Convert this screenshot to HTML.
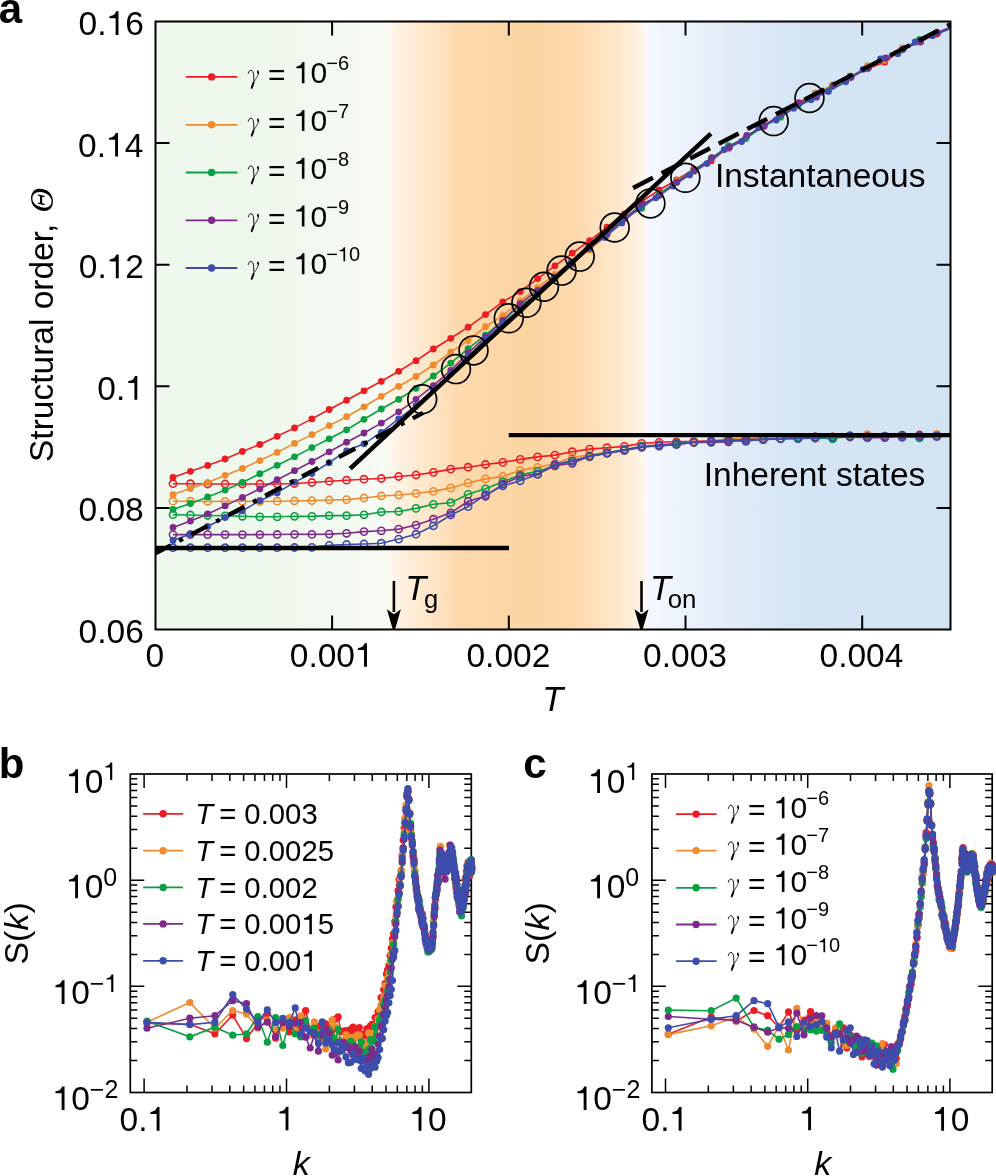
<!DOCTYPE html>
<html><head><meta charset="utf-8"><style>html,body{margin:0;padding:0;background:#fff;width:996px;height:1176px;overflow:hidden}#bg{position:absolute;left:155.5px;top:21.5px;width:795px;height:608px;background:linear-gradient(to right, #EEF8EC 0.00px, #EFF8ED 94.53px, #F2F9F0 174.50px, #F7FBF5 232.38px, #FFF6EC 232.62px, #FEE9CF 264.50px, #FDD9AB 306.47px, #FCD6A6 344.47px, #FCD5A4 384.46px, #FDD9AD 419.52px, #FDE2BE 444.48px, #FEEBD3 469.53px, #FFF8F0 490.44px, #F4F8FF 490.59px, #EDF3FC 524.46px, #E0EBF7 579.48px, #D5E5F4 644.51px, #D2E3F2 795.00px)}svg text{fill:#000}</style></head><body>
<div id="bg"></div>
<svg width="996" height="1176" viewBox="0 0 996 1176" style="position:absolute;left:0;top:0;will-change:transform">
<svg x="155.5" y="21.5" width="795" height="608" viewBox="155.5 21.5 795 608" overflow="hidden">
<polyline points="173.0,483.7 190.4,483.7 207.7,484.0 225.1,484.0 242.4,484.0 259.8,484.0 277.2,484.0 294.5,483.5 311.9,482.5 329.2,481.2 346.6,480.2 364.0,479.2 381.3,478.5 398.7,476.5 416.0,475.0 433.4,472.4 450.8,469.1 468.1,467.2 485.5,464.5 502.8,462.4 520.2,459.4 537.6,456.9 554.9,455.1 572.3,451.7 589.6,449.1 607.0,447.7 624.4,446.4 641.7,443.4 659.1,442.3 676.4,441.8 693.8,441.3 711.2,440.8 728.5,440.2 745.9,439.8 763.2,439.3 780.6,438.7 798.0,437.7 815.3,436.8 832.7,436.8 850.0,435.9 867.4,436.5 884.8,437.4 902.1,435.4 919.5,435.0 936.8,435.8 954.2,435.5" fill="none" stroke="#ED1C24" stroke-width="1.6"/>
<g fill="none" stroke="#ED1C24" stroke-width="1.6">
<circle cx="173.0" cy="483.7" r="3.6"/><circle cx="190.4" cy="483.7" r="3.6"/><circle cx="207.7" cy="484.0" r="3.6"/><circle cx="225.1" cy="484.0" r="3.6"/><circle cx="242.4" cy="484.0" r="3.6"/><circle cx="259.8" cy="484.0" r="3.6"/><circle cx="277.2" cy="484.0" r="3.6"/><circle cx="294.5" cy="483.5" r="3.6"/><circle cx="311.9" cy="482.5" r="3.6"/><circle cx="329.2" cy="481.2" r="3.6"/><circle cx="346.6" cy="480.2" r="3.6"/><circle cx="364.0" cy="479.2" r="3.6"/><circle cx="381.3" cy="478.5" r="3.6"/><circle cx="398.7" cy="476.5" r="3.6"/><circle cx="416.0" cy="475.0" r="3.6"/><circle cx="433.4" cy="472.4" r="3.6"/><circle cx="450.8" cy="469.1" r="3.6"/><circle cx="468.1" cy="467.2" r="3.6"/><circle cx="485.5" cy="464.5" r="3.6"/><circle cx="502.8" cy="462.4" r="3.6"/><circle cx="520.2" cy="459.4" r="3.6"/><circle cx="537.6" cy="456.9" r="3.6"/><circle cx="554.9" cy="455.1" r="3.6"/><circle cx="572.3" cy="451.7" r="3.6"/><circle cx="589.6" cy="449.1" r="3.6"/><circle cx="607.0" cy="447.7" r="3.6"/><circle cx="624.4" cy="446.4" r="3.6"/><circle cx="641.7" cy="443.4" r="3.6"/><circle cx="659.1" cy="442.3" r="3.6"/><circle cx="676.4" cy="441.8" r="3.6"/><circle cx="693.8" cy="441.3" r="3.6"/><circle cx="711.2" cy="440.8" r="3.6"/><circle cx="728.5" cy="440.2" r="3.6"/><circle cx="745.9" cy="439.8" r="3.6"/><circle cx="763.2" cy="439.3" r="3.6"/><circle cx="780.6" cy="438.7" r="3.6"/><circle cx="798.0" cy="437.7" r="3.6"/><circle cx="815.3" cy="436.8" r="3.6"/><circle cx="832.7" cy="436.8" r="3.6"/><circle cx="850.0" cy="435.9" r="3.6"/><circle cx="867.4" cy="436.5" r="3.6"/><circle cx="884.8" cy="437.4" r="3.6"/><circle cx="902.1" cy="435.4" r="3.6"/><circle cx="919.5" cy="435.0" r="3.6"/><circle cx="936.8" cy="435.8" r="3.6"/><circle cx="954.2" cy="435.5" r="3.6"/>
</g>
<polyline points="173.0,501.2 190.4,501.2 207.7,501.5 225.1,501.3 242.4,501.3 259.8,501.5 277.2,501.2 294.5,501.0 311.9,500.6 329.2,500.0 346.6,499.6 364.0,498.0 381.3,496.0 398.7,495.0 416.0,493.5 433.4,491.4 450.8,487.9 468.1,482.9 485.5,478.9 502.8,476.4 520.2,470.4 537.6,467.4 554.9,463.8 572.3,457.4 589.6,454.9 607.0,452.4 624.4,450.5 641.7,446.1 659.1,444.9 676.4,444.4 693.8,441.2 711.2,441.0 728.5,438.9 745.9,438.8 763.2,437.7 780.6,438.7 798.0,437.2 815.3,438.2 832.7,437.7 850.0,437.0 867.4,434.6 884.8,436.1 902.1,436.2 919.5,436.1 936.8,434.4 954.2,435.2" fill="none" stroke="#EF8A2D" stroke-width="1.6"/>
<g fill="none" stroke="#EF8A2D" stroke-width="1.6">
<circle cx="173.0" cy="501.2" r="3.6"/><circle cx="190.4" cy="501.2" r="3.6"/><circle cx="207.7" cy="501.5" r="3.6"/><circle cx="225.1" cy="501.3" r="3.6"/><circle cx="242.4" cy="501.3" r="3.6"/><circle cx="259.8" cy="501.5" r="3.6"/><circle cx="277.2" cy="501.2" r="3.6"/><circle cx="294.5" cy="501.0" r="3.6"/><circle cx="311.9" cy="500.6" r="3.6"/><circle cx="329.2" cy="500.0" r="3.6"/><circle cx="346.6" cy="499.6" r="3.6"/><circle cx="364.0" cy="498.0" r="3.6"/><circle cx="381.3" cy="496.0" r="3.6"/><circle cx="398.7" cy="495.0" r="3.6"/><circle cx="416.0" cy="493.5" r="3.6"/><circle cx="433.4" cy="491.4" r="3.6"/><circle cx="450.8" cy="487.9" r="3.6"/><circle cx="468.1" cy="482.9" r="3.6"/><circle cx="485.5" cy="478.9" r="3.6"/><circle cx="502.8" cy="476.4" r="3.6"/><circle cx="520.2" cy="470.4" r="3.6"/><circle cx="537.6" cy="467.4" r="3.6"/><circle cx="554.9" cy="463.8" r="3.6"/><circle cx="572.3" cy="457.4" r="3.6"/><circle cx="589.6" cy="454.9" r="3.6"/><circle cx="607.0" cy="452.4" r="3.6"/><circle cx="624.4" cy="450.5" r="3.6"/><circle cx="641.7" cy="446.1" r="3.6"/><circle cx="659.1" cy="444.9" r="3.6"/><circle cx="676.4" cy="444.4" r="3.6"/><circle cx="693.8" cy="441.2" r="3.6"/><circle cx="711.2" cy="441.0" r="3.6"/><circle cx="728.5" cy="438.9" r="3.6"/><circle cx="745.9" cy="438.8" r="3.6"/><circle cx="763.2" cy="437.7" r="3.6"/><circle cx="780.6" cy="438.7" r="3.6"/><circle cx="798.0" cy="437.2" r="3.6"/><circle cx="815.3" cy="438.2" r="3.6"/><circle cx="832.7" cy="437.7" r="3.6"/><circle cx="850.0" cy="437.0" r="3.6"/><circle cx="867.4" cy="434.6" r="3.6"/><circle cx="884.8" cy="436.1" r="3.6"/><circle cx="902.1" cy="436.2" r="3.6"/><circle cx="919.5" cy="436.1" r="3.6"/><circle cx="936.8" cy="434.4" r="3.6"/><circle cx="954.2" cy="435.2" r="3.6"/>
</g>
<polyline points="173.0,514.7 190.4,515.0 207.7,515.5 225.1,515.8 242.4,516.3 259.8,516.8 277.2,516.8 294.5,516.3 311.9,516.4 329.2,515.6 346.6,515.6 364.0,514.8 381.3,512.0 398.7,511.5 416.0,508.4 433.4,504.3 450.8,502.7 468.1,494.3 485.5,488.8 502.8,481.8 520.2,474.8 537.6,471.4 554.9,465.8 572.3,461.3 589.6,456.8 607.0,452.9 624.4,449.5 641.7,446.2 659.1,445.9 676.4,443.0 693.8,442.4 711.2,442.3 728.5,440.1 745.9,439.9 763.2,439.5 780.6,438.9 798.0,437.3 815.3,438.0 832.7,438.8 850.0,435.8 867.4,437.7 884.8,436.7 902.1,435.7 919.5,437.8 936.8,436.5 954.2,434.5" fill="none" stroke="#07A043" stroke-width="1.6"/>
<g fill="none" stroke="#07A043" stroke-width="1.6">
<circle cx="173.0" cy="514.7" r="3.6"/><circle cx="190.4" cy="515.0" r="3.6"/><circle cx="207.7" cy="515.5" r="3.6"/><circle cx="225.1" cy="515.8" r="3.6"/><circle cx="242.4" cy="516.3" r="3.6"/><circle cx="259.8" cy="516.8" r="3.6"/><circle cx="277.2" cy="516.8" r="3.6"/><circle cx="294.5" cy="516.3" r="3.6"/><circle cx="311.9" cy="516.4" r="3.6"/><circle cx="329.2" cy="515.6" r="3.6"/><circle cx="346.6" cy="515.6" r="3.6"/><circle cx="364.0" cy="514.8" r="3.6"/><circle cx="381.3" cy="512.0" r="3.6"/><circle cx="398.7" cy="511.5" r="3.6"/><circle cx="416.0" cy="508.4" r="3.6"/><circle cx="433.4" cy="504.3" r="3.6"/><circle cx="450.8" cy="502.7" r="3.6"/><circle cx="468.1" cy="494.3" r="3.6"/><circle cx="485.5" cy="488.8" r="3.6"/><circle cx="502.8" cy="481.8" r="3.6"/><circle cx="520.2" cy="474.8" r="3.6"/><circle cx="537.6" cy="471.4" r="3.6"/><circle cx="554.9" cy="465.8" r="3.6"/><circle cx="572.3" cy="461.3" r="3.6"/><circle cx="589.6" cy="456.8" r="3.6"/><circle cx="607.0" cy="452.9" r="3.6"/><circle cx="624.4" cy="449.5" r="3.6"/><circle cx="641.7" cy="446.2" r="3.6"/><circle cx="659.1" cy="445.9" r="3.6"/><circle cx="676.4" cy="443.0" r="3.6"/><circle cx="693.8" cy="442.4" r="3.6"/><circle cx="711.2" cy="442.3" r="3.6"/><circle cx="728.5" cy="440.1" r="3.6"/><circle cx="745.9" cy="439.9" r="3.6"/><circle cx="763.2" cy="439.5" r="3.6"/><circle cx="780.6" cy="438.9" r="3.6"/><circle cx="798.0" cy="437.3" r="3.6"/><circle cx="815.3" cy="438.0" r="3.6"/><circle cx="832.7" cy="438.8" r="3.6"/><circle cx="850.0" cy="435.8" r="3.6"/><circle cx="867.4" cy="437.7" r="3.6"/><circle cx="884.8" cy="436.7" r="3.6"/><circle cx="902.1" cy="435.7" r="3.6"/><circle cx="919.5" cy="437.8" r="3.6"/><circle cx="936.8" cy="436.5" r="3.6"/><circle cx="954.2" cy="434.5" r="3.6"/>
</g>
<polyline points="173.0,534.6 190.4,534.6 207.7,534.6 225.1,534.6 242.4,534.6 259.8,534.6 277.2,534.5 294.5,534.3 311.9,534.4 329.2,534.1 346.6,533.3 364.0,531.6 381.3,530.8 398.7,529.1 416.0,525.1 433.4,519.2 450.8,512.8 468.1,501.3 485.5,496.3 502.8,484.2 520.2,476.4 537.6,473.9 554.9,465.7 572.3,463.3 589.6,456.3 607.0,453.4 624.4,450.4 641.7,447.4 659.1,444.8 676.4,444.4 693.8,442.4 711.2,442.1 728.5,442.0 745.9,439.4 763.2,439.6 780.6,438.5 798.0,438.5 815.3,436.9 832.7,437.1 850.0,437.0 867.4,437.7 884.8,437.6 902.1,435.1 919.5,435.3 936.8,436.4 954.2,433.8" fill="none" stroke="#7E2A8B" stroke-width="1.6"/>
<g fill="none" stroke="#7E2A8B" stroke-width="1.6">
<circle cx="173.0" cy="534.6" r="3.6"/><circle cx="190.4" cy="534.6" r="3.6"/><circle cx="207.7" cy="534.6" r="3.6"/><circle cx="225.1" cy="534.6" r="3.6"/><circle cx="242.4" cy="534.6" r="3.6"/><circle cx="259.8" cy="534.6" r="3.6"/><circle cx="277.2" cy="534.5" r="3.6"/><circle cx="294.5" cy="534.3" r="3.6"/><circle cx="311.9" cy="534.4" r="3.6"/><circle cx="329.2" cy="534.1" r="3.6"/><circle cx="346.6" cy="533.3" r="3.6"/><circle cx="364.0" cy="531.6" r="3.6"/><circle cx="381.3" cy="530.8" r="3.6"/><circle cx="398.7" cy="529.1" r="3.6"/><circle cx="416.0" cy="525.1" r="3.6"/><circle cx="433.4" cy="519.2" r="3.6"/><circle cx="450.8" cy="512.8" r="3.6"/><circle cx="468.1" cy="501.3" r="3.6"/><circle cx="485.5" cy="496.3" r="3.6"/><circle cx="502.8" cy="484.2" r="3.6"/><circle cx="520.2" cy="476.4" r="3.6"/><circle cx="537.6" cy="473.9" r="3.6"/><circle cx="554.9" cy="465.7" r="3.6"/><circle cx="572.3" cy="463.3" r="3.6"/><circle cx="589.6" cy="456.3" r="3.6"/><circle cx="607.0" cy="453.4" r="3.6"/><circle cx="624.4" cy="450.4" r="3.6"/><circle cx="641.7" cy="447.4" r="3.6"/><circle cx="659.1" cy="444.8" r="3.6"/><circle cx="676.4" cy="444.4" r="3.6"/><circle cx="693.8" cy="442.4" r="3.6"/><circle cx="711.2" cy="442.1" r="3.6"/><circle cx="728.5" cy="442.0" r="3.6"/><circle cx="745.9" cy="439.4" r="3.6"/><circle cx="763.2" cy="439.6" r="3.6"/><circle cx="780.6" cy="438.5" r="3.6"/><circle cx="798.0" cy="438.5" r="3.6"/><circle cx="815.3" cy="436.9" r="3.6"/><circle cx="832.7" cy="437.1" r="3.6"/><circle cx="850.0" cy="437.0" r="3.6"/><circle cx="867.4" cy="437.7" r="3.6"/><circle cx="884.8" cy="437.6" r="3.6"/><circle cx="902.1" cy="435.1" r="3.6"/><circle cx="919.5" cy="435.3" r="3.6"/><circle cx="936.8" cy="436.4" r="3.6"/><circle cx="954.2" cy="433.8" r="3.6"/>
</g>
<polyline points="173.0,547.7 190.4,547.7 207.7,547.7 225.1,547.7 242.4,547.7 259.8,547.7 277.2,547.7 294.5,547.5 311.9,547.3 329.2,545.3 346.6,544.5 364.0,544.0 381.3,543.2 398.7,539.1 416.0,534.2 433.4,525.8 450.8,515.0 468.1,506.7 485.5,494.7 502.8,485.8 520.2,480.8 537.6,474.4 554.9,464.3 572.3,460.8 589.6,456.1 607.0,452.9 624.4,450.0 641.7,446.8 659.1,446.1 676.4,444.4 693.8,442.2 711.2,441.1 728.5,440.4 745.9,441.3 763.2,439.0 780.6,438.6 798.0,438.7 815.3,437.9 832.7,437.4 850.0,436.2 867.4,436.9 884.8,436.2 902.1,437.3 919.5,436.6 936.8,435.8 954.2,436.2" fill="none" stroke="#3C4DAB" stroke-width="1.6"/>
<g fill="none" stroke="#3C4DAB" stroke-width="1.6">
<circle cx="173.0" cy="547.7" r="3.6"/><circle cx="190.4" cy="547.7" r="3.6"/><circle cx="207.7" cy="547.7" r="3.6"/><circle cx="225.1" cy="547.7" r="3.6"/><circle cx="242.4" cy="547.7" r="3.6"/><circle cx="259.8" cy="547.7" r="3.6"/><circle cx="277.2" cy="547.7" r="3.6"/><circle cx="294.5" cy="547.5" r="3.6"/><circle cx="311.9" cy="547.3" r="3.6"/><circle cx="329.2" cy="545.3" r="3.6"/><circle cx="346.6" cy="544.5" r="3.6"/><circle cx="364.0" cy="544.0" r="3.6"/><circle cx="381.3" cy="543.2" r="3.6"/><circle cx="398.7" cy="539.1" r="3.6"/><circle cx="416.0" cy="534.2" r="3.6"/><circle cx="433.4" cy="525.8" r="3.6"/><circle cx="450.8" cy="515.0" r="3.6"/><circle cx="468.1" cy="506.7" r="3.6"/><circle cx="485.5" cy="494.7" r="3.6"/><circle cx="502.8" cy="485.8" r="3.6"/><circle cx="520.2" cy="480.8" r="3.6"/><circle cx="537.6" cy="474.4" r="3.6"/><circle cx="554.9" cy="464.3" r="3.6"/><circle cx="572.3" cy="460.8" r="3.6"/><circle cx="589.6" cy="456.1" r="3.6"/><circle cx="607.0" cy="452.9" r="3.6"/><circle cx="624.4" cy="450.0" r="3.6"/><circle cx="641.7" cy="446.8" r="3.6"/><circle cx="659.1" cy="446.1" r="3.6"/><circle cx="676.4" cy="444.4" r="3.6"/><circle cx="693.8" cy="442.2" r="3.6"/><circle cx="711.2" cy="441.1" r="3.6"/><circle cx="728.5" cy="440.4" r="3.6"/><circle cx="745.9" cy="441.3" r="3.6"/><circle cx="763.2" cy="439.0" r="3.6"/><circle cx="780.6" cy="438.6" r="3.6"/><circle cx="798.0" cy="438.7" r="3.6"/><circle cx="815.3" cy="437.9" r="3.6"/><circle cx="832.7" cy="437.4" r="3.6"/><circle cx="850.0" cy="436.2" r="3.6"/><circle cx="867.4" cy="436.9" r="3.6"/><circle cx="884.8" cy="436.2" r="3.6"/><circle cx="902.1" cy="437.3" r="3.6"/><circle cx="919.5" cy="436.6" r="3.6"/><circle cx="936.8" cy="435.8" r="3.6"/><circle cx="954.2" cy="436.2" r="3.6"/>
</g>
<polyline points="173.0,477.3 190.4,471.3 207.7,465.4 225.1,459.0 242.4,451.4 259.8,444.5 277.2,436.3 294.5,427.9 311.9,418.9 329.2,409.5 346.6,400.2 364.0,390.8 381.3,381.3 398.7,371.3 416.0,360.7 433.4,349.0 450.8,338.3 468.1,327.2 485.5,314.6 502.8,301.9 520.2,291.6 537.6,278.6 554.9,265.8 572.3,253.1 589.6,240.7 607.0,227.1 624.4,213.9 641.7,201.5 659.1,190.0 676.4,180.0 693.8,169.1 711.2,160.9 728.5,147.4 745.9,137.7 763.2,125.0 780.6,116.4 798.0,102.8 815.3,93.2 832.7,86.0 850.0,76.2 867.4,68.8 884.8,62.2 902.1,49.1 919.5,40.6 936.8,34.1 954.2,26.1" fill="none" stroke="#ED1C24" stroke-width="1.6"/>
<g fill="#ED1C24">
<circle cx="173.0" cy="477.3" r="3.4"/><circle cx="190.4" cy="471.3" r="3.4"/><circle cx="207.7" cy="465.4" r="3.4"/><circle cx="225.1" cy="459.0" r="3.4"/><circle cx="242.4" cy="451.4" r="3.4"/><circle cx="259.8" cy="444.5" r="3.4"/><circle cx="277.2" cy="436.3" r="3.4"/><circle cx="294.5" cy="427.9" r="3.4"/><circle cx="311.9" cy="418.9" r="3.4"/><circle cx="329.2" cy="409.5" r="3.4"/><circle cx="346.6" cy="400.2" r="3.4"/><circle cx="364.0" cy="390.8" r="3.4"/><circle cx="381.3" cy="381.3" r="3.4"/><circle cx="398.7" cy="371.3" r="3.4"/><circle cx="416.0" cy="360.7" r="3.4"/><circle cx="433.4" cy="349.0" r="3.4"/><circle cx="450.8" cy="338.3" r="3.4"/><circle cx="468.1" cy="327.2" r="3.4"/><circle cx="485.5" cy="314.6" r="3.4"/><circle cx="502.8" cy="301.9" r="3.4"/><circle cx="520.2" cy="291.6" r="3.4"/><circle cx="537.6" cy="278.6" r="3.4"/><circle cx="554.9" cy="265.8" r="3.4"/><circle cx="572.3" cy="253.1" r="3.4"/><circle cx="589.6" cy="240.7" r="3.4"/><circle cx="607.0" cy="227.1" r="3.4"/><circle cx="624.4" cy="213.9" r="3.4"/><circle cx="641.7" cy="201.5" r="3.4"/><circle cx="659.1" cy="190.0" r="3.4"/><circle cx="676.4" cy="180.0" r="3.4"/><circle cx="693.8" cy="169.1" r="3.4"/><circle cx="711.2" cy="160.9" r="3.4"/><circle cx="728.5" cy="147.4" r="3.4"/><circle cx="745.9" cy="137.7" r="3.4"/><circle cx="763.2" cy="125.0" r="3.4"/><circle cx="780.6" cy="116.4" r="3.4"/><circle cx="798.0" cy="102.8" r="3.4"/><circle cx="815.3" cy="93.2" r="3.4"/><circle cx="832.7" cy="86.0" r="3.4"/><circle cx="850.0" cy="76.2" r="3.4"/><circle cx="867.4" cy="68.8" r="3.4"/><circle cx="884.8" cy="62.2" r="3.4"/><circle cx="902.1" cy="49.1" r="3.4"/><circle cx="919.5" cy="40.6" r="3.4"/><circle cx="936.8" cy="34.1" r="3.4"/>
</g>
<polyline points="173.0,494.6 190.4,488.5 207.7,482.6 225.1,475.3 242.4,468.5 259.8,460.6 277.2,452.4 294.5,443.4 311.9,434.6 329.2,425.6 346.6,416.7 364.0,406.8 381.3,396.3 398.7,386.3 416.0,376.5 433.4,365.0 450.8,352.1 468.1,340.6 485.5,326.7 502.8,315.6 520.2,301.0 537.6,287.6 554.9,274.3 572.3,261.8 589.6,249.9 607.0,235.0 624.4,218.0 641.7,206.6 659.1,194.7 676.4,181.0 693.8,171.4 711.2,158.0 728.5,148.8 745.9,137.1 763.2,126.9 780.6,115.1 798.0,105.0 815.3,93.3 832.7,84.9 850.0,78.0 867.4,65.6 884.8,60.3 902.1,47.8 919.5,42.5 936.8,32.6 954.2,26.5" fill="none" stroke="#EF8A2D" stroke-width="1.6"/>
<g fill="#EF8A2D">
<circle cx="173.0" cy="494.6" r="3.4"/><circle cx="190.4" cy="488.5" r="3.4"/><circle cx="207.7" cy="482.6" r="3.4"/><circle cx="225.1" cy="475.3" r="3.4"/><circle cx="242.4" cy="468.5" r="3.4"/><circle cx="259.8" cy="460.6" r="3.4"/><circle cx="277.2" cy="452.4" r="3.4"/><circle cx="294.5" cy="443.4" r="3.4"/><circle cx="311.9" cy="434.6" r="3.4"/><circle cx="329.2" cy="425.6" r="3.4"/><circle cx="346.6" cy="416.7" r="3.4"/><circle cx="364.0" cy="406.8" r="3.4"/><circle cx="381.3" cy="396.3" r="3.4"/><circle cx="398.7" cy="386.3" r="3.4"/><circle cx="416.0" cy="376.5" r="3.4"/><circle cx="433.4" cy="365.0" r="3.4"/><circle cx="450.8" cy="352.1" r="3.4"/><circle cx="468.1" cy="340.6" r="3.4"/><circle cx="485.5" cy="326.7" r="3.4"/><circle cx="502.8" cy="315.6" r="3.4"/><circle cx="520.2" cy="301.0" r="3.4"/><circle cx="537.6" cy="287.6" r="3.4"/><circle cx="554.9" cy="274.3" r="3.4"/><circle cx="572.3" cy="261.8" r="3.4"/><circle cx="589.6" cy="249.9" r="3.4"/><circle cx="607.0" cy="235.0" r="3.4"/><circle cx="624.4" cy="218.0" r="3.4"/><circle cx="641.7" cy="206.6" r="3.4"/><circle cx="659.1" cy="194.7" r="3.4"/><circle cx="676.4" cy="181.0" r="3.4"/><circle cx="693.8" cy="171.4" r="3.4"/><circle cx="711.2" cy="158.0" r="3.4"/><circle cx="728.5" cy="148.8" r="3.4"/><circle cx="745.9" cy="137.1" r="3.4"/><circle cx="763.2" cy="126.9" r="3.4"/><circle cx="780.6" cy="115.1" r="3.4"/><circle cx="798.0" cy="105.0" r="3.4"/><circle cx="815.3" cy="93.3" r="3.4"/><circle cx="832.7" cy="84.9" r="3.4"/><circle cx="850.0" cy="78.0" r="3.4"/><circle cx="867.4" cy="65.6" r="3.4"/><circle cx="884.8" cy="60.3" r="3.4"/><circle cx="902.1" cy="47.8" r="3.4"/><circle cx="919.5" cy="42.5" r="3.4"/><circle cx="936.8" cy="32.6" r="3.4"/>
</g>
<polyline points="173.0,509.4 190.4,503.5 207.7,497.0 225.1,490.1 242.4,482.5 259.8,473.7 277.2,465.3 294.5,456.8 311.9,447.6 329.2,438.8 346.6,429.8 364.0,419.3 381.3,409.0 398.7,399.3 416.0,388.3 433.4,376.0 450.8,363.1 468.1,348.6 485.5,335.1 502.8,320.8 520.2,305.5 537.6,294.5 554.9,278.6 572.3,262.1 589.6,248.5 607.0,234.0 624.4,218.1 641.7,208.3 659.1,193.9 676.4,182.4 693.8,169.9 711.2,158.4 728.5,145.6 745.9,138.6 763.2,126.6 780.6,117.2 798.0,105.2 815.3,95.1 832.7,86.0 850.0,76.7 867.4,68.6 884.8,58.5 902.1,49.9 919.5,39.5 936.8,32.6 954.2,27.7" fill="none" stroke="#07A043" stroke-width="1.6"/>
<g fill="#07A043">
<circle cx="173.0" cy="509.4" r="3.4"/><circle cx="190.4" cy="503.5" r="3.4"/><circle cx="207.7" cy="497.0" r="3.4"/><circle cx="225.1" cy="490.1" r="3.4"/><circle cx="242.4" cy="482.5" r="3.4"/><circle cx="259.8" cy="473.7" r="3.4"/><circle cx="277.2" cy="465.3" r="3.4"/><circle cx="294.5" cy="456.8" r="3.4"/><circle cx="311.9" cy="447.6" r="3.4"/><circle cx="329.2" cy="438.8" r="3.4"/><circle cx="346.6" cy="429.8" r="3.4"/><circle cx="364.0" cy="419.3" r="3.4"/><circle cx="381.3" cy="409.0" r="3.4"/><circle cx="398.7" cy="399.3" r="3.4"/><circle cx="416.0" cy="388.3" r="3.4"/><circle cx="433.4" cy="376.0" r="3.4"/><circle cx="450.8" cy="363.1" r="3.4"/><circle cx="468.1" cy="348.6" r="3.4"/><circle cx="485.5" cy="335.1" r="3.4"/><circle cx="502.8" cy="320.8" r="3.4"/><circle cx="520.2" cy="305.5" r="3.4"/><circle cx="537.6" cy="294.5" r="3.4"/><circle cx="554.9" cy="278.6" r="3.4"/><circle cx="572.3" cy="262.1" r="3.4"/><circle cx="589.6" cy="248.5" r="3.4"/><circle cx="607.0" cy="234.0" r="3.4"/><circle cx="624.4" cy="218.1" r="3.4"/><circle cx="641.7" cy="208.3" r="3.4"/><circle cx="659.1" cy="193.9" r="3.4"/><circle cx="676.4" cy="182.4" r="3.4"/><circle cx="693.8" cy="169.9" r="3.4"/><circle cx="711.2" cy="158.4" r="3.4"/><circle cx="728.5" cy="145.6" r="3.4"/><circle cx="745.9" cy="138.6" r="3.4"/><circle cx="763.2" cy="126.6" r="3.4"/><circle cx="780.6" cy="117.2" r="3.4"/><circle cx="798.0" cy="105.2" r="3.4"/><circle cx="815.3" cy="95.1" r="3.4"/><circle cx="832.7" cy="86.0" r="3.4"/><circle cx="850.0" cy="76.7" r="3.4"/><circle cx="867.4" cy="68.6" r="3.4"/><circle cx="884.8" cy="58.5" r="3.4"/><circle cx="902.1" cy="49.9" r="3.4"/><circle cx="919.5" cy="39.5" r="3.4"/><circle cx="936.8" cy="32.6" r="3.4"/>
</g>
<polyline points="173.0,527.5 190.4,521.1 207.7,513.9 225.1,505.9 242.4,497.4 259.8,488.9 277.2,479.7 294.5,470.7 311.9,461.5 329.2,451.8 346.6,442.2 364.0,433.0 381.3,423.1 398.7,411.8 416.0,399.3 433.4,385.7 450.8,370.3 468.1,353.0 485.5,337.0 502.8,320.5 520.2,303.6 537.6,290.3 554.9,277.2 572.3,264.2 589.6,246.9 607.0,234.0 624.4,218.6 641.9,204.2 659.4,195.5 676.9,182.2 694.4,170.8 711.9,157.6 729.4,147.5 746.9,135.5 764.4,125.9 781.8,113.5 799.2,102.9 816.5,97.2 833.9,85.1 851.2,77.3 868.6,67.8 886.0,57.9 903.3,48.9 920.7,41.8 938.0,32.8 955.4,24.6" fill="none" stroke="#7E2A8B" stroke-width="1.6"/>
<g fill="#7E2A8B">
<circle cx="173.0" cy="527.5" r="3.4"/><circle cx="190.4" cy="521.1" r="3.4"/><circle cx="207.7" cy="513.9" r="3.4"/><circle cx="225.1" cy="505.9" r="3.4"/><circle cx="242.4" cy="497.4" r="3.4"/><circle cx="259.8" cy="488.9" r="3.4"/><circle cx="277.2" cy="479.7" r="3.4"/><circle cx="294.5" cy="470.7" r="3.4"/><circle cx="311.9" cy="461.5" r="3.4"/><circle cx="329.2" cy="451.8" r="3.4"/><circle cx="346.6" cy="442.2" r="3.4"/><circle cx="364.0" cy="433.0" r="3.4"/><circle cx="381.3" cy="423.1" r="3.4"/><circle cx="398.7" cy="411.8" r="3.4"/><circle cx="416.0" cy="399.3" r="3.4"/><circle cx="433.4" cy="385.7" r="3.4"/><circle cx="450.8" cy="370.3" r="3.4"/><circle cx="468.1" cy="353.0" r="3.4"/><circle cx="485.5" cy="337.0" r="3.4"/><circle cx="502.8" cy="320.5" r="3.4"/><circle cx="520.2" cy="303.6" r="3.4"/><circle cx="537.6" cy="290.3" r="3.4"/><circle cx="554.9" cy="277.2" r="3.4"/><circle cx="572.3" cy="264.2" r="3.4"/><circle cx="589.6" cy="246.9" r="3.4"/><circle cx="607.0" cy="234.0" r="3.4"/><circle cx="624.4" cy="218.6" r="3.4"/><circle cx="641.9" cy="204.2" r="3.4"/><circle cx="659.4" cy="195.5" r="3.4"/><circle cx="676.9" cy="182.2" r="3.4"/><circle cx="694.4" cy="170.8" r="3.4"/><circle cx="711.9" cy="157.6" r="3.4"/><circle cx="729.4" cy="147.5" r="3.4"/><circle cx="746.9" cy="135.5" r="3.4"/><circle cx="764.4" cy="125.9" r="3.4"/><circle cx="781.8" cy="113.5" r="3.4"/><circle cx="799.2" cy="102.9" r="3.4"/><circle cx="816.5" cy="97.2" r="3.4"/><circle cx="833.9" cy="85.1" r="3.4"/><circle cx="851.2" cy="77.3" r="3.4"/><circle cx="868.6" cy="67.8" r="3.4"/><circle cx="886.0" cy="57.9" r="3.4"/><circle cx="903.3" cy="48.9" r="3.4"/><circle cx="920.7" cy="41.8" r="3.4"/><circle cx="938.0" cy="32.8" r="3.4"/>
</g>
<polyline points="173.0,540.4 190.4,534.0 207.7,526.5 225.1,517.5 242.4,510.9 259.8,500.7 277.2,492.9 294.5,482.1 311.9,473.5 329.2,462.7 346.6,450.8 364.0,443.8 381.3,432.3 398.7,418.8 416.0,405.6 433.4,389.6 450.8,373.6 468.1,356.0 485.5,339.0 502.8,323.1 520.2,309.8 537.1,294.0 554.1,277.9 571.0,262.4 588.0,248.3 604.9,237.4 621.9,222.9 638.8,208.5 655.8,197.8 672.7,186.1 689.6,174.9 706.9,163.6 724.2,149.6 741.6,141.5 758.9,127.5 776.3,120.0 793.7,108.2 811.0,99.7 828.4,91.4 845.7,81.7 863.1,69.3 880.5,58.9 897.8,53.7 915.2,42.0 932.5,35.7 949.9,28.7" fill="none" stroke="#3C4DAB" stroke-width="1.6"/>
<g fill="#3C4DAB">
<circle cx="173.0" cy="540.4" r="3.4"/><circle cx="190.4" cy="534.0" r="3.4"/><circle cx="207.7" cy="526.5" r="3.4"/><circle cx="225.1" cy="517.5" r="3.4"/><circle cx="242.4" cy="510.9" r="3.4"/><circle cx="259.8" cy="500.7" r="3.4"/><circle cx="277.2" cy="492.9" r="3.4"/><circle cx="294.5" cy="482.1" r="3.4"/><circle cx="311.9" cy="473.5" r="3.4"/><circle cx="329.2" cy="462.7" r="3.4"/><circle cx="346.6" cy="450.8" r="3.4"/><circle cx="364.0" cy="443.8" r="3.4"/><circle cx="381.3" cy="432.3" r="3.4"/><circle cx="398.7" cy="418.8" r="3.4"/><circle cx="416.0" cy="405.6" r="3.4"/><circle cx="433.4" cy="389.6" r="3.4"/><circle cx="450.8" cy="373.6" r="3.4"/><circle cx="468.1" cy="356.0" r="3.4"/><circle cx="485.5" cy="339.0" r="3.4"/><circle cx="502.8" cy="323.1" r="3.4"/><circle cx="520.2" cy="309.8" r="3.4"/><circle cx="537.1" cy="294.0" r="3.4"/><circle cx="554.1" cy="277.9" r="3.4"/><circle cx="571.0" cy="262.4" r="3.4"/><circle cx="588.0" cy="248.3" r="3.4"/><circle cx="604.9" cy="237.4" r="3.4"/><circle cx="621.9" cy="222.9" r="3.4"/><circle cx="638.8" cy="208.5" r="3.4"/><circle cx="655.8" cy="197.8" r="3.4"/><circle cx="672.7" cy="186.1" r="3.4"/><circle cx="689.6" cy="174.9" r="3.4"/><circle cx="706.9" cy="163.6" r="3.4"/><circle cx="724.2" cy="149.6" r="3.4"/><circle cx="741.6" cy="141.5" r="3.4"/><circle cx="758.9" cy="127.5" r="3.4"/><circle cx="776.3" cy="120.0" r="3.4"/><circle cx="793.7" cy="108.2" r="3.4"/><circle cx="811.0" cy="99.7" r="3.4"/><circle cx="828.4" cy="91.4" r="3.4"/><circle cx="845.7" cy="81.7" r="3.4"/><circle cx="863.1" cy="69.3" r="3.4"/><circle cx="880.5" cy="58.9" r="3.4"/><circle cx="897.8" cy="53.7" r="3.4"/><circle cx="915.2" cy="42.0" r="3.4"/><circle cx="932.5" cy="35.7" r="3.4"/>
</g>
<line x1="155.5" y1="548" x2="509" y2="548" stroke="#000" stroke-width="4.3"/>
<line x1="508.7" y1="435.15" x2="950.5" y2="435.15" stroke="#000" stroke-width="4.3"/>
<line x1="155.5" y1="553.3" x2="423.0" y2="412.9" stroke="#000" stroke-width="4.3" stroke-dasharray="18.4 9.6 4.2 9.48" stroke-dashoffset="1.24"/>
<line x1="350.2" y1="468.6" x2="710.9" y2="133.6" stroke="#000" stroke-width="4.6"/>
<line x1="633.1" y1="188.0" x2="960" y2="19.3" stroke="#000" stroke-width="4.4" stroke-dasharray="22.3 9.83"/>
<circle cx="422.2" cy="399.2" r="14.4" fill="none" stroke="#000" stroke-width="1.7"/>
<circle cx="456.0" cy="369.1" r="14.4" fill="none" stroke="#000" stroke-width="1.7"/>
<circle cx="473.5" cy="350.4" r="14.4" fill="none" stroke="#000" stroke-width="1.7"/>
<circle cx="508.8" cy="318.3" r="14.4" fill="none" stroke="#000" stroke-width="1.7"/>
<circle cx="526.4" cy="302.8" r="14.4" fill="none" stroke="#000" stroke-width="1.7"/>
<circle cx="544.0" cy="286.7" r="14.4" fill="none" stroke="#000" stroke-width="1.7"/>
<circle cx="561.6" cy="270.6" r="14.4" fill="none" stroke="#000" stroke-width="1.7"/>
<circle cx="579.7" cy="256.6" r="14.4" fill="none" stroke="#000" stroke-width="1.7"/>
<circle cx="614.7" cy="227.5" r="14.4" fill="none" stroke="#000" stroke-width="1.7"/>
<circle cx="650.4" cy="203.4" r="14.4" fill="none" stroke="#000" stroke-width="1.7"/>
<circle cx="685.4" cy="177.8" r="14.4" fill="none" stroke="#000" stroke-width="1.7"/>
<circle cx="773.7" cy="121.1" r="14.4" fill="none" stroke="#000" stroke-width="1.7"/>
<circle cx="809.5" cy="98.0" r="14.4" fill="none" stroke="#000" stroke-width="1.7"/>
</svg>
<line x1="393.9" y1="581" x2="393.9" y2="612" stroke="#000" stroke-width="2.6"/>
<path d="M392.8,629.5 L386.9,609.2 L393.9,614.2 L400.9,609.2 L395.0,629.5 Z" fill="#000"/>
<line x1="641.5" y1="581" x2="641.5" y2="612" stroke="#000" stroke-width="2.6"/>
<path d="M640.4,629.5 L634.5,609.2 L641.5,614.2 L648.5,609.2 L642.6,629.5 Z" fill="#000"/>
<rect x="155.5" y="21.5" width="795" height="608" fill="none" stroke="#000" stroke-width="2"/>
<path d="M332.1,629.5v-14M332.1,21.5v14M508.8,629.5v-14M508.8,21.5v14M685.5,629.5v-14M685.5,21.5v14M862.2,629.5v-14M862.2,21.5v14M155.5,507.9h14M950.5,507.9h-14M155.5,386.3h14M950.5,386.3h-14M155.5,264.7h14M950.5,264.7h-14M155.5,143.1h14M950.5,143.1h-14" stroke="#000" stroke-width="2" fill="none"/>
<text x="-1.23" y="22.69" style="font-family:Liberation Sans;font-size:42.00px;font-weight:bold;">a</text>
<text x="-1.37" y="777.99" style="font-family:Liberation Sans;font-size:42.00px;font-weight:bold;">b</text>
<text x="523.26" y="778.29" style="font-family:Liberation Sans;font-size:42.00px;font-weight:bold;">c</text>
<text x="78.57" y="642.93" style="font-family:Liberation Sans;font-size:33.50px;">0.06</text>
<text x="78.56" y="521.33" style="font-family:Liberation Sans;font-size:33.50px;">0.08</text>
<text x="97.37" y="399.73" style="font-family:Liberation Sans;font-size:33.50px;">0.</text>
<path d="M0.272,0 L0.358,0 L0.358,-0.705 L0.29,-0.705 C0.27,-0.665 0.255,-0.635 0.235,-0.615 C0.2,-0.585 0.14,-0.57 0.105,-0.56 C0.09,-0.555 0.083,-0.545 0.083,-0.53 C0.083,-0.51 0.095,-0.5 0.11,-0.5 L0.272,-0.5 Z" fill="#000" transform="translate(125.30,399.73) scale(33.500)"/>
<text x="78.78" y="278.13" style="font-family:Liberation Sans;font-size:33.50px;">0.</text>
<path d="M0.272,0 L0.358,0 L0.358,-0.705 L0.29,-0.705 C0.27,-0.665 0.255,-0.635 0.235,-0.615 C0.2,-0.585 0.14,-0.57 0.105,-0.56 C0.09,-0.555 0.083,-0.545 0.083,-0.53 C0.083,-0.51 0.095,-0.5 0.11,-0.5 L0.272,-0.5 Z" fill="#000" transform="translate(106.72,278.13) scale(33.500)"/>
<text x="125.35" y="278.13" style="font-family:Liberation Sans;font-size:33.50px;">2</text>
<text x="78.08" y="156.53" style="font-family:Liberation Sans;font-size:33.50px;">0.</text>
<path d="M0.272,0 L0.358,0 L0.358,-0.705 L0.29,-0.705 C0.27,-0.665 0.255,-0.635 0.235,-0.615 C0.2,-0.585 0.14,-0.57 0.105,-0.56 C0.09,-0.555 0.083,-0.545 0.083,-0.53 C0.083,-0.51 0.095,-0.5 0.11,-0.5 L0.272,-0.5 Z" fill="#000" transform="translate(106.02,156.53) scale(33.500)"/>
<text x="124.65" y="156.53" style="font-family:Liberation Sans;font-size:33.50px;">4</text>
<text x="78.57" y="34.93" style="font-family:Liberation Sans;font-size:33.50px;">0.</text>
<path d="M0.272,0 L0.358,0 L0.358,-0.705 L0.29,-0.705 C0.27,-0.665 0.255,-0.635 0.235,-0.615 C0.2,-0.585 0.14,-0.57 0.105,-0.56 C0.09,-0.555 0.083,-0.545 0.083,-0.53 C0.083,-0.51 0.095,-0.5 0.11,-0.5 L0.272,-0.5 Z" fill="#000" transform="translate(106.51,34.93) scale(33.500)"/>
<text x="125.14" y="34.93" style="font-family:Liberation Sans;font-size:33.50px;">6</text>
<text x="145.48" y="666.79" style="font-family:Liberation Sans;font-size:33.50px;">0</text>
<text x="289.75" y="666.79" style="font-family:Liberation Sans;font-size:33.50px;">0.00</text>
<path d="M0.272,0 L0.358,0 L0.358,-0.705 L0.29,-0.705 C0.27,-0.665 0.255,-0.635 0.235,-0.615 C0.2,-0.585 0.14,-0.57 0.105,-0.56 C0.09,-0.555 0.083,-0.545 0.083,-0.53 C0.083,-0.51 0.095,-0.5 0.11,-0.5 L0.272,-0.5 Z" fill="#000" transform="translate(354.95,666.79) scale(33.500)"/>
<text x="466.47" y="666.79" style="font-family:Liberation Sans;font-size:33.50px;">0.002</text>
<text x="643.07" y="666.79" style="font-family:Liberation Sans;font-size:33.50px;">0.003</text>
<text x="819.52" y="666.79" style="font-family:Liberation Sans;font-size:33.50px;">0.004</text>
<text x="542.22" y="710.60" style="font-family:Liberation Sans;font-size:34.30px;font-style:italic;">T</text>
<text transform="translate(53.4,462.0) rotate(-90)" style="font-family:Liberation Sans;font-size:33.5px">Structural order, <tspan dx="1.6" style="font-family:Liberation Serif;font-style:italic;font-size:34.5px">&#920;</tspan></text>
<line x1="185.7" y1="76.9" x2="237.3" y2="76.9" stroke="#ED1C24" stroke-width="1.8"/>
<circle cx="211.6" cy="76.9" r="3.7" fill="#ED1C24"/>
<g transform="translate(247.80,70.00)"><path d="M0.4,3.8 C0.9,1.5 1.9,0.3 3,0.3 C4.8,0.3 5.7,2.3 5.9,5.5 L6.1,11.3" fill="none" stroke="#000" stroke-width="0.95"/><path d="M10.5,4 C9.8,6.5 8.4,8.8 6.4,11.4" fill="none" stroke="#000" stroke-width="0.75"/><ellipse cx="10.3" cy="2.3" rx="0.95" ry="2.0" fill="#000" transform="rotate(-10 10.3 2.3)"/><path d="M5.4,11.3 L6.9,11.7 C6.3,14.5 5.4,17.2 4.6,18.4 C4.2,19 3,18.9 3,18.2 C3.2,16.2 4.4,13.5 5.4,11.3 Z" fill="#000"/></g>
<text x="268.04" y="85.20" style="font-family:Liberation Sans;font-size:30.00px;">=</text>
<path d="M0.272,0 L0.358,0 L0.358,-0.705 L0.29,-0.705 C0.27,-0.665 0.255,-0.635 0.235,-0.615 C0.2,-0.585 0.14,-0.57 0.105,-0.56 C0.09,-0.555 0.083,-0.545 0.083,-0.53 C0.083,-0.51 0.095,-0.5 0.11,-0.5 L0.272,-0.5 Z" fill="#000" transform="translate(293.71,83.20) scale(30.000)"/>
<text x="310.40" y="83.20" style="font-family:Liberation Sans;font-size:30.00px;">0</text>
<text x="326.30" y="70.20" style="font-family:Liberation Sans;font-size:20.00px;">−6</text>
<line x1="185.7" y1="124.8" x2="237.3" y2="124.8" stroke="#EF8A2D" stroke-width="1.8"/>
<circle cx="211.6" cy="124.8" r="3.7" fill="#EF8A2D"/>
<g transform="translate(247.80,117.90)"><path d="M0.4,3.8 C0.9,1.5 1.9,0.3 3,0.3 C4.8,0.3 5.7,2.3 5.9,5.5 L6.1,11.3" fill="none" stroke="#000" stroke-width="0.95"/><path d="M10.5,4 C9.8,6.5 8.4,8.8 6.4,11.4" fill="none" stroke="#000" stroke-width="0.75"/><ellipse cx="10.3" cy="2.3" rx="0.95" ry="2.0" fill="#000" transform="rotate(-10 10.3 2.3)"/><path d="M5.4,11.3 L6.9,11.7 C6.3,14.5 5.4,17.2 4.6,18.4 C4.2,19 3,18.9 3,18.2 C3.2,16.2 4.4,13.5 5.4,11.3 Z" fill="#000"/></g>
<text x="268.04" y="133.10" style="font-family:Liberation Sans;font-size:30.00px;">=</text>
<path d="M0.272,0 L0.358,0 L0.358,-0.705 L0.29,-0.705 C0.27,-0.665 0.255,-0.635 0.235,-0.615 C0.2,-0.585 0.14,-0.57 0.105,-0.56 C0.09,-0.555 0.083,-0.545 0.083,-0.53 C0.083,-0.51 0.095,-0.5 0.11,-0.5 L0.272,-0.5 Z" fill="#000" transform="translate(293.71,131.10) scale(30.000)"/>
<text x="310.40" y="131.10" style="font-family:Liberation Sans;font-size:30.00px;">0</text>
<text x="326.30" y="118.10" style="font-family:Liberation Sans;font-size:20.00px;">−7</text>
<line x1="185.7" y1="172.5" x2="237.3" y2="172.5" stroke="#07A043" stroke-width="1.8"/>
<circle cx="211.6" cy="172.5" r="3.7" fill="#07A043"/>
<g transform="translate(247.80,165.60)"><path d="M0.4,3.8 C0.9,1.5 1.9,0.3 3,0.3 C4.8,0.3 5.7,2.3 5.9,5.5 L6.1,11.3" fill="none" stroke="#000" stroke-width="0.95"/><path d="M10.5,4 C9.8,6.5 8.4,8.8 6.4,11.4" fill="none" stroke="#000" stroke-width="0.75"/><ellipse cx="10.3" cy="2.3" rx="0.95" ry="2.0" fill="#000" transform="rotate(-10 10.3 2.3)"/><path d="M5.4,11.3 L6.9,11.7 C6.3,14.5 5.4,17.2 4.6,18.4 C4.2,19 3,18.9 3,18.2 C3.2,16.2 4.4,13.5 5.4,11.3 Z" fill="#000"/></g>
<text x="268.04" y="180.80" style="font-family:Liberation Sans;font-size:30.00px;">=</text>
<path d="M0.272,0 L0.358,0 L0.358,-0.705 L0.29,-0.705 C0.27,-0.665 0.255,-0.635 0.235,-0.615 C0.2,-0.585 0.14,-0.57 0.105,-0.56 C0.09,-0.555 0.083,-0.545 0.083,-0.53 C0.083,-0.51 0.095,-0.5 0.11,-0.5 L0.272,-0.5 Z" fill="#000" transform="translate(293.71,178.80) scale(30.000)"/>
<text x="310.40" y="178.80" style="font-family:Liberation Sans;font-size:30.00px;">0</text>
<text x="326.30" y="165.80" style="font-family:Liberation Sans;font-size:20.00px;">−8</text>
<line x1="185.7" y1="220.3" x2="237.3" y2="220.3" stroke="#7E2A8B" stroke-width="1.8"/>
<circle cx="211.6" cy="220.3" r="3.7" fill="#7E2A8B"/>
<g transform="translate(247.80,213.40)"><path d="M0.4,3.8 C0.9,1.5 1.9,0.3 3,0.3 C4.8,0.3 5.7,2.3 5.9,5.5 L6.1,11.3" fill="none" stroke="#000" stroke-width="0.95"/><path d="M10.5,4 C9.8,6.5 8.4,8.8 6.4,11.4" fill="none" stroke="#000" stroke-width="0.75"/><ellipse cx="10.3" cy="2.3" rx="0.95" ry="2.0" fill="#000" transform="rotate(-10 10.3 2.3)"/><path d="M5.4,11.3 L6.9,11.7 C6.3,14.5 5.4,17.2 4.6,18.4 C4.2,19 3,18.9 3,18.2 C3.2,16.2 4.4,13.5 5.4,11.3 Z" fill="#000"/></g>
<text x="268.04" y="228.60" style="font-family:Liberation Sans;font-size:30.00px;">=</text>
<path d="M0.272,0 L0.358,0 L0.358,-0.705 L0.29,-0.705 C0.27,-0.665 0.255,-0.635 0.235,-0.615 C0.2,-0.585 0.14,-0.57 0.105,-0.56 C0.09,-0.555 0.083,-0.545 0.083,-0.53 C0.083,-0.51 0.095,-0.5 0.11,-0.5 L0.272,-0.5 Z" fill="#000" transform="translate(293.71,226.60) scale(30.000)"/>
<text x="310.40" y="226.60" style="font-family:Liberation Sans;font-size:30.00px;">0</text>
<text x="326.30" y="213.60" style="font-family:Liberation Sans;font-size:20.00px;">−9</text>
<line x1="185.7" y1="268.0" x2="237.3" y2="268.0" stroke="#3C4DAB" stroke-width="1.8"/>
<circle cx="211.6" cy="268.0" r="3.7" fill="#3C4DAB"/>
<g transform="translate(247.80,261.10)"><path d="M0.4,3.8 C0.9,1.5 1.9,0.3 3,0.3 C4.8,0.3 5.7,2.3 5.9,5.5 L6.1,11.3" fill="none" stroke="#000" stroke-width="0.95"/><path d="M10.5,4 C9.8,6.5 8.4,8.8 6.4,11.4" fill="none" stroke="#000" stroke-width="0.75"/><ellipse cx="10.3" cy="2.3" rx="0.95" ry="2.0" fill="#000" transform="rotate(-10 10.3 2.3)"/><path d="M5.4,11.3 L6.9,11.7 C6.3,14.5 5.4,17.2 4.6,18.4 C4.2,19 3,18.9 3,18.2 C3.2,16.2 4.4,13.5 5.4,11.3 Z" fill="#000"/></g>
<text x="268.04" y="276.30" style="font-family:Liberation Sans;font-size:30.00px;">=</text>
<path d="M0.272,0 L0.358,0 L0.358,-0.705 L0.29,-0.705 C0.27,-0.665 0.255,-0.635 0.235,-0.615 C0.2,-0.585 0.14,-0.57 0.105,-0.56 C0.09,-0.555 0.083,-0.545 0.083,-0.53 C0.083,-0.51 0.095,-0.5 0.11,-0.5 L0.272,-0.5 Z" fill="#000" transform="translate(293.71,274.30) scale(30.000)"/>
<text x="310.40" y="274.30" style="font-family:Liberation Sans;font-size:30.00px;">0</text>
<text x="326.30" y="261.30" style="font-family:Liberation Sans;font-size:20.00px;">−</text>
<path d="M0.272,0 L0.358,0 L0.358,-0.705 L0.29,-0.705 C0.27,-0.665 0.255,-0.635 0.235,-0.615 C0.2,-0.585 0.14,-0.57 0.105,-0.56 C0.09,-0.555 0.083,-0.545 0.083,-0.53 C0.083,-0.51 0.095,-0.5 0.11,-0.5 L0.272,-0.5 Z" fill="#000" transform="translate(337.98,261.30) scale(20.000)"/>
<text x="349.10" y="261.30" style="font-family:Liberation Sans;font-size:20.00px;">0</text>
<text x="714.91" y="186.97" style="font-family:Liberation Sans;font-size:33.50px;">Instantaneous</text>
<text x="703.71" y="486.37" style="font-family:Liberation Sans;font-size:33.50px;">Inherent states</text>
<text x="405.32" y="599.70" style="font-family:Liberation Sans;font-size:34.30px;font-style:italic;">T</text>
<text x="424.03" y="608.48" style="font-family:Liberation Sans;font-size:25.50px;">g</text>
<text x="649.92" y="599.70" style="font-family:Liberation Sans;font-size:34.30px;font-style:italic;">T</text>
<text x="667.72" y="607.70" style="font-family:Liberation Sans;font-size:25.80px;">on</text>
<rect x="130.3" y="774.0" width="341.0" height="318.5" fill="none" stroke="#000" stroke-width="1.7"/>
<path d="M130.3,880.17h14M471.3,880.17h-14M130.3,986.34h14M471.3,986.34h-14M130.3,848.21h7M471.3,848.21h-7M130.3,829.51h7M471.3,829.51h-7M130.3,816.25h7M471.3,816.25h-7M130.3,805.96h7M471.3,805.96h-7M130.3,797.55h7M471.3,797.55h-7M130.3,790.45h7M471.3,790.45h-7M130.3,784.29h7M471.3,784.29h-7M130.3,778.86h7M471.3,778.86h-7M130.3,954.38h7M471.3,954.38h-7M130.3,935.68h7M471.3,935.68h-7M130.3,922.42h7M471.3,922.42h-7M130.3,912.13h7M471.3,912.13h-7M130.3,903.72h7M471.3,903.72h-7M130.3,896.62h7M471.3,896.62h-7M130.3,890.46h7M471.3,890.46h-7M130.3,885.03h7M471.3,885.03h-7M130.3,1060.55h7M471.3,1060.55h-7M130.3,1041.85h7M471.3,1041.85h-7M130.3,1028.59h7M471.3,1028.59h-7M130.3,1018.30h7M471.3,1018.30h-7M130.3,1009.89h7M471.3,1009.89h-7M130.3,1002.79h7M471.3,1002.79h-7M130.3,996.63h7M471.3,996.63h-7M130.3,991.20h7M471.3,991.20h-7M144.10,1092.5v-14M144.10,774.0v14M286.50,1092.5v-14M286.50,774.0v14M428.90,1092.5v-14M428.90,774.0v14M186.97,1092.5v-7M186.97,774.0v7M212.04,1092.5v-7M212.04,774.0v7M229.83,1092.5v-7M229.83,774.0v7M243.63,1092.5v-7M243.63,774.0v7M254.91,1092.5v-7M254.91,774.0v7M264.44,1092.5v-7M264.44,774.0v7M272.70,1092.5v-7M272.70,774.0v7M279.98,1092.5v-7M279.98,774.0v7M329.37,1092.5v-7M329.37,774.0v7M354.44,1092.5v-7M354.44,774.0v7M372.23,1092.5v-7M372.23,774.0v7M386.03,1092.5v-7M386.03,774.0v7M397.31,1092.5v-7M397.31,774.0v7M406.84,1092.5v-7M406.84,774.0v7M415.10,1092.5v-7M415.10,774.0v7M422.38,1092.5v-7M422.38,774.0v7" stroke="#000" stroke-width="1.5" fill="none"/>
<polyline points="147.0,1023.2 189.8,1024.2 214.9,1033.8 232.7,1015.1 246.5,1038.6 257.8,1023.2 267.3,1013.5 275.6,1038.2 282.8,1022.2 289.4,1032.0 295.2,1019.9 300.6,1028.0 305.6,1010.7 310.2,1030.0 314.4,1027.0 318.4,1026.3 322.2,1025.0 325.7,1023.9 329.0,1028.0 332.2,1030.0 335.2,1019.1 338.1,1016.9 340.9,1031.4 343.5,1031.2 346.0,1030.7 348.4,1032.7 350.8,1029.4 353.0,1027.1 355.2,1033.9 357.3,1030.6 359.3,1027.6 361.3,1037.0 363.2,1034.1 365.0,1035.8 366.8,1028.8 368.6,1029.2 370.3,1026.2 371.9,1024.3 373.5,1026.0 375.1,1017.5 376.6,1017.5 378.1,1011.5 379.6,1010.6 381.0,997.5 382.4,997.7 383.7,989.6 385.1,983.7 386.4,974.1 387.6,969.9 388.9,965.6 390.1,955.8 391.3,948.1 392.5,938.8 393.6,933.5 394.8,921.6 395.9,906.9 397.0,901.4 398.1,890.4 399.1,879.6 400.2,877.2 401.2,870.5 402.2,855.1 403.2,840.0 404.2,828.1 405.1,819.0 406.1,807.6 407.0,796.8 407.9,792.1 408.8,800.1 409.7,814.1 410.6,828.7 411.4,836.8 412.3,841.4 413.1,854.7 414.0,863.0 414.8,876.5 415.6,878.6 416.4,888.2 417.2,894.4 418.0,896.4 418.7,908.1 419.5,911.5 420.2,910.5 421.0,916.8 421.7,918.7 422.4,914.2 423.1,924.0 423.8,926.5 424.5,931.3 425.2,934.5 425.9,941.1 426.6,943.5 427.3,948.6 427.9,948.0 428.6,947.9 429.2,951.6 429.9,946.3 430.5,946.1 431.1,941.8 431.8,948.9 432.4,943.9 433.0,936.2 433.6,926.1 434.2,915.2 434.8,907.7 435.4,900.3 435.9,894.6 436.5,890.0 437.1,890.5 437.6,882.9 438.2,876.3 438.8,869.0 439.3,861.1 439.9,861.9 440.4,854.8 440.9,854.0 441.5,854.4 442.0,853.9 442.5,859.8 443.0,865.3 443.5,863.3 444.0,866.3 444.6,868.2 445.1,870.3 445.6,863.9 446.0,867.5 446.5,863.3 447.0,867.3 447.5,859.1 448.0,862.1 448.5,864.0 448.9,855.7 449.4,853.1 449.9,854.5 450.3,852.7 450.8,848.5 451.2,853.9 451.7,861.3 452.1,855.9 452.6,859.3 453.0,859.2 453.4,866.8 453.9,863.9 454.3,867.3 454.7,878.7 455.2,873.7 455.6,883.7 456.0,888.0 456.4,886.0 456.8,889.7 457.2,897.3 457.6,892.1 458.1,893.1 458.5,892.6 458.9,899.5 459.3,906.4 459.6,906.2 460.0,901.0 460.4,902.7 460.8,904.8 461.2,908.1 461.6,905.9 462.0,906.6 462.3,905.6 462.7,901.7 463.1,900.7 463.5,899.5 463.8,896.3 464.2,896.2 464.6,899.0 464.9,892.4 465.3,888.0 465.6,878.9 466.0,883.3 466.4,871.8 466.7,870.7 467.1,876.2 467.4,873.3 467.8,868.6 468.1,862.0 468.4,866.7 468.8,865.6 469.1,870.3 469.5,876.1 469.8,868.8 470.1,865.2 470.5,863.8 470.8,867.8 471.1,867.4 471.4,863.9 471.8,868.4" fill="none" stroke="#ED1C24" stroke-width="1.6"/>
<g fill="#ED1C24">
<circle cx="147.0" cy="1023.2" r="3.6"/><circle cx="189.8" cy="1024.2" r="3.6"/><circle cx="214.9" cy="1033.8" r="3.6"/><circle cx="232.7" cy="1015.1" r="3.6"/><circle cx="246.5" cy="1038.6" r="3.6"/><circle cx="257.8" cy="1023.2" r="3.6"/><circle cx="267.3" cy="1013.5" r="3.6"/><circle cx="275.6" cy="1038.2" r="3.6"/><circle cx="282.8" cy="1022.2" r="3.6"/><circle cx="289.4" cy="1032.0" r="3.6"/><circle cx="295.2" cy="1019.9" r="3.6"/><circle cx="300.6" cy="1028.0" r="3.6"/><circle cx="305.6" cy="1010.7" r="3.6"/><circle cx="310.2" cy="1030.0" r="3.6"/><circle cx="314.4" cy="1027.0" r="3.6"/><circle cx="318.4" cy="1026.3" r="3.6"/><circle cx="322.2" cy="1025.0" r="3.6"/><circle cx="325.7" cy="1023.9" r="3.6"/><circle cx="329.0" cy="1028.0" r="3.6"/><circle cx="332.2" cy="1030.0" r="3.6"/><circle cx="335.2" cy="1019.1" r="3.6"/><circle cx="338.1" cy="1016.9" r="3.6"/><circle cx="340.9" cy="1031.4" r="3.6"/><circle cx="343.5" cy="1031.2" r="3.6"/><circle cx="346.0" cy="1030.7" r="3.6"/><circle cx="348.4" cy="1032.7" r="3.6"/><circle cx="350.8" cy="1029.4" r="3.6"/><circle cx="353.0" cy="1027.1" r="3.6"/><circle cx="355.2" cy="1033.9" r="3.6"/><circle cx="357.3" cy="1030.6" r="3.6"/><circle cx="359.3" cy="1027.6" r="3.6"/><circle cx="361.3" cy="1037.0" r="3.6"/><circle cx="363.2" cy="1034.1" r="3.6"/><circle cx="365.0" cy="1035.8" r="3.6"/><circle cx="366.8" cy="1028.8" r="3.6"/><circle cx="368.6" cy="1029.2" r="3.6"/><circle cx="370.3" cy="1026.2" r="3.6"/><circle cx="371.9" cy="1024.3" r="3.6"/><circle cx="373.5" cy="1026.0" r="3.6"/><circle cx="375.1" cy="1017.5" r="3.6"/><circle cx="376.6" cy="1017.5" r="3.6"/><circle cx="378.1" cy="1011.5" r="3.6"/><circle cx="379.6" cy="1010.6" r="3.6"/><circle cx="381.0" cy="997.5" r="3.6"/><circle cx="382.4" cy="997.7" r="3.6"/><circle cx="383.7" cy="989.6" r="3.6"/><circle cx="385.1" cy="983.7" r="3.6"/><circle cx="386.4" cy="974.1" r="3.6"/><circle cx="387.6" cy="969.9" r="3.6"/><circle cx="388.9" cy="965.6" r="3.6"/><circle cx="390.1" cy="955.8" r="3.6"/><circle cx="391.3" cy="948.1" r="3.6"/><circle cx="392.5" cy="938.8" r="3.6"/><circle cx="393.6" cy="933.5" r="3.6"/><circle cx="394.8" cy="921.6" r="3.6"/><circle cx="395.9" cy="906.9" r="3.6"/><circle cx="397.0" cy="901.4" r="3.6"/><circle cx="398.1" cy="890.4" r="3.6"/><circle cx="399.1" cy="879.6" r="3.6"/><circle cx="400.2" cy="877.2" r="3.6"/><circle cx="401.2" cy="870.5" r="3.6"/><circle cx="402.2" cy="855.1" r="3.6"/><circle cx="403.2" cy="840.0" r="3.6"/><circle cx="404.2" cy="828.1" r="3.6"/><circle cx="405.1" cy="819.0" r="3.6"/><circle cx="406.1" cy="807.6" r="3.6"/><circle cx="407.0" cy="796.8" r="3.6"/><circle cx="407.9" cy="792.1" r="3.6"/><circle cx="408.8" cy="800.1" r="3.6"/><circle cx="409.7" cy="814.1" r="3.6"/><circle cx="410.6" cy="828.7" r="3.6"/><circle cx="411.4" cy="836.8" r="3.6"/><circle cx="412.3" cy="841.4" r="3.6"/><circle cx="413.1" cy="854.7" r="3.6"/><circle cx="414.0" cy="863.0" r="3.6"/><circle cx="414.8" cy="876.5" r="3.6"/><circle cx="415.6" cy="878.6" r="3.6"/><circle cx="416.4" cy="888.2" r="3.6"/><circle cx="417.2" cy="894.4" r="3.6"/><circle cx="418.0" cy="896.4" r="3.6"/><circle cx="418.7" cy="908.1" r="3.6"/><circle cx="419.5" cy="911.5" r="3.6"/><circle cx="420.2" cy="910.5" r="3.6"/><circle cx="421.0" cy="916.8" r="3.6"/><circle cx="421.7" cy="918.7" r="3.6"/><circle cx="422.4" cy="914.2" r="3.6"/><circle cx="423.1" cy="924.0" r="3.6"/><circle cx="423.8" cy="926.5" r="3.6"/><circle cx="424.5" cy="931.3" r="3.6"/><circle cx="425.2" cy="934.5" r="3.6"/><circle cx="425.9" cy="941.1" r="3.6"/><circle cx="426.6" cy="943.5" r="3.6"/><circle cx="427.3" cy="948.6" r="3.6"/><circle cx="427.9" cy="948.0" r="3.6"/><circle cx="428.6" cy="947.9" r="3.6"/><circle cx="429.2" cy="951.6" r="3.6"/><circle cx="429.9" cy="946.3" r="3.6"/><circle cx="430.5" cy="946.1" r="3.6"/><circle cx="431.1" cy="941.8" r="3.6"/><circle cx="431.8" cy="948.9" r="3.6"/><circle cx="432.4" cy="943.9" r="3.6"/><circle cx="433.0" cy="936.2" r="3.6"/><circle cx="433.6" cy="926.1" r="3.6"/><circle cx="434.2" cy="915.2" r="3.6"/><circle cx="434.8" cy="907.7" r="3.6"/><circle cx="435.4" cy="900.3" r="3.6"/><circle cx="435.9" cy="894.6" r="3.6"/><circle cx="436.5" cy="890.0" r="3.6"/><circle cx="437.1" cy="890.5" r="3.6"/><circle cx="437.6" cy="882.9" r="3.6"/><circle cx="438.2" cy="876.3" r="3.6"/><circle cx="438.8" cy="869.0" r="3.6"/><circle cx="439.3" cy="861.1" r="3.6"/><circle cx="439.9" cy="861.9" r="3.6"/><circle cx="440.4" cy="854.8" r="3.6"/><circle cx="440.9" cy="854.0" r="3.6"/><circle cx="441.5" cy="854.4" r="3.6"/><circle cx="442.0" cy="853.9" r="3.6"/><circle cx="442.5" cy="859.8" r="3.6"/><circle cx="443.0" cy="865.3" r="3.6"/><circle cx="443.5" cy="863.3" r="3.6"/><circle cx="444.0" cy="866.3" r="3.6"/><circle cx="444.6" cy="868.2" r="3.6"/><circle cx="445.1" cy="870.3" r="3.6"/><circle cx="445.6" cy="863.9" r="3.6"/><circle cx="446.0" cy="867.5" r="3.6"/><circle cx="446.5" cy="863.3" r="3.6"/><circle cx="447.0" cy="867.3" r="3.6"/><circle cx="447.5" cy="859.1" r="3.6"/><circle cx="448.0" cy="862.1" r="3.6"/><circle cx="448.5" cy="864.0" r="3.6"/><circle cx="448.9" cy="855.7" r="3.6"/><circle cx="449.4" cy="853.1" r="3.6"/><circle cx="449.9" cy="854.5" r="3.6"/><circle cx="450.3" cy="852.7" r="3.6"/><circle cx="450.8" cy="848.5" r="3.6"/><circle cx="451.2" cy="853.9" r="3.6"/><circle cx="451.7" cy="861.3" r="3.6"/><circle cx="452.1" cy="855.9" r="3.6"/><circle cx="452.6" cy="859.3" r="3.6"/><circle cx="453.0" cy="859.2" r="3.6"/><circle cx="453.4" cy="866.8" r="3.6"/><circle cx="453.9" cy="863.9" r="3.6"/><circle cx="454.3" cy="867.3" r="3.6"/><circle cx="454.7" cy="878.7" r="3.6"/><circle cx="455.2" cy="873.7" r="3.6"/><circle cx="455.6" cy="883.7" r="3.6"/><circle cx="456.0" cy="888.0" r="3.6"/><circle cx="456.4" cy="886.0" r="3.6"/><circle cx="456.8" cy="889.7" r="3.6"/><circle cx="457.2" cy="897.3" r="3.6"/><circle cx="457.6" cy="892.1" r="3.6"/><circle cx="458.1" cy="893.1" r="3.6"/><circle cx="458.5" cy="892.6" r="3.6"/><circle cx="458.9" cy="899.5" r="3.6"/><circle cx="459.3" cy="906.4" r="3.6"/><circle cx="459.6" cy="906.2" r="3.6"/><circle cx="460.0" cy="901.0" r="3.6"/><circle cx="460.4" cy="902.7" r="3.6"/><circle cx="460.8" cy="904.8" r="3.6"/><circle cx="461.2" cy="908.1" r="3.6"/><circle cx="461.6" cy="905.9" r="3.6"/><circle cx="462.0" cy="906.6" r="3.6"/><circle cx="462.3" cy="905.6" r="3.6"/><circle cx="462.7" cy="901.7" r="3.6"/><circle cx="463.1" cy="900.7" r="3.6"/><circle cx="463.5" cy="899.5" r="3.6"/><circle cx="463.8" cy="896.3" r="3.6"/><circle cx="464.2" cy="896.2" r="3.6"/><circle cx="464.6" cy="899.0" r="3.6"/><circle cx="464.9" cy="892.4" r="3.6"/><circle cx="465.3" cy="888.0" r="3.6"/><circle cx="465.6" cy="878.9" r="3.6"/><circle cx="466.0" cy="883.3" r="3.6"/><circle cx="466.4" cy="871.8" r="3.6"/><circle cx="466.7" cy="870.7" r="3.6"/><circle cx="467.1" cy="876.2" r="3.6"/><circle cx="467.4" cy="873.3" r="3.6"/><circle cx="467.8" cy="868.6" r="3.6"/><circle cx="468.1" cy="862.0" r="3.6"/><circle cx="468.4" cy="866.7" r="3.6"/><circle cx="468.8" cy="865.6" r="3.6"/><circle cx="469.1" cy="870.3" r="3.6"/><circle cx="469.5" cy="876.1" r="3.6"/><circle cx="469.8" cy="868.8" r="3.6"/><circle cx="470.1" cy="865.2" r="3.6"/><circle cx="470.5" cy="863.8" r="3.6"/><circle cx="470.8" cy="867.8" r="3.6"/><circle cx="471.1" cy="867.4" r="3.6"/><circle cx="471.4" cy="863.9" r="3.6"/><circle cx="471.8" cy="868.4" r="3.6"/>
</g>
<polyline points="147.0,1022.2 189.8,1002.5 214.9,1028.2 232.7,1010.5 246.5,1014.1 257.8,1028.2 267.3,1020.0 275.6,1030.0 282.8,1028.2 289.4,1017.5 295.2,1030.0 300.6,1015.9 305.6,1028.0 310.2,1035.0 314.4,1021.9 318.4,1033.0 322.2,1038.0 325.7,1048.8 329.0,1035.0 332.2,1019.9 335.2,1026.6 338.1,1041.1 340.9,1040.0 343.5,1040.9 346.0,1034.6 348.4,1039.8 350.8,1037.7 353.0,1037.4 355.2,1038.5 357.3,1034.9 359.3,1035.0 361.3,1045.8 363.2,1041.9 365.0,1044.0 366.8,1046.8 368.6,1032.9 370.3,1035.1 371.9,1036.5 373.5,1033.7 375.1,1026.1 376.6,1027.8 378.1,1018.5 379.6,1009.7 381.0,1005.1 382.4,1003.8 383.7,997.3 385.1,985.5 386.4,986.6 387.6,978.0 388.9,972.9 390.1,961.4 391.3,953.8 392.5,943.4 393.6,942.2 394.8,923.6 395.9,916.7 397.0,902.9 398.1,897.5 399.1,885.0 400.2,878.5 401.2,871.4 402.2,854.8 403.2,847.3 404.2,831.8 405.1,817.8 406.1,805.2 407.0,793.8 407.9,790.2 408.8,799.8 409.7,813.3 410.6,826.7 411.4,833.9 412.3,840.8 413.1,853.3 414.0,866.7 414.8,870.2 415.6,881.6 416.4,886.9 417.2,892.1 418.0,901.6 418.7,902.7 419.5,911.6 420.2,909.8 421.0,915.9 421.7,917.3 422.4,918.7 423.1,924.8 423.8,926.3 424.5,932.6 425.2,937.0 425.9,939.1 426.6,943.7 427.3,945.9 427.9,949.5 428.6,945.7 429.2,947.9 429.9,943.5 430.5,948.6 431.1,943.6 431.8,940.8 432.4,941.5 433.0,936.7 433.6,920.8 434.2,912.3 434.8,905.4 435.4,898.2 435.9,896.0 436.5,886.9 437.1,882.5 437.6,883.0 438.2,873.8 438.8,872.7 439.3,859.8 439.9,851.8 440.4,846.4 440.9,860.5 441.5,854.5 442.0,858.8 442.5,859.9 443.0,862.8 443.5,864.9 444.0,874.0 444.6,865.2 445.1,864.3 445.6,866.0 446.0,863.6 446.5,869.1 447.0,867.0 447.5,858.4 448.0,855.1 448.5,857.2 448.9,861.9 449.4,845.1 449.9,855.7 450.3,848.8 450.8,855.8 451.2,848.4 451.7,853.0 452.1,851.4 452.6,856.5 453.0,868.0 453.4,868.6 453.9,867.0 454.3,868.1 454.7,867.3 455.2,875.6 455.6,879.7 456.0,882.2 456.4,884.7 456.8,883.6 457.2,890.0 457.6,892.7 458.1,899.9 458.5,904.2 458.9,898.9 459.3,898.3 459.6,902.5 460.0,902.2 460.4,903.1 460.8,906.5 461.2,903.2 461.6,908.9 462.0,905.4 462.3,905.4 462.7,902.2 463.1,898.3 463.5,895.3 463.8,895.7 464.2,892.4 464.6,893.1 464.9,890.2 465.3,882.9 465.6,885.2 466.0,877.1 466.4,876.6 466.7,874.7 467.1,865.6 467.4,871.1 467.8,869.6 468.1,867.6 468.4,866.5 468.8,866.7 469.1,864.5 469.5,867.0 469.8,866.0 470.1,868.3 470.5,863.7 470.8,868.8 471.1,868.5 471.4,867.5 471.8,866.4" fill="none" stroke="#EF8A2D" stroke-width="1.6"/>
<g fill="#EF8A2D">
<circle cx="147.0" cy="1022.2" r="3.6"/><circle cx="189.8" cy="1002.5" r="3.6"/><circle cx="214.9" cy="1028.2" r="3.6"/><circle cx="232.7" cy="1010.5" r="3.6"/><circle cx="246.5" cy="1014.1" r="3.6"/><circle cx="257.8" cy="1028.2" r="3.6"/><circle cx="267.3" cy="1020.0" r="3.6"/><circle cx="275.6" cy="1030.0" r="3.6"/><circle cx="282.8" cy="1028.2" r="3.6"/><circle cx="289.4" cy="1017.5" r="3.6"/><circle cx="295.2" cy="1030.0" r="3.6"/><circle cx="300.6" cy="1015.9" r="3.6"/><circle cx="305.6" cy="1028.0" r="3.6"/><circle cx="310.2" cy="1035.0" r="3.6"/><circle cx="314.4" cy="1021.9" r="3.6"/><circle cx="318.4" cy="1033.0" r="3.6"/><circle cx="322.2" cy="1038.0" r="3.6"/><circle cx="325.7" cy="1048.8" r="3.6"/><circle cx="329.0" cy="1035.0" r="3.6"/><circle cx="332.2" cy="1019.9" r="3.6"/><circle cx="335.2" cy="1026.6" r="3.6"/><circle cx="338.1" cy="1041.1" r="3.6"/><circle cx="340.9" cy="1040.0" r="3.6"/><circle cx="343.5" cy="1040.9" r="3.6"/><circle cx="346.0" cy="1034.6" r="3.6"/><circle cx="348.4" cy="1039.8" r="3.6"/><circle cx="350.8" cy="1037.7" r="3.6"/><circle cx="353.0" cy="1037.4" r="3.6"/><circle cx="355.2" cy="1038.5" r="3.6"/><circle cx="357.3" cy="1034.9" r="3.6"/><circle cx="359.3" cy="1035.0" r="3.6"/><circle cx="361.3" cy="1045.8" r="3.6"/><circle cx="363.2" cy="1041.9" r="3.6"/><circle cx="365.0" cy="1044.0" r="3.6"/><circle cx="366.8" cy="1046.8" r="3.6"/><circle cx="368.6" cy="1032.9" r="3.6"/><circle cx="370.3" cy="1035.1" r="3.6"/><circle cx="371.9" cy="1036.5" r="3.6"/><circle cx="373.5" cy="1033.7" r="3.6"/><circle cx="375.1" cy="1026.1" r="3.6"/><circle cx="376.6" cy="1027.8" r="3.6"/><circle cx="378.1" cy="1018.5" r="3.6"/><circle cx="379.6" cy="1009.7" r="3.6"/><circle cx="381.0" cy="1005.1" r="3.6"/><circle cx="382.4" cy="1003.8" r="3.6"/><circle cx="383.7" cy="997.3" r="3.6"/><circle cx="385.1" cy="985.5" r="3.6"/><circle cx="386.4" cy="986.6" r="3.6"/><circle cx="387.6" cy="978.0" r="3.6"/><circle cx="388.9" cy="972.9" r="3.6"/><circle cx="390.1" cy="961.4" r="3.6"/><circle cx="391.3" cy="953.8" r="3.6"/><circle cx="392.5" cy="943.4" r="3.6"/><circle cx="393.6" cy="942.2" r="3.6"/><circle cx="394.8" cy="923.6" r="3.6"/><circle cx="395.9" cy="916.7" r="3.6"/><circle cx="397.0" cy="902.9" r="3.6"/><circle cx="398.1" cy="897.5" r="3.6"/><circle cx="399.1" cy="885.0" r="3.6"/><circle cx="400.2" cy="878.5" r="3.6"/><circle cx="401.2" cy="871.4" r="3.6"/><circle cx="402.2" cy="854.8" r="3.6"/><circle cx="403.2" cy="847.3" r="3.6"/><circle cx="404.2" cy="831.8" r="3.6"/><circle cx="405.1" cy="817.8" r="3.6"/><circle cx="406.1" cy="805.2" r="3.6"/><circle cx="407.0" cy="793.8" r="3.6"/><circle cx="407.9" cy="790.2" r="3.6"/><circle cx="408.8" cy="799.8" r="3.6"/><circle cx="409.7" cy="813.3" r="3.6"/><circle cx="410.6" cy="826.7" r="3.6"/><circle cx="411.4" cy="833.9" r="3.6"/><circle cx="412.3" cy="840.8" r="3.6"/><circle cx="413.1" cy="853.3" r="3.6"/><circle cx="414.0" cy="866.7" r="3.6"/><circle cx="414.8" cy="870.2" r="3.6"/><circle cx="415.6" cy="881.6" r="3.6"/><circle cx="416.4" cy="886.9" r="3.6"/><circle cx="417.2" cy="892.1" r="3.6"/><circle cx="418.0" cy="901.6" r="3.6"/><circle cx="418.7" cy="902.7" r="3.6"/><circle cx="419.5" cy="911.6" r="3.6"/><circle cx="420.2" cy="909.8" r="3.6"/><circle cx="421.0" cy="915.9" r="3.6"/><circle cx="421.7" cy="917.3" r="3.6"/><circle cx="422.4" cy="918.7" r="3.6"/><circle cx="423.1" cy="924.8" r="3.6"/><circle cx="423.8" cy="926.3" r="3.6"/><circle cx="424.5" cy="932.6" r="3.6"/><circle cx="425.2" cy="937.0" r="3.6"/><circle cx="425.9" cy="939.1" r="3.6"/><circle cx="426.6" cy="943.7" r="3.6"/><circle cx="427.3" cy="945.9" r="3.6"/><circle cx="427.9" cy="949.5" r="3.6"/><circle cx="428.6" cy="945.7" r="3.6"/><circle cx="429.2" cy="947.9" r="3.6"/><circle cx="429.9" cy="943.5" r="3.6"/><circle cx="430.5" cy="948.6" r="3.6"/><circle cx="431.1" cy="943.6" r="3.6"/><circle cx="431.8" cy="940.8" r="3.6"/><circle cx="432.4" cy="941.5" r="3.6"/><circle cx="433.0" cy="936.7" r="3.6"/><circle cx="433.6" cy="920.8" r="3.6"/><circle cx="434.2" cy="912.3" r="3.6"/><circle cx="434.8" cy="905.4" r="3.6"/><circle cx="435.4" cy="898.2" r="3.6"/><circle cx="435.9" cy="896.0" r="3.6"/><circle cx="436.5" cy="886.9" r="3.6"/><circle cx="437.1" cy="882.5" r="3.6"/><circle cx="437.6" cy="883.0" r="3.6"/><circle cx="438.2" cy="873.8" r="3.6"/><circle cx="438.8" cy="872.7" r="3.6"/><circle cx="439.3" cy="859.8" r="3.6"/><circle cx="439.9" cy="851.8" r="3.6"/><circle cx="440.4" cy="846.4" r="3.6"/><circle cx="440.9" cy="860.5" r="3.6"/><circle cx="441.5" cy="854.5" r="3.6"/><circle cx="442.0" cy="858.8" r="3.6"/><circle cx="442.5" cy="859.9" r="3.6"/><circle cx="443.0" cy="862.8" r="3.6"/><circle cx="443.5" cy="864.9" r="3.6"/><circle cx="444.0" cy="874.0" r="3.6"/><circle cx="444.6" cy="865.2" r="3.6"/><circle cx="445.1" cy="864.3" r="3.6"/><circle cx="445.6" cy="866.0" r="3.6"/><circle cx="446.0" cy="863.6" r="3.6"/><circle cx="446.5" cy="869.1" r="3.6"/><circle cx="447.0" cy="867.0" r="3.6"/><circle cx="447.5" cy="858.4" r="3.6"/><circle cx="448.0" cy="855.1" r="3.6"/><circle cx="448.5" cy="857.2" r="3.6"/><circle cx="448.9" cy="861.9" r="3.6"/><circle cx="449.4" cy="845.1" r="3.6"/><circle cx="449.9" cy="855.7" r="3.6"/><circle cx="450.3" cy="848.8" r="3.6"/><circle cx="450.8" cy="855.8" r="3.6"/><circle cx="451.2" cy="848.4" r="3.6"/><circle cx="451.7" cy="853.0" r="3.6"/><circle cx="452.1" cy="851.4" r="3.6"/><circle cx="452.6" cy="856.5" r="3.6"/><circle cx="453.0" cy="868.0" r="3.6"/><circle cx="453.4" cy="868.6" r="3.6"/><circle cx="453.9" cy="867.0" r="3.6"/><circle cx="454.3" cy="868.1" r="3.6"/><circle cx="454.7" cy="867.3" r="3.6"/><circle cx="455.2" cy="875.6" r="3.6"/><circle cx="455.6" cy="879.7" r="3.6"/><circle cx="456.0" cy="882.2" r="3.6"/><circle cx="456.4" cy="884.7" r="3.6"/><circle cx="456.8" cy="883.6" r="3.6"/><circle cx="457.2" cy="890.0" r="3.6"/><circle cx="457.6" cy="892.7" r="3.6"/><circle cx="458.1" cy="899.9" r="3.6"/><circle cx="458.5" cy="904.2" r="3.6"/><circle cx="458.9" cy="898.9" r="3.6"/><circle cx="459.3" cy="898.3" r="3.6"/><circle cx="459.6" cy="902.5" r="3.6"/><circle cx="460.0" cy="902.2" r="3.6"/><circle cx="460.4" cy="903.1" r="3.6"/><circle cx="460.8" cy="906.5" r="3.6"/><circle cx="461.2" cy="903.2" r="3.6"/><circle cx="461.6" cy="908.9" r="3.6"/><circle cx="462.0" cy="905.4" r="3.6"/><circle cx="462.3" cy="905.4" r="3.6"/><circle cx="462.7" cy="902.2" r="3.6"/><circle cx="463.1" cy="898.3" r="3.6"/><circle cx="463.5" cy="895.3" r="3.6"/><circle cx="463.8" cy="895.7" r="3.6"/><circle cx="464.2" cy="892.4" r="3.6"/><circle cx="464.6" cy="893.1" r="3.6"/><circle cx="464.9" cy="890.2" r="3.6"/><circle cx="465.3" cy="882.9" r="3.6"/><circle cx="465.6" cy="885.2" r="3.6"/><circle cx="466.0" cy="877.1" r="3.6"/><circle cx="466.4" cy="876.6" r="3.6"/><circle cx="466.7" cy="874.7" r="3.6"/><circle cx="467.1" cy="865.6" r="3.6"/><circle cx="467.4" cy="871.1" r="3.6"/><circle cx="467.8" cy="869.6" r="3.6"/><circle cx="468.1" cy="867.6" r="3.6"/><circle cx="468.4" cy="866.5" r="3.6"/><circle cx="468.8" cy="866.7" r="3.6"/><circle cx="469.1" cy="864.5" r="3.6"/><circle cx="469.5" cy="867.0" r="3.6"/><circle cx="469.8" cy="866.0" r="3.6"/><circle cx="470.1" cy="868.3" r="3.6"/><circle cx="470.5" cy="863.7" r="3.6"/><circle cx="470.8" cy="868.8" r="3.6"/><circle cx="471.1" cy="868.5" r="3.6"/><circle cx="471.4" cy="867.5" r="3.6"/><circle cx="471.8" cy="866.4" r="3.6"/>
</g>
<polyline points="147.0,1021.2 189.8,1036.8 214.9,1027.2 232.7,1035.2 246.5,1033.8 257.8,1016.5 267.3,1042.2 275.6,1017.5 282.8,1045.5 289.4,1022.0 295.2,1034.0 300.6,1036.8 305.6,1020.7 310.2,1030.0 314.4,1028.0 318.4,1035.0 322.2,1032.0 325.7,1038.0 329.0,1030.0 332.2,1036.0 335.2,1041.8 338.1,1029.4 340.9,1042.4 343.5,1042.4 346.0,1043.6 348.4,1045.1 350.8,1041.4 353.0,1044.0 355.2,1048.8 357.3,1048.7 359.3,1048.6 361.3,1041.9 363.2,1052.1 365.0,1055.3 366.8,1054.0 368.6,1049.3 370.3,1039.7 371.9,1048.8 373.5,1041.0 375.1,1026.8 376.6,1036.0 378.1,1025.5 379.6,1019.9 381.0,1015.6 382.4,1014.5 383.7,1004.8 385.1,1000.4 386.4,997.7 387.6,990.8 388.9,979.7 390.1,971.6 391.3,960.6 392.5,952.2 393.6,944.3 394.8,933.3 395.9,921.0 397.0,912.5 398.1,899.6 399.1,893.4 400.2,886.2 401.2,874.3 402.2,862.8 403.2,848.7 404.2,834.7 405.1,823.5 406.1,810.5 407.0,795.6 407.9,790.7 408.8,800.2 409.7,814.2 410.6,823.4 411.4,835.4 412.3,842.4 413.1,851.4 414.0,859.2 414.8,873.1 415.6,883.8 416.4,889.4 417.2,893.0 418.0,899.5 418.7,905.8 419.5,901.3 420.2,911.4 421.0,916.3 421.7,919.4 422.4,924.6 423.1,926.1 423.8,927.4 424.5,931.8 425.2,939.0 425.9,940.4 426.6,943.8 427.3,948.0 427.9,951.9 428.6,947.5 429.2,947.8 429.9,948.1 430.5,950.2 431.1,946.1 431.8,948.6 432.4,939.3 433.0,933.6 433.6,924.0 434.2,916.8 434.8,909.7 435.4,897.3 435.9,892.9 436.5,891.0 437.1,882.7 437.6,875.4 438.2,880.3 438.8,872.9 439.3,865.1 439.9,854.4 440.4,856.7 440.9,852.9 441.5,859.6 442.0,854.6 442.5,857.0 443.0,862.9 443.5,862.2 444.0,869.5 444.6,869.9 445.1,866.6 445.6,869.9 446.0,867.1 446.5,869.7 447.0,861.8 447.5,860.3 448.0,864.4 448.5,866.6 448.9,864.0 449.4,855.4 449.9,854.6 450.3,858.2 450.8,851.6 451.2,848.7 451.7,854.4 452.1,858.5 452.6,857.1 453.0,857.1 453.4,860.5 453.9,870.8 454.3,868.5 454.7,873.6 455.2,877.7 455.6,882.0 456.0,881.3 456.4,886.9 456.8,884.5 457.2,889.0 457.6,889.1 458.1,899.3 458.5,897.4 458.9,896.7 459.3,899.8 459.6,902.0 460.0,906.9 460.4,900.0 460.8,902.9 461.2,905.6 461.6,915.8 462.0,909.3 462.3,904.1 462.7,905.4 463.1,908.3 463.5,897.9 463.8,895.2 464.2,898.7 464.6,894.0 464.9,892.7 465.3,886.0 465.6,891.9 466.0,888.1 466.4,880.9 466.7,878.3 467.1,865.8 467.4,873.1 467.8,868.4 468.1,869.7 468.4,870.5 468.8,866.8 469.1,861.9 469.5,869.3 469.8,865.3 470.1,866.8 470.5,865.8 470.8,866.8 471.1,859.7 471.4,872.4 471.8,868.9" fill="none" stroke="#07A043" stroke-width="1.6"/>
<g fill="#07A043">
<circle cx="147.0" cy="1021.2" r="3.6"/><circle cx="189.8" cy="1036.8" r="3.6"/><circle cx="214.9" cy="1027.2" r="3.6"/><circle cx="232.7" cy="1035.2" r="3.6"/><circle cx="246.5" cy="1033.8" r="3.6"/><circle cx="257.8" cy="1016.5" r="3.6"/><circle cx="267.3" cy="1042.2" r="3.6"/><circle cx="275.6" cy="1017.5" r="3.6"/><circle cx="282.8" cy="1045.5" r="3.6"/><circle cx="289.4" cy="1022.0" r="3.6"/><circle cx="295.2" cy="1034.0" r="3.6"/><circle cx="300.6" cy="1036.8" r="3.6"/><circle cx="305.6" cy="1020.7" r="3.6"/><circle cx="310.2" cy="1030.0" r="3.6"/><circle cx="314.4" cy="1028.0" r="3.6"/><circle cx="318.4" cy="1035.0" r="3.6"/><circle cx="322.2" cy="1032.0" r="3.6"/><circle cx="325.7" cy="1038.0" r="3.6"/><circle cx="329.0" cy="1030.0" r="3.6"/><circle cx="332.2" cy="1036.0" r="3.6"/><circle cx="335.2" cy="1041.8" r="3.6"/><circle cx="338.1" cy="1029.4" r="3.6"/><circle cx="340.9" cy="1042.4" r="3.6"/><circle cx="343.5" cy="1042.4" r="3.6"/><circle cx="346.0" cy="1043.6" r="3.6"/><circle cx="348.4" cy="1045.1" r="3.6"/><circle cx="350.8" cy="1041.4" r="3.6"/><circle cx="353.0" cy="1044.0" r="3.6"/><circle cx="355.2" cy="1048.8" r="3.6"/><circle cx="357.3" cy="1048.7" r="3.6"/><circle cx="359.3" cy="1048.6" r="3.6"/><circle cx="361.3" cy="1041.9" r="3.6"/><circle cx="363.2" cy="1052.1" r="3.6"/><circle cx="365.0" cy="1055.3" r="3.6"/><circle cx="366.8" cy="1054.0" r="3.6"/><circle cx="368.6" cy="1049.3" r="3.6"/><circle cx="370.3" cy="1039.7" r="3.6"/><circle cx="371.9" cy="1048.8" r="3.6"/><circle cx="373.5" cy="1041.0" r="3.6"/><circle cx="375.1" cy="1026.8" r="3.6"/><circle cx="376.6" cy="1036.0" r="3.6"/><circle cx="378.1" cy="1025.5" r="3.6"/><circle cx="379.6" cy="1019.9" r="3.6"/><circle cx="381.0" cy="1015.6" r="3.6"/><circle cx="382.4" cy="1014.5" r="3.6"/><circle cx="383.7" cy="1004.8" r="3.6"/><circle cx="385.1" cy="1000.4" r="3.6"/><circle cx="386.4" cy="997.7" r="3.6"/><circle cx="387.6" cy="990.8" r="3.6"/><circle cx="388.9" cy="979.7" r="3.6"/><circle cx="390.1" cy="971.6" r="3.6"/><circle cx="391.3" cy="960.6" r="3.6"/><circle cx="392.5" cy="952.2" r="3.6"/><circle cx="393.6" cy="944.3" r="3.6"/><circle cx="394.8" cy="933.3" r="3.6"/><circle cx="395.9" cy="921.0" r="3.6"/><circle cx="397.0" cy="912.5" r="3.6"/><circle cx="398.1" cy="899.6" r="3.6"/><circle cx="399.1" cy="893.4" r="3.6"/><circle cx="400.2" cy="886.2" r="3.6"/><circle cx="401.2" cy="874.3" r="3.6"/><circle cx="402.2" cy="862.8" r="3.6"/><circle cx="403.2" cy="848.7" r="3.6"/><circle cx="404.2" cy="834.7" r="3.6"/><circle cx="405.1" cy="823.5" r="3.6"/><circle cx="406.1" cy="810.5" r="3.6"/><circle cx="407.0" cy="795.6" r="3.6"/><circle cx="407.9" cy="790.7" r="3.6"/><circle cx="408.8" cy="800.2" r="3.6"/><circle cx="409.7" cy="814.2" r="3.6"/><circle cx="410.6" cy="823.4" r="3.6"/><circle cx="411.4" cy="835.4" r="3.6"/><circle cx="412.3" cy="842.4" r="3.6"/><circle cx="413.1" cy="851.4" r="3.6"/><circle cx="414.0" cy="859.2" r="3.6"/><circle cx="414.8" cy="873.1" r="3.6"/><circle cx="415.6" cy="883.8" r="3.6"/><circle cx="416.4" cy="889.4" r="3.6"/><circle cx="417.2" cy="893.0" r="3.6"/><circle cx="418.0" cy="899.5" r="3.6"/><circle cx="418.7" cy="905.8" r="3.6"/><circle cx="419.5" cy="901.3" r="3.6"/><circle cx="420.2" cy="911.4" r="3.6"/><circle cx="421.0" cy="916.3" r="3.6"/><circle cx="421.7" cy="919.4" r="3.6"/><circle cx="422.4" cy="924.6" r="3.6"/><circle cx="423.1" cy="926.1" r="3.6"/><circle cx="423.8" cy="927.4" r="3.6"/><circle cx="424.5" cy="931.8" r="3.6"/><circle cx="425.2" cy="939.0" r="3.6"/><circle cx="425.9" cy="940.4" r="3.6"/><circle cx="426.6" cy="943.8" r="3.6"/><circle cx="427.3" cy="948.0" r="3.6"/><circle cx="427.9" cy="951.9" r="3.6"/><circle cx="428.6" cy="947.5" r="3.6"/><circle cx="429.2" cy="947.8" r="3.6"/><circle cx="429.9" cy="948.1" r="3.6"/><circle cx="430.5" cy="950.2" r="3.6"/><circle cx="431.1" cy="946.1" r="3.6"/><circle cx="431.8" cy="948.6" r="3.6"/><circle cx="432.4" cy="939.3" r="3.6"/><circle cx="433.0" cy="933.6" r="3.6"/><circle cx="433.6" cy="924.0" r="3.6"/><circle cx="434.2" cy="916.8" r="3.6"/><circle cx="434.8" cy="909.7" r="3.6"/><circle cx="435.4" cy="897.3" r="3.6"/><circle cx="435.9" cy="892.9" r="3.6"/><circle cx="436.5" cy="891.0" r="3.6"/><circle cx="437.1" cy="882.7" r="3.6"/><circle cx="437.6" cy="875.4" r="3.6"/><circle cx="438.2" cy="880.3" r="3.6"/><circle cx="438.8" cy="872.9" r="3.6"/><circle cx="439.3" cy="865.1" r="3.6"/><circle cx="439.9" cy="854.4" r="3.6"/><circle cx="440.4" cy="856.7" r="3.6"/><circle cx="440.9" cy="852.9" r="3.6"/><circle cx="441.5" cy="859.6" r="3.6"/><circle cx="442.0" cy="854.6" r="3.6"/><circle cx="442.5" cy="857.0" r="3.6"/><circle cx="443.0" cy="862.9" r="3.6"/><circle cx="443.5" cy="862.2" r="3.6"/><circle cx="444.0" cy="869.5" r="3.6"/><circle cx="444.6" cy="869.9" r="3.6"/><circle cx="445.1" cy="866.6" r="3.6"/><circle cx="445.6" cy="869.9" r="3.6"/><circle cx="446.0" cy="867.1" r="3.6"/><circle cx="446.5" cy="869.7" r="3.6"/><circle cx="447.0" cy="861.8" r="3.6"/><circle cx="447.5" cy="860.3" r="3.6"/><circle cx="448.0" cy="864.4" r="3.6"/><circle cx="448.5" cy="866.6" r="3.6"/><circle cx="448.9" cy="864.0" r="3.6"/><circle cx="449.4" cy="855.4" r="3.6"/><circle cx="449.9" cy="854.6" r="3.6"/><circle cx="450.3" cy="858.2" r="3.6"/><circle cx="450.8" cy="851.6" r="3.6"/><circle cx="451.2" cy="848.7" r="3.6"/><circle cx="451.7" cy="854.4" r="3.6"/><circle cx="452.1" cy="858.5" r="3.6"/><circle cx="452.6" cy="857.1" r="3.6"/><circle cx="453.0" cy="857.1" r="3.6"/><circle cx="453.4" cy="860.5" r="3.6"/><circle cx="453.9" cy="870.8" r="3.6"/><circle cx="454.3" cy="868.5" r="3.6"/><circle cx="454.7" cy="873.6" r="3.6"/><circle cx="455.2" cy="877.7" r="3.6"/><circle cx="455.6" cy="882.0" r="3.6"/><circle cx="456.0" cy="881.3" r="3.6"/><circle cx="456.4" cy="886.9" r="3.6"/><circle cx="456.8" cy="884.5" r="3.6"/><circle cx="457.2" cy="889.0" r="3.6"/><circle cx="457.6" cy="889.1" r="3.6"/><circle cx="458.1" cy="899.3" r="3.6"/><circle cx="458.5" cy="897.4" r="3.6"/><circle cx="458.9" cy="896.7" r="3.6"/><circle cx="459.3" cy="899.8" r="3.6"/><circle cx="459.6" cy="902.0" r="3.6"/><circle cx="460.0" cy="906.9" r="3.6"/><circle cx="460.4" cy="900.0" r="3.6"/><circle cx="460.8" cy="902.9" r="3.6"/><circle cx="461.2" cy="905.6" r="3.6"/><circle cx="461.6" cy="915.8" r="3.6"/><circle cx="462.0" cy="909.3" r="3.6"/><circle cx="462.3" cy="904.1" r="3.6"/><circle cx="462.7" cy="905.4" r="3.6"/><circle cx="463.1" cy="908.3" r="3.6"/><circle cx="463.5" cy="897.9" r="3.6"/><circle cx="463.8" cy="895.2" r="3.6"/><circle cx="464.2" cy="898.7" r="3.6"/><circle cx="464.6" cy="894.0" r="3.6"/><circle cx="464.9" cy="892.7" r="3.6"/><circle cx="465.3" cy="886.0" r="3.6"/><circle cx="465.6" cy="891.9" r="3.6"/><circle cx="466.0" cy="888.1" r="3.6"/><circle cx="466.4" cy="880.9" r="3.6"/><circle cx="466.7" cy="878.3" r="3.6"/><circle cx="467.1" cy="865.8" r="3.6"/><circle cx="467.4" cy="873.1" r="3.6"/><circle cx="467.8" cy="868.4" r="3.6"/><circle cx="468.1" cy="869.7" r="3.6"/><circle cx="468.4" cy="870.5" r="3.6"/><circle cx="468.8" cy="866.8" r="3.6"/><circle cx="469.1" cy="861.9" r="3.6"/><circle cx="469.5" cy="869.3" r="3.6"/><circle cx="469.8" cy="865.3" r="3.6"/><circle cx="470.1" cy="866.8" r="3.6"/><circle cx="470.5" cy="865.8" r="3.6"/><circle cx="470.8" cy="866.8" r="3.6"/><circle cx="471.1" cy="859.7" r="3.6"/><circle cx="471.4" cy="872.4" r="3.6"/><circle cx="471.8" cy="868.9" r="3.6"/>
</g>
<polyline points="147.0,1028.2 189.8,1018.2 214.9,1015.7 232.7,1000.7 246.5,1003.7 257.8,1027.2 267.3,1022.2 275.6,1036.4 282.8,1022.5 289.4,1026.7 295.2,1023.1 300.6,1022.3 305.6,1037.2 310.2,1048.0 314.4,1035.0 318.4,1051.2 322.2,1035.0 325.7,1029.5 329.0,1033.6 332.2,1055.2 335.2,1053.3 338.1,1060.0 340.9,1049.5 343.5,1042.3 346.0,1047.4 348.4,1046.9 350.8,1051.1 353.0,1054.8 355.2,1046.5 357.3,1058.2 359.3,1051.0 361.3,1060.6 363.2,1060.0 365.0,1059.6 366.8,1060.3 368.6,1057.4 370.3,1056.1 371.9,1049.3 373.5,1053.7 375.1,1058.6 376.6,1055.2 378.1,1044.0 379.6,1036.2 381.0,1026.5 382.4,1024.9 383.7,1014.4 385.1,1007.5 386.4,1000.7 387.6,995.2 388.9,986.7 390.1,979.4 391.3,967.9 392.5,959.0 393.6,954.0 394.8,936.6 395.9,923.8 397.0,914.4 398.1,905.8 399.1,893.2 400.2,885.8 401.2,876.4 402.2,861.3 403.2,848.0 404.2,839.1 405.1,822.6 406.1,811.4 407.0,796.5 407.9,791.4 408.8,798.7 409.7,813.4 410.6,826.2 411.4,837.9 412.3,845.3 413.1,856.8 414.0,860.8 414.8,875.7 415.6,880.9 416.4,886.9 417.2,895.7 418.0,897.3 418.7,899.0 419.5,907.1 420.2,908.1 421.0,913.4 421.7,918.7 422.4,921.3 423.1,927.2 423.8,926.2 424.5,927.4 425.2,935.3 425.9,939.5 426.6,941.0 427.3,946.8 427.9,945.6 428.6,943.2 429.2,949.6 429.9,947.4 430.5,947.9 431.1,946.4 431.8,946.6 432.4,941.7 433.0,937.0 433.6,925.5 434.2,915.9 434.8,908.2 435.4,897.5 435.9,894.7 436.5,888.9 437.1,885.8 437.6,876.0 438.2,882.4 438.8,871.5 439.3,859.0 439.9,850.0 440.4,852.0 440.9,853.4 441.5,853.0 442.0,858.3 442.5,857.7 443.0,864.2 443.5,862.1 444.0,866.9 444.6,872.5 445.1,879.2 445.6,866.1 446.0,866.7 446.5,863.3 447.0,866.9 447.5,857.7 448.0,858.3 448.5,858.4 448.9,853.3 449.4,851.8 449.9,852.1 450.3,845.1 450.8,846.9 451.2,850.8 451.7,854.5 452.1,856.2 452.6,853.7 453.0,861.3 453.4,868.5 453.9,870.4 454.3,871.0 454.7,870.9 455.2,879.3 455.6,877.7 456.0,878.3 456.4,882.2 456.8,892.9 457.2,891.1 457.6,897.0 458.1,893.5 458.5,900.8 458.9,897.2 459.3,900.5 459.6,911.7 460.0,907.2 460.4,903.9 460.8,906.4 461.2,908.2 461.6,911.0 462.0,904.1 462.3,898.2 462.7,901.8 463.1,900.9 463.5,899.2 463.8,901.3 464.2,895.5 464.6,895.2 464.9,886.3 465.3,891.0 465.6,892.5 466.0,884.7 466.4,879.7 466.7,876.4 467.1,879.5 467.4,867.5 467.8,868.7 468.1,869.8 468.4,870.7 468.8,866.4 469.1,869.1 469.5,867.0 469.8,868.4 470.1,867.5 470.5,863.9 470.8,867.9 471.1,871.2 471.4,864.5 471.8,867.1" fill="none" stroke="#7E2A8B" stroke-width="1.6"/>
<g fill="#7E2A8B">
<circle cx="147.0" cy="1028.2" r="3.6"/><circle cx="189.8" cy="1018.2" r="3.6"/><circle cx="214.9" cy="1015.7" r="3.6"/><circle cx="232.7" cy="1000.7" r="3.6"/><circle cx="246.5" cy="1003.7" r="3.6"/><circle cx="257.8" cy="1027.2" r="3.6"/><circle cx="267.3" cy="1022.2" r="3.6"/><circle cx="275.6" cy="1036.4" r="3.6"/><circle cx="282.8" cy="1022.5" r="3.6"/><circle cx="289.4" cy="1026.7" r="3.6"/><circle cx="295.2" cy="1023.1" r="3.6"/><circle cx="300.6" cy="1022.3" r="3.6"/><circle cx="305.6" cy="1037.2" r="3.6"/><circle cx="310.2" cy="1048.0" r="3.6"/><circle cx="314.4" cy="1035.0" r="3.6"/><circle cx="318.4" cy="1051.2" r="3.6"/><circle cx="322.2" cy="1035.0" r="3.6"/><circle cx="325.7" cy="1029.5" r="3.6"/><circle cx="329.0" cy="1033.6" r="3.6"/><circle cx="332.2" cy="1055.2" r="3.6"/><circle cx="335.2" cy="1053.3" r="3.6"/><circle cx="338.1" cy="1060.0" r="3.6"/><circle cx="340.9" cy="1049.5" r="3.6"/><circle cx="343.5" cy="1042.3" r="3.6"/><circle cx="346.0" cy="1047.4" r="3.6"/><circle cx="348.4" cy="1046.9" r="3.6"/><circle cx="350.8" cy="1051.1" r="3.6"/><circle cx="353.0" cy="1054.8" r="3.6"/><circle cx="355.2" cy="1046.5" r="3.6"/><circle cx="357.3" cy="1058.2" r="3.6"/><circle cx="359.3" cy="1051.0" r="3.6"/><circle cx="361.3" cy="1060.6" r="3.6"/><circle cx="363.2" cy="1060.0" r="3.6"/><circle cx="365.0" cy="1059.6" r="3.6"/><circle cx="366.8" cy="1060.3" r="3.6"/><circle cx="368.6" cy="1057.4" r="3.6"/><circle cx="370.3" cy="1056.1" r="3.6"/><circle cx="371.9" cy="1049.3" r="3.6"/><circle cx="373.5" cy="1053.7" r="3.6"/><circle cx="375.1" cy="1058.6" r="3.6"/><circle cx="376.6" cy="1055.2" r="3.6"/><circle cx="378.1" cy="1044.0" r="3.6"/><circle cx="379.6" cy="1036.2" r="3.6"/><circle cx="381.0" cy="1026.5" r="3.6"/><circle cx="382.4" cy="1024.9" r="3.6"/><circle cx="383.7" cy="1014.4" r="3.6"/><circle cx="385.1" cy="1007.5" r="3.6"/><circle cx="386.4" cy="1000.7" r="3.6"/><circle cx="387.6" cy="995.2" r="3.6"/><circle cx="388.9" cy="986.7" r="3.6"/><circle cx="390.1" cy="979.4" r="3.6"/><circle cx="391.3" cy="967.9" r="3.6"/><circle cx="392.5" cy="959.0" r="3.6"/><circle cx="393.6" cy="954.0" r="3.6"/><circle cx="394.8" cy="936.6" r="3.6"/><circle cx="395.9" cy="923.8" r="3.6"/><circle cx="397.0" cy="914.4" r="3.6"/><circle cx="398.1" cy="905.8" r="3.6"/><circle cx="399.1" cy="893.2" r="3.6"/><circle cx="400.2" cy="885.8" r="3.6"/><circle cx="401.2" cy="876.4" r="3.6"/><circle cx="402.2" cy="861.3" r="3.6"/><circle cx="403.2" cy="848.0" r="3.6"/><circle cx="404.2" cy="839.1" r="3.6"/><circle cx="405.1" cy="822.6" r="3.6"/><circle cx="406.1" cy="811.4" r="3.6"/><circle cx="407.0" cy="796.5" r="3.6"/><circle cx="407.9" cy="791.4" r="3.6"/><circle cx="408.8" cy="798.7" r="3.6"/><circle cx="409.7" cy="813.4" r="3.6"/><circle cx="410.6" cy="826.2" r="3.6"/><circle cx="411.4" cy="837.9" r="3.6"/><circle cx="412.3" cy="845.3" r="3.6"/><circle cx="413.1" cy="856.8" r="3.6"/><circle cx="414.0" cy="860.8" r="3.6"/><circle cx="414.8" cy="875.7" r="3.6"/><circle cx="415.6" cy="880.9" r="3.6"/><circle cx="416.4" cy="886.9" r="3.6"/><circle cx="417.2" cy="895.7" r="3.6"/><circle cx="418.0" cy="897.3" r="3.6"/><circle cx="418.7" cy="899.0" r="3.6"/><circle cx="419.5" cy="907.1" r="3.6"/><circle cx="420.2" cy="908.1" r="3.6"/><circle cx="421.0" cy="913.4" r="3.6"/><circle cx="421.7" cy="918.7" r="3.6"/><circle cx="422.4" cy="921.3" r="3.6"/><circle cx="423.1" cy="927.2" r="3.6"/><circle cx="423.8" cy="926.2" r="3.6"/><circle cx="424.5" cy="927.4" r="3.6"/><circle cx="425.2" cy="935.3" r="3.6"/><circle cx="425.9" cy="939.5" r="3.6"/><circle cx="426.6" cy="941.0" r="3.6"/><circle cx="427.3" cy="946.8" r="3.6"/><circle cx="427.9" cy="945.6" r="3.6"/><circle cx="428.6" cy="943.2" r="3.6"/><circle cx="429.2" cy="949.6" r="3.6"/><circle cx="429.9" cy="947.4" r="3.6"/><circle cx="430.5" cy="947.9" r="3.6"/><circle cx="431.1" cy="946.4" r="3.6"/><circle cx="431.8" cy="946.6" r="3.6"/><circle cx="432.4" cy="941.7" r="3.6"/><circle cx="433.0" cy="937.0" r="3.6"/><circle cx="433.6" cy="925.5" r="3.6"/><circle cx="434.2" cy="915.9" r="3.6"/><circle cx="434.8" cy="908.2" r="3.6"/><circle cx="435.4" cy="897.5" r="3.6"/><circle cx="435.9" cy="894.7" r="3.6"/><circle cx="436.5" cy="888.9" r="3.6"/><circle cx="437.1" cy="885.8" r="3.6"/><circle cx="437.6" cy="876.0" r="3.6"/><circle cx="438.2" cy="882.4" r="3.6"/><circle cx="438.8" cy="871.5" r="3.6"/><circle cx="439.3" cy="859.0" r="3.6"/><circle cx="439.9" cy="850.0" r="3.6"/><circle cx="440.4" cy="852.0" r="3.6"/><circle cx="440.9" cy="853.4" r="3.6"/><circle cx="441.5" cy="853.0" r="3.6"/><circle cx="442.0" cy="858.3" r="3.6"/><circle cx="442.5" cy="857.7" r="3.6"/><circle cx="443.0" cy="864.2" r="3.6"/><circle cx="443.5" cy="862.1" r="3.6"/><circle cx="444.0" cy="866.9" r="3.6"/><circle cx="444.6" cy="872.5" r="3.6"/><circle cx="445.1" cy="879.2" r="3.6"/><circle cx="445.6" cy="866.1" r="3.6"/><circle cx="446.0" cy="866.7" r="3.6"/><circle cx="446.5" cy="863.3" r="3.6"/><circle cx="447.0" cy="866.9" r="3.6"/><circle cx="447.5" cy="857.7" r="3.6"/><circle cx="448.0" cy="858.3" r="3.6"/><circle cx="448.5" cy="858.4" r="3.6"/><circle cx="448.9" cy="853.3" r="3.6"/><circle cx="449.4" cy="851.8" r="3.6"/><circle cx="449.9" cy="852.1" r="3.6"/><circle cx="450.3" cy="845.1" r="3.6"/><circle cx="450.8" cy="846.9" r="3.6"/><circle cx="451.2" cy="850.8" r="3.6"/><circle cx="451.7" cy="854.5" r="3.6"/><circle cx="452.1" cy="856.2" r="3.6"/><circle cx="452.6" cy="853.7" r="3.6"/><circle cx="453.0" cy="861.3" r="3.6"/><circle cx="453.4" cy="868.5" r="3.6"/><circle cx="453.9" cy="870.4" r="3.6"/><circle cx="454.3" cy="871.0" r="3.6"/><circle cx="454.7" cy="870.9" r="3.6"/><circle cx="455.2" cy="879.3" r="3.6"/><circle cx="455.6" cy="877.7" r="3.6"/><circle cx="456.0" cy="878.3" r="3.6"/><circle cx="456.4" cy="882.2" r="3.6"/><circle cx="456.8" cy="892.9" r="3.6"/><circle cx="457.2" cy="891.1" r="3.6"/><circle cx="457.6" cy="897.0" r="3.6"/><circle cx="458.1" cy="893.5" r="3.6"/><circle cx="458.5" cy="900.8" r="3.6"/><circle cx="458.9" cy="897.2" r="3.6"/><circle cx="459.3" cy="900.5" r="3.6"/><circle cx="459.6" cy="911.7" r="3.6"/><circle cx="460.0" cy="907.2" r="3.6"/><circle cx="460.4" cy="903.9" r="3.6"/><circle cx="460.8" cy="906.4" r="3.6"/><circle cx="461.2" cy="908.2" r="3.6"/><circle cx="461.6" cy="911.0" r="3.6"/><circle cx="462.0" cy="904.1" r="3.6"/><circle cx="462.3" cy="898.2" r="3.6"/><circle cx="462.7" cy="901.8" r="3.6"/><circle cx="463.1" cy="900.9" r="3.6"/><circle cx="463.5" cy="899.2" r="3.6"/><circle cx="463.8" cy="901.3" r="3.6"/><circle cx="464.2" cy="895.5" r="3.6"/><circle cx="464.6" cy="895.2" r="3.6"/><circle cx="464.9" cy="886.3" r="3.6"/><circle cx="465.3" cy="891.0" r="3.6"/><circle cx="465.6" cy="892.5" r="3.6"/><circle cx="466.0" cy="884.7" r="3.6"/><circle cx="466.4" cy="879.7" r="3.6"/><circle cx="466.7" cy="876.4" r="3.6"/><circle cx="467.1" cy="879.5" r="3.6"/><circle cx="467.4" cy="867.5" r="3.6"/><circle cx="467.8" cy="868.7" r="3.6"/><circle cx="468.1" cy="869.8" r="3.6"/><circle cx="468.4" cy="870.7" r="3.6"/><circle cx="468.8" cy="866.4" r="3.6"/><circle cx="469.1" cy="869.1" r="3.6"/><circle cx="469.5" cy="867.0" r="3.6"/><circle cx="469.8" cy="868.4" r="3.6"/><circle cx="470.1" cy="867.5" r="3.6"/><circle cx="470.5" cy="863.9" r="3.6"/><circle cx="470.8" cy="867.9" r="3.6"/><circle cx="471.1" cy="871.2" r="3.6"/><circle cx="471.4" cy="864.5" r="3.6"/><circle cx="471.8" cy="867.1" r="3.6"/>
</g>
<polyline points="147.0,1022.2 189.8,1024.6 214.9,1022.2 232.7,994.5 246.5,1009.1 257.8,1022.2 267.3,1009.9 275.6,1022.7 282.8,1018.3 289.4,1023.1 295.2,1007.9 300.6,1034.0 305.6,1027.9 310.2,1032.0 314.4,1032.8 318.4,1043.6 322.2,1021.9 325.7,1043.2 329.0,1040.0 332.2,1044.8 335.2,1050.0 338.1,1042.4 340.9,1051.2 343.5,1046.4 346.0,1056.9 348.4,1062.8 350.8,1062.5 353.0,1053.6 355.2,1059.5 357.3,1058.3 359.3,1059.9 361.3,1068.3 363.2,1057.8 365.0,1070.8 366.8,1067.4 368.6,1074.3 370.3,1068.4 371.9,1063.6 373.5,1066.6 375.1,1067.2 376.6,1061.2 378.1,1057.5 379.6,1049.5 381.0,1039.1 382.4,1038.3 383.7,1029.7 385.1,1021.1 386.4,1015.7 387.6,1012.5 388.9,1002.8 390.1,995.4 391.3,989.3 392.5,980.5 393.6,957.3 394.8,950.4 395.9,930.4 397.0,912.0 398.1,906.6 399.1,894.6 400.2,884.5 401.2,876.1 402.2,857.9 403.2,850.2 404.2,836.8 405.1,823.0 406.1,808.9 407.0,793.5 407.9,788.5 408.8,800.4 409.7,813.9 410.6,826.3 411.4,836.5 412.3,843.9 413.1,852.1 414.0,863.6 414.8,876.5 415.6,882.1 416.4,890.6 417.2,897.3 418.0,901.0 418.7,909.4 419.5,906.0 420.2,913.6 421.0,914.2 421.7,922.3 422.4,924.6 423.1,918.7 423.8,924.3 424.5,932.7 425.2,939.0 425.9,943.5 426.6,943.7 427.3,946.9 427.9,948.7 428.6,947.7 429.2,950.4 429.9,942.2 430.5,948.5 431.1,943.7 431.8,947.4 432.4,941.0 433.0,931.9 433.6,925.4 434.2,912.7 434.8,905.0 435.4,897.2 435.9,895.1 436.5,891.6 437.1,888.8 437.6,880.4 438.2,880.3 438.8,871.2 439.3,863.0 439.9,858.2 440.4,856.8 440.9,852.5 441.5,854.8 442.0,857.4 442.5,860.3 443.0,859.0 443.5,868.4 444.0,865.6 444.6,870.6 445.1,867.0 445.6,871.0 446.0,869.8 446.5,864.9 447.0,871.4 447.5,863.2 448.0,866.5 448.5,862.0 448.9,854.5 449.4,853.8 449.9,855.4 450.3,852.9 450.8,852.3 451.2,851.2 451.7,847.5 452.1,856.0 452.6,852.1 453.0,864.3 453.4,863.1 453.9,865.9 454.3,870.5 454.7,875.1 455.2,871.8 455.6,873.5 456.0,878.7 456.4,877.7 456.8,884.2 457.2,896.0 457.6,889.0 458.1,897.6 458.5,892.5 458.9,900.5 459.3,899.9 459.6,902.6 460.0,906.4 460.4,912.1 460.8,907.4 461.2,907.4 461.6,903.2 462.0,907.9 462.3,903.6 462.7,905.8 463.1,900.7 463.5,905.0 463.8,889.4 464.2,893.3 464.6,895.4 464.9,889.0 465.3,885.0 465.6,884.0 466.0,877.0 466.4,879.2 466.7,884.6 467.1,877.2 467.4,866.8 467.8,866.0 468.1,866.7 468.4,871.6 468.8,865.0 469.1,865.5 469.5,871.2 469.8,871.1 470.1,866.7 470.5,864.0 470.8,862.4 471.1,865.5 471.4,860.0 471.8,870.7" fill="none" stroke="#3C4DAB" stroke-width="1.6"/>
<g fill="#3C4DAB">
<circle cx="147.0" cy="1022.2" r="3.6"/><circle cx="189.8" cy="1024.6" r="3.6"/><circle cx="214.9" cy="1022.2" r="3.6"/><circle cx="232.7" cy="994.5" r="3.6"/><circle cx="246.5" cy="1009.1" r="3.6"/><circle cx="257.8" cy="1022.2" r="3.6"/><circle cx="267.3" cy="1009.9" r="3.6"/><circle cx="275.6" cy="1022.7" r="3.6"/><circle cx="282.8" cy="1018.3" r="3.6"/><circle cx="289.4" cy="1023.1" r="3.6"/><circle cx="295.2" cy="1007.9" r="3.6"/><circle cx="300.6" cy="1034.0" r="3.6"/><circle cx="305.6" cy="1027.9" r="3.6"/><circle cx="310.2" cy="1032.0" r="3.6"/><circle cx="314.4" cy="1032.8" r="3.6"/><circle cx="318.4" cy="1043.6" r="3.6"/><circle cx="322.2" cy="1021.9" r="3.6"/><circle cx="325.7" cy="1043.2" r="3.6"/><circle cx="329.0" cy="1040.0" r="3.6"/><circle cx="332.2" cy="1044.8" r="3.6"/><circle cx="335.2" cy="1050.0" r="3.6"/><circle cx="338.1" cy="1042.4" r="3.6"/><circle cx="340.9" cy="1051.2" r="3.6"/><circle cx="343.5" cy="1046.4" r="3.6"/><circle cx="346.0" cy="1056.9" r="3.6"/><circle cx="348.4" cy="1062.8" r="3.6"/><circle cx="350.8" cy="1062.5" r="3.6"/><circle cx="353.0" cy="1053.6" r="3.6"/><circle cx="355.2" cy="1059.5" r="3.6"/><circle cx="357.3" cy="1058.3" r="3.6"/><circle cx="359.3" cy="1059.9" r="3.6"/><circle cx="361.3" cy="1068.3" r="3.6"/><circle cx="363.2" cy="1057.8" r="3.6"/><circle cx="365.0" cy="1070.8" r="3.6"/><circle cx="366.8" cy="1067.4" r="3.6"/><circle cx="368.6" cy="1074.3" r="3.6"/><circle cx="370.3" cy="1068.4" r="3.6"/><circle cx="371.9" cy="1063.6" r="3.6"/><circle cx="373.5" cy="1066.6" r="3.6"/><circle cx="375.1" cy="1067.2" r="3.6"/><circle cx="376.6" cy="1061.2" r="3.6"/><circle cx="378.1" cy="1057.5" r="3.6"/><circle cx="379.6" cy="1049.5" r="3.6"/><circle cx="381.0" cy="1039.1" r="3.6"/><circle cx="382.4" cy="1038.3" r="3.6"/><circle cx="383.7" cy="1029.7" r="3.6"/><circle cx="385.1" cy="1021.1" r="3.6"/><circle cx="386.4" cy="1015.7" r="3.6"/><circle cx="387.6" cy="1012.5" r="3.6"/><circle cx="388.9" cy="1002.8" r="3.6"/><circle cx="390.1" cy="995.4" r="3.6"/><circle cx="391.3" cy="989.3" r="3.6"/><circle cx="392.5" cy="980.5" r="3.6"/><circle cx="393.6" cy="957.3" r="3.6"/><circle cx="394.8" cy="950.4" r="3.6"/><circle cx="395.9" cy="930.4" r="3.6"/><circle cx="397.0" cy="912.0" r="3.6"/><circle cx="398.1" cy="906.6" r="3.6"/><circle cx="399.1" cy="894.6" r="3.6"/><circle cx="400.2" cy="884.5" r="3.6"/><circle cx="401.2" cy="876.1" r="3.6"/><circle cx="402.2" cy="857.9" r="3.6"/><circle cx="403.2" cy="850.2" r="3.6"/><circle cx="404.2" cy="836.8" r="3.6"/><circle cx="405.1" cy="823.0" r="3.6"/><circle cx="406.1" cy="808.9" r="3.6"/><circle cx="407.0" cy="793.5" r="3.6"/><circle cx="407.9" cy="788.5" r="3.6"/><circle cx="408.8" cy="800.4" r="3.6"/><circle cx="409.7" cy="813.9" r="3.6"/><circle cx="410.6" cy="826.3" r="3.6"/><circle cx="411.4" cy="836.5" r="3.6"/><circle cx="412.3" cy="843.9" r="3.6"/><circle cx="413.1" cy="852.1" r="3.6"/><circle cx="414.0" cy="863.6" r="3.6"/><circle cx="414.8" cy="876.5" r="3.6"/><circle cx="415.6" cy="882.1" r="3.6"/><circle cx="416.4" cy="890.6" r="3.6"/><circle cx="417.2" cy="897.3" r="3.6"/><circle cx="418.0" cy="901.0" r="3.6"/><circle cx="418.7" cy="909.4" r="3.6"/><circle cx="419.5" cy="906.0" r="3.6"/><circle cx="420.2" cy="913.6" r="3.6"/><circle cx="421.0" cy="914.2" r="3.6"/><circle cx="421.7" cy="922.3" r="3.6"/><circle cx="422.4" cy="924.6" r="3.6"/><circle cx="423.1" cy="918.7" r="3.6"/><circle cx="423.8" cy="924.3" r="3.6"/><circle cx="424.5" cy="932.7" r="3.6"/><circle cx="425.2" cy="939.0" r="3.6"/><circle cx="425.9" cy="943.5" r="3.6"/><circle cx="426.6" cy="943.7" r="3.6"/><circle cx="427.3" cy="946.9" r="3.6"/><circle cx="427.9" cy="948.7" r="3.6"/><circle cx="428.6" cy="947.7" r="3.6"/><circle cx="429.2" cy="950.4" r="3.6"/><circle cx="429.9" cy="942.2" r="3.6"/><circle cx="430.5" cy="948.5" r="3.6"/><circle cx="431.1" cy="943.7" r="3.6"/><circle cx="431.8" cy="947.4" r="3.6"/><circle cx="432.4" cy="941.0" r="3.6"/><circle cx="433.0" cy="931.9" r="3.6"/><circle cx="433.6" cy="925.4" r="3.6"/><circle cx="434.2" cy="912.7" r="3.6"/><circle cx="434.8" cy="905.0" r="3.6"/><circle cx="435.4" cy="897.2" r="3.6"/><circle cx="435.9" cy="895.1" r="3.6"/><circle cx="436.5" cy="891.6" r="3.6"/><circle cx="437.1" cy="888.8" r="3.6"/><circle cx="437.6" cy="880.4" r="3.6"/><circle cx="438.2" cy="880.3" r="3.6"/><circle cx="438.8" cy="871.2" r="3.6"/><circle cx="439.3" cy="863.0" r="3.6"/><circle cx="439.9" cy="858.2" r="3.6"/><circle cx="440.4" cy="856.8" r="3.6"/><circle cx="440.9" cy="852.5" r="3.6"/><circle cx="441.5" cy="854.8" r="3.6"/><circle cx="442.0" cy="857.4" r="3.6"/><circle cx="442.5" cy="860.3" r="3.6"/><circle cx="443.0" cy="859.0" r="3.6"/><circle cx="443.5" cy="868.4" r="3.6"/><circle cx="444.0" cy="865.6" r="3.6"/><circle cx="444.6" cy="870.6" r="3.6"/><circle cx="445.1" cy="867.0" r="3.6"/><circle cx="445.6" cy="871.0" r="3.6"/><circle cx="446.0" cy="869.8" r="3.6"/><circle cx="446.5" cy="864.9" r="3.6"/><circle cx="447.0" cy="871.4" r="3.6"/><circle cx="447.5" cy="863.2" r="3.6"/><circle cx="448.0" cy="866.5" r="3.6"/><circle cx="448.5" cy="862.0" r="3.6"/><circle cx="448.9" cy="854.5" r="3.6"/><circle cx="449.4" cy="853.8" r="3.6"/><circle cx="449.9" cy="855.4" r="3.6"/><circle cx="450.3" cy="852.9" r="3.6"/><circle cx="450.8" cy="852.3" r="3.6"/><circle cx="451.2" cy="851.2" r="3.6"/><circle cx="451.7" cy="847.5" r="3.6"/><circle cx="452.1" cy="856.0" r="3.6"/><circle cx="452.6" cy="852.1" r="3.6"/><circle cx="453.0" cy="864.3" r="3.6"/><circle cx="453.4" cy="863.1" r="3.6"/><circle cx="453.9" cy="865.9" r="3.6"/><circle cx="454.3" cy="870.5" r="3.6"/><circle cx="454.7" cy="875.1" r="3.6"/><circle cx="455.2" cy="871.8" r="3.6"/><circle cx="455.6" cy="873.5" r="3.6"/><circle cx="456.0" cy="878.7" r="3.6"/><circle cx="456.4" cy="877.7" r="3.6"/><circle cx="456.8" cy="884.2" r="3.6"/><circle cx="457.2" cy="896.0" r="3.6"/><circle cx="457.6" cy="889.0" r="3.6"/><circle cx="458.1" cy="897.6" r="3.6"/><circle cx="458.5" cy="892.5" r="3.6"/><circle cx="458.9" cy="900.5" r="3.6"/><circle cx="459.3" cy="899.9" r="3.6"/><circle cx="459.6" cy="902.6" r="3.6"/><circle cx="460.0" cy="906.4" r="3.6"/><circle cx="460.4" cy="912.1" r="3.6"/><circle cx="460.8" cy="907.4" r="3.6"/><circle cx="461.2" cy="907.4" r="3.6"/><circle cx="461.6" cy="903.2" r="3.6"/><circle cx="462.0" cy="907.9" r="3.6"/><circle cx="462.3" cy="903.6" r="3.6"/><circle cx="462.7" cy="905.8" r="3.6"/><circle cx="463.1" cy="900.7" r="3.6"/><circle cx="463.5" cy="905.0" r="3.6"/><circle cx="463.8" cy="889.4" r="3.6"/><circle cx="464.2" cy="893.3" r="3.6"/><circle cx="464.6" cy="895.4" r="3.6"/><circle cx="464.9" cy="889.0" r="3.6"/><circle cx="465.3" cy="885.0" r="3.6"/><circle cx="465.6" cy="884.0" r="3.6"/><circle cx="466.0" cy="877.0" r="3.6"/><circle cx="466.4" cy="879.2" r="3.6"/><circle cx="466.7" cy="884.6" r="3.6"/><circle cx="467.1" cy="877.2" r="3.6"/><circle cx="467.4" cy="866.8" r="3.6"/><circle cx="467.8" cy="866.0" r="3.6"/><circle cx="468.1" cy="866.7" r="3.6"/><circle cx="468.4" cy="871.6" r="3.6"/><circle cx="468.8" cy="865.0" r="3.6"/><circle cx="469.1" cy="865.5" r="3.6"/><circle cx="469.5" cy="871.2" r="3.6"/><circle cx="469.8" cy="871.1" r="3.6"/><circle cx="470.1" cy="866.7" r="3.6"/><circle cx="470.5" cy="864.0" r="3.6"/><circle cx="470.8" cy="862.4" r="3.6"/><circle cx="471.1" cy="865.5" r="3.6"/><circle cx="471.4" cy="860.0" r="3.6"/><circle cx="471.8" cy="870.7" r="3.6"/>
</g>
<rect x="651.9" y="774.0" width="340.3" height="318.5" fill="none" stroke="#000" stroke-width="1.7"/>
<path d="M651.9,880.17h14M992.2,880.17h-14M651.9,986.34h14M992.2,986.34h-14M651.9,848.21h7M992.2,848.21h-7M651.9,829.51h7M992.2,829.51h-7M651.9,816.25h7M992.2,816.25h-7M651.9,805.96h7M992.2,805.96h-7M651.9,797.55h7M992.2,797.55h-7M651.9,790.45h7M992.2,790.45h-7M651.9,784.29h7M992.2,784.29h-7M651.9,778.86h7M992.2,778.86h-7M651.9,954.38h7M992.2,954.38h-7M651.9,935.68h7M992.2,935.68h-7M651.9,922.42h7M992.2,922.42h-7M651.9,912.13h7M992.2,912.13h-7M651.9,903.72h7M992.2,903.72h-7M651.9,896.62h7M992.2,896.62h-7M651.9,890.46h7M992.2,890.46h-7M651.9,885.03h7M992.2,885.03h-7M651.9,1060.55h7M992.2,1060.55h-7M651.9,1041.85h7M992.2,1041.85h-7M651.9,1028.59h7M992.2,1028.59h-7M651.9,1018.30h7M992.2,1018.30h-7M651.9,1009.89h7M992.2,1009.89h-7M651.9,1002.79h7M992.2,1002.79h-7M651.9,996.63h7M992.2,996.63h-7M651.9,991.20h7M992.2,991.20h-7M665.50,1092.5v-14M665.50,774.0v14M807.70,1092.5v-14M807.70,774.0v14M949.90,1092.5v-14M949.90,774.0v14M708.31,1092.5v-7M708.31,774.0v7M733.35,1092.5v-7M733.35,774.0v7M751.11,1092.5v-7M751.11,774.0v7M764.89,1092.5v-7M764.89,774.0v7M776.15,1092.5v-7M776.15,774.0v7M785.67,1092.5v-7M785.67,774.0v7M793.92,1092.5v-7M793.92,774.0v7M801.19,1092.5v-7M801.19,774.0v7M850.51,1092.5v-7M850.51,774.0v7M875.55,1092.5v-7M875.55,774.0v7M893.31,1092.5v-7M893.31,774.0v7M907.09,1092.5v-7M907.09,774.0v7M918.35,1092.5v-7M918.35,774.0v7M927.87,1092.5v-7M927.87,774.0v7M936.12,1092.5v-7M936.12,774.0v7M943.39,1092.5v-7M943.39,774.0v7" stroke="#000" stroke-width="1.5" fill="none"/>
<polyline points="668.3,1034.2 711.2,1017.1 736.2,1021.2 754.0,1010.5 767.7,1015.7 779.0,1027.2 788.5,1011.9 796.8,1030.3 804.0,1020.0 810.5,1011.5 816.4,1022.0 821.8,1026.0 826.8,1030.0 831.3,1035.0 835.6,1030.0 839.6,1033.0 843.3,1027.9 846.8,1048.0 850.2,1035.0 853.4,1040.0 856.4,1042.0 859.2,1048.5 862.0,1056.8 864.6,1054.0 867.1,1042.0 869.6,1053.9 871.9,1056.3 874.1,1047.2 876.3,1047.8 878.4,1054.0 880.4,1047.1 882.4,1065.3 884.3,1044.7 886.1,1051.9 887.9,1056.5 889.7,1056.8 891.3,1058.5 893.0,1057.8 894.6,1053.3 896.2,1058.5 897.7,1044.1 899.2,1044.4 900.6,1036.2 902.0,1031.5 903.4,1025.2 904.8,1016.1 906.1,1009.9 907.4,1005.7 908.7,996.9 909.9,986.3 911.2,984.1 912.4,977.3 913.5,961.4 914.7,956.3 915.8,951.1 916.9,936.9 918.0,925.8 919.1,915.2 920.2,904.2 921.2,892.8 922.2,879.6 923.2,872.9 924.2,861.3 925.2,849.3 926.1,832.6 927.1,820.7 928.0,803.5 928.9,791.3 929.8,793.4 930.7,803.9 931.6,825.8 932.5,838.3 933.3,845.1 934.2,851.0 935.0,858.1 935.8,869.1 936.6,873.6 937.4,886.4 938.2,889.3 939.0,892.5 939.7,897.5 940.5,901.2 941.2,907.0 942.0,909.0 942.7,917.0 943.4,916.4 944.1,916.7 944.9,923.4 945.6,923.7 946.2,931.0 946.9,936.3 947.6,938.1 948.3,936.3 948.9,939.8 949.6,947.6 950.2,946.3 950.9,945.9 951.5,947.1 952.1,948.2 952.7,943.1 953.4,937.8 954.0,935.5 954.6,932.9 955.2,926.5 955.8,921.5 956.3,919.6 956.9,912.9 957.5,910.2 958.1,905.4 958.6,905.0 959.2,892.4 959.7,888.2 960.3,882.0 960.8,876.8 961.4,871.3 961.9,859.4 962.4,849.9 963.0,847.7 963.5,850.4 964.0,855.3 964.5,856.2 965.0,855.9 965.5,859.9 966.0,864.1 966.5,868.3 967.0,868.1 967.5,869.4 968.0,864.9 968.5,864.4 969.0,868.0 969.4,857.3 969.9,859.5 970.4,859.6 970.8,857.1 971.3,855.2 971.7,856.1 972.2,856.0 972.6,856.5 973.1,854.5 973.5,861.0 974.0,862.6 974.4,866.6 974.8,871.4 975.3,875.2 975.7,878.8 976.1,878.9 976.5,885.3 977.0,889.0 977.4,891.8 977.8,894.9 978.2,893.7 978.6,895.8 979.0,900.2 979.4,897.3 979.8,902.5 980.2,902.1 980.6,903.1 981.0,900.1 981.4,901.5 981.8,902.5 982.2,903.2 982.5,901.9 982.9,897.9 983.3,895.8 983.7,892.5 984.0,893.3 984.4,890.1 984.8,890.2 985.2,891.2 985.5,885.5 985.9,880.4 986.2,879.7 986.6,876.3 987.0,874.8 987.3,878.2 987.7,874.0 988.0,868.4 988.4,871.8 988.7,872.0 989.0,867.6 989.4,866.5 989.7,867.3 990.1,868.6 990.4,869.4 990.7,870.6 991.1,870.7 991.4,870.7 991.7,871.1 992.1,869.7 992.4,864.9 992.7,868.1" fill="none" stroke="#ED1C24" stroke-width="1.6"/>
<g fill="#ED1C24">
<circle cx="668.3" cy="1034.2" r="3.6"/><circle cx="711.2" cy="1017.1" r="3.6"/><circle cx="736.2" cy="1021.2" r="3.6"/><circle cx="754.0" cy="1010.5" r="3.6"/><circle cx="767.7" cy="1015.7" r="3.6"/><circle cx="779.0" cy="1027.2" r="3.6"/><circle cx="788.5" cy="1011.9" r="3.6"/><circle cx="796.8" cy="1030.3" r="3.6"/><circle cx="804.0" cy="1020.0" r="3.6"/><circle cx="810.5" cy="1011.5" r="3.6"/><circle cx="816.4" cy="1022.0" r="3.6"/><circle cx="821.8" cy="1026.0" r="3.6"/><circle cx="826.8" cy="1030.0" r="3.6"/><circle cx="831.3" cy="1035.0" r="3.6"/><circle cx="835.6" cy="1030.0" r="3.6"/><circle cx="839.6" cy="1033.0" r="3.6"/><circle cx="843.3" cy="1027.9" r="3.6"/><circle cx="846.8" cy="1048.0" r="3.6"/><circle cx="850.2" cy="1035.0" r="3.6"/><circle cx="853.4" cy="1040.0" r="3.6"/><circle cx="856.4" cy="1042.0" r="3.6"/><circle cx="859.2" cy="1048.5" r="3.6"/><circle cx="862.0" cy="1056.8" r="3.6"/><circle cx="864.6" cy="1054.0" r="3.6"/><circle cx="867.1" cy="1042.0" r="3.6"/><circle cx="869.6" cy="1053.9" r="3.6"/><circle cx="871.9" cy="1056.3" r="3.6"/><circle cx="874.1" cy="1047.2" r="3.6"/><circle cx="876.3" cy="1047.8" r="3.6"/><circle cx="878.4" cy="1054.0" r="3.6"/><circle cx="880.4" cy="1047.1" r="3.6"/><circle cx="882.4" cy="1065.3" r="3.6"/><circle cx="884.3" cy="1044.7" r="3.6"/><circle cx="886.1" cy="1051.9" r="3.6"/><circle cx="887.9" cy="1056.5" r="3.6"/><circle cx="889.7" cy="1056.8" r="3.6"/><circle cx="891.3" cy="1058.5" r="3.6"/><circle cx="893.0" cy="1057.8" r="3.6"/><circle cx="894.6" cy="1053.3" r="3.6"/><circle cx="896.2" cy="1058.5" r="3.6"/><circle cx="897.7" cy="1044.1" r="3.6"/><circle cx="899.2" cy="1044.4" r="3.6"/><circle cx="900.6" cy="1036.2" r="3.6"/><circle cx="902.0" cy="1031.5" r="3.6"/><circle cx="903.4" cy="1025.2" r="3.6"/><circle cx="904.8" cy="1016.1" r="3.6"/><circle cx="906.1" cy="1009.9" r="3.6"/><circle cx="907.4" cy="1005.7" r="3.6"/><circle cx="908.7" cy="996.9" r="3.6"/><circle cx="909.9" cy="986.3" r="3.6"/><circle cx="911.2" cy="984.1" r="3.6"/><circle cx="912.4" cy="977.3" r="3.6"/><circle cx="913.5" cy="961.4" r="3.6"/><circle cx="914.7" cy="956.3" r="3.6"/><circle cx="915.8" cy="951.1" r="3.6"/><circle cx="916.9" cy="936.9" r="3.6"/><circle cx="918.0" cy="925.8" r="3.6"/><circle cx="919.1" cy="915.2" r="3.6"/><circle cx="920.2" cy="904.2" r="3.6"/><circle cx="921.2" cy="892.8" r="3.6"/><circle cx="922.2" cy="879.6" r="3.6"/><circle cx="923.2" cy="872.9" r="3.6"/><circle cx="924.2" cy="861.3" r="3.6"/><circle cx="925.2" cy="849.3" r="3.6"/><circle cx="926.1" cy="832.6" r="3.6"/><circle cx="927.1" cy="820.7" r="3.6"/><circle cx="928.0" cy="803.5" r="3.6"/><circle cx="928.9" cy="791.3" r="3.6"/><circle cx="929.8" cy="793.4" r="3.6"/><circle cx="930.7" cy="803.9" r="3.6"/><circle cx="931.6" cy="825.8" r="3.6"/><circle cx="932.5" cy="838.3" r="3.6"/><circle cx="933.3" cy="845.1" r="3.6"/><circle cx="934.2" cy="851.0" r="3.6"/><circle cx="935.0" cy="858.1" r="3.6"/><circle cx="935.8" cy="869.1" r="3.6"/><circle cx="936.6" cy="873.6" r="3.6"/><circle cx="937.4" cy="886.4" r="3.6"/><circle cx="938.2" cy="889.3" r="3.6"/><circle cx="939.0" cy="892.5" r="3.6"/><circle cx="939.7" cy="897.5" r="3.6"/><circle cx="940.5" cy="901.2" r="3.6"/><circle cx="941.2" cy="907.0" r="3.6"/><circle cx="942.0" cy="909.0" r="3.6"/><circle cx="942.7" cy="917.0" r="3.6"/><circle cx="943.4" cy="916.4" r="3.6"/><circle cx="944.1" cy="916.7" r="3.6"/><circle cx="944.9" cy="923.4" r="3.6"/><circle cx="945.6" cy="923.7" r="3.6"/><circle cx="946.2" cy="931.0" r="3.6"/><circle cx="946.9" cy="936.3" r="3.6"/><circle cx="947.6" cy="938.1" r="3.6"/><circle cx="948.3" cy="936.3" r="3.6"/><circle cx="948.9" cy="939.8" r="3.6"/><circle cx="949.6" cy="947.6" r="3.6"/><circle cx="950.2" cy="946.3" r="3.6"/><circle cx="950.9" cy="945.9" r="3.6"/><circle cx="951.5" cy="947.1" r="3.6"/><circle cx="952.1" cy="948.2" r="3.6"/><circle cx="952.7" cy="943.1" r="3.6"/><circle cx="953.4" cy="937.8" r="3.6"/><circle cx="954.0" cy="935.5" r="3.6"/><circle cx="954.6" cy="932.9" r="3.6"/><circle cx="955.2" cy="926.5" r="3.6"/><circle cx="955.8" cy="921.5" r="3.6"/><circle cx="956.3" cy="919.6" r="3.6"/><circle cx="956.9" cy="912.9" r="3.6"/><circle cx="957.5" cy="910.2" r="3.6"/><circle cx="958.1" cy="905.4" r="3.6"/><circle cx="958.6" cy="905.0" r="3.6"/><circle cx="959.2" cy="892.4" r="3.6"/><circle cx="959.7" cy="888.2" r="3.6"/><circle cx="960.3" cy="882.0" r="3.6"/><circle cx="960.8" cy="876.8" r="3.6"/><circle cx="961.4" cy="871.3" r="3.6"/><circle cx="961.9" cy="859.4" r="3.6"/><circle cx="962.4" cy="849.9" r="3.6"/><circle cx="963.0" cy="847.7" r="3.6"/><circle cx="963.5" cy="850.4" r="3.6"/><circle cx="964.0" cy="855.3" r="3.6"/><circle cx="964.5" cy="856.2" r="3.6"/><circle cx="965.0" cy="855.9" r="3.6"/><circle cx="965.5" cy="859.9" r="3.6"/><circle cx="966.0" cy="864.1" r="3.6"/><circle cx="966.5" cy="868.3" r="3.6"/><circle cx="967.0" cy="868.1" r="3.6"/><circle cx="967.5" cy="869.4" r="3.6"/><circle cx="968.0" cy="864.9" r="3.6"/><circle cx="968.5" cy="864.4" r="3.6"/><circle cx="969.0" cy="868.0" r="3.6"/><circle cx="969.4" cy="857.3" r="3.6"/><circle cx="969.9" cy="859.5" r="3.6"/><circle cx="970.4" cy="859.6" r="3.6"/><circle cx="970.8" cy="857.1" r="3.6"/><circle cx="971.3" cy="855.2" r="3.6"/><circle cx="971.7" cy="856.1" r="3.6"/><circle cx="972.2" cy="856.0" r="3.6"/><circle cx="972.6" cy="856.5" r="3.6"/><circle cx="973.1" cy="854.5" r="3.6"/><circle cx="973.5" cy="861.0" r="3.6"/><circle cx="974.0" cy="862.6" r="3.6"/><circle cx="974.4" cy="866.6" r="3.6"/><circle cx="974.8" cy="871.4" r="3.6"/><circle cx="975.3" cy="875.2" r="3.6"/><circle cx="975.7" cy="878.8" r="3.6"/><circle cx="976.1" cy="878.9" r="3.6"/><circle cx="976.5" cy="885.3" r="3.6"/><circle cx="977.0" cy="889.0" r="3.6"/><circle cx="977.4" cy="891.8" r="3.6"/><circle cx="977.8" cy="894.9" r="3.6"/><circle cx="978.2" cy="893.7" r="3.6"/><circle cx="978.6" cy="895.8" r="3.6"/><circle cx="979.0" cy="900.2" r="3.6"/><circle cx="979.4" cy="897.3" r="3.6"/><circle cx="979.8" cy="902.5" r="3.6"/><circle cx="980.2" cy="902.1" r="3.6"/><circle cx="980.6" cy="903.1" r="3.6"/><circle cx="981.0" cy="900.1" r="3.6"/><circle cx="981.4" cy="901.5" r="3.6"/><circle cx="981.8" cy="902.5" r="3.6"/><circle cx="982.2" cy="903.2" r="3.6"/><circle cx="982.5" cy="901.9" r="3.6"/><circle cx="982.9" cy="897.9" r="3.6"/><circle cx="983.3" cy="895.8" r="3.6"/><circle cx="983.7" cy="892.5" r="3.6"/><circle cx="984.0" cy="893.3" r="3.6"/><circle cx="984.4" cy="890.1" r="3.6"/><circle cx="984.8" cy="890.2" r="3.6"/><circle cx="985.2" cy="891.2" r="3.6"/><circle cx="985.5" cy="885.5" r="3.6"/><circle cx="985.9" cy="880.4" r="3.6"/><circle cx="986.2" cy="879.7" r="3.6"/><circle cx="986.6" cy="876.3" r="3.6"/><circle cx="987.0" cy="874.8" r="3.6"/><circle cx="987.3" cy="878.2" r="3.6"/><circle cx="987.7" cy="874.0" r="3.6"/><circle cx="988.0" cy="868.4" r="3.6"/><circle cx="988.4" cy="871.8" r="3.6"/><circle cx="988.7" cy="872.0" r="3.6"/><circle cx="989.0" cy="867.6" r="3.6"/><circle cx="989.4" cy="866.5" r="3.6"/><circle cx="989.7" cy="867.3" r="3.6"/><circle cx="990.1" cy="868.6" r="3.6"/><circle cx="990.4" cy="869.4" r="3.6"/><circle cx="990.7" cy="870.6" r="3.6"/><circle cx="991.1" cy="870.7" r="3.6"/><circle cx="991.4" cy="870.7" r="3.6"/><circle cx="991.7" cy="871.1" r="3.6"/><circle cx="992.1" cy="869.7" r="3.6"/><circle cx="992.4" cy="864.9" r="3.6"/><circle cx="992.7" cy="868.1" r="3.6"/>
</g>
<polyline points="668.3,1034.6 711.2,1025.8 736.2,1017.1 754.0,1029.2 767.7,1046.3 779.0,1026.2 788.5,1050.0 796.8,1008.3 804.0,1025.0 810.5,1020.0 816.4,1020.5 821.8,1025.0 826.8,1023.1 831.3,1038.0 835.6,1027.9 839.6,1035.0 843.3,1045.0 846.8,1045.6 850.2,1038.0 853.4,1042.0 856.4,1047.2 859.2,1043.8 862.0,1051.6 864.6,1045.5 867.1,1043.3 869.6,1057.0 871.9,1053.6 874.1,1052.5 876.3,1058.1 878.4,1060.5 880.4,1057.8 882.4,1043.6 884.3,1054.2 886.1,1055.5 887.9,1052.6 889.7,1059.1 891.3,1064.2 893.0,1053.6 894.6,1048.2 896.2,1063.4 897.7,1047.8 899.2,1041.7 900.6,1038.3 902.0,1032.1 903.4,1023.2 904.8,1019.9 906.1,1010.3 907.4,1001.9 908.7,996.5 909.9,989.5 911.2,978.3 912.4,973.0 913.5,964.4 914.7,961.9 915.8,944.0 916.9,938.3 918.0,925.2 919.1,915.4 920.2,907.0 921.2,895.2 922.2,883.6 923.2,872.0 924.2,860.9 925.2,849.1 926.1,836.4 927.1,821.2 928.0,805.3 928.9,785.5 929.8,793.4 930.7,804.8 931.6,825.5 932.5,834.3 933.3,842.4 934.2,848.2 935.0,862.3 935.8,865.5 936.6,878.7 937.4,884.7 938.2,893.0 939.0,896.4 939.7,898.3 940.5,902.2 941.2,906.8 942.0,911.0 942.7,913.3 943.4,918.1 944.1,925.2 944.9,921.2 945.6,928.7 946.2,929.1 946.9,934.4 947.6,938.6 948.3,939.1 948.9,943.2 949.6,940.2 950.2,948.0 950.9,944.6 951.5,946.2 952.1,943.2 952.7,934.6 953.4,935.8 954.0,935.2 954.6,935.0 955.2,928.5 955.8,924.4 956.3,916.4 956.9,918.2 957.5,914.3 958.1,905.3 958.6,899.4 959.2,890.7 959.7,890.4 960.3,888.3 960.8,877.4 961.4,871.7 961.9,861.7 962.4,849.5 963.0,854.2 963.5,849.7 964.0,853.7 964.5,856.8 965.0,860.1 965.5,861.6 966.0,864.8 966.5,865.5 967.0,866.5 967.5,870.1 968.0,867.4 968.5,864.0 969.0,861.7 969.4,861.0 969.9,856.2 970.4,856.1 970.8,854.4 971.3,857.4 971.7,857.2 972.2,860.4 972.6,853.4 973.1,857.1 973.5,863.3 974.0,864.0 974.4,867.1 974.8,874.7 975.3,873.0 975.7,874.3 976.1,877.1 976.5,884.0 977.0,887.1 977.4,886.3 977.8,889.7 978.2,895.2 978.6,897.5 979.0,896.9 979.4,901.7 979.8,903.3 980.2,899.3 980.6,903.2 981.0,904.8 981.4,902.2 981.8,897.8 982.2,900.7 982.5,901.4 982.9,901.5 983.3,891.4 983.7,900.1 984.0,889.9 984.4,892.7 984.8,891.6 985.2,889.5 985.5,885.9 985.9,881.1 986.2,883.0 986.6,877.9 987.0,871.8 987.3,881.6 987.7,875.0 988.0,875.8 988.4,868.3 988.7,872.4 989.0,871.9 989.4,871.4 989.7,868.0 990.1,865.4 990.4,867.6 990.7,863.2 991.1,864.3 991.4,868.3 991.7,866.0 992.1,867.8 992.4,868.0 992.7,872.6" fill="none" stroke="#EF8A2D" stroke-width="1.6"/>
<g fill="#EF8A2D">
<circle cx="668.3" cy="1034.6" r="3.6"/><circle cx="711.2" cy="1025.8" r="3.6"/><circle cx="736.2" cy="1017.1" r="3.6"/><circle cx="754.0" cy="1029.2" r="3.6"/><circle cx="767.7" cy="1046.3" r="3.6"/><circle cx="779.0" cy="1026.2" r="3.6"/><circle cx="788.5" cy="1050.0" r="3.6"/><circle cx="796.8" cy="1008.3" r="3.6"/><circle cx="804.0" cy="1025.0" r="3.6"/><circle cx="810.5" cy="1020.0" r="3.6"/><circle cx="816.4" cy="1020.5" r="3.6"/><circle cx="821.8" cy="1025.0" r="3.6"/><circle cx="826.8" cy="1023.1" r="3.6"/><circle cx="831.3" cy="1038.0" r="3.6"/><circle cx="835.6" cy="1027.9" r="3.6"/><circle cx="839.6" cy="1035.0" r="3.6"/><circle cx="843.3" cy="1045.0" r="3.6"/><circle cx="846.8" cy="1045.6" r="3.6"/><circle cx="850.2" cy="1038.0" r="3.6"/><circle cx="853.4" cy="1042.0" r="3.6"/><circle cx="856.4" cy="1047.2" r="3.6"/><circle cx="859.2" cy="1043.8" r="3.6"/><circle cx="862.0" cy="1051.6" r="3.6"/><circle cx="864.6" cy="1045.5" r="3.6"/><circle cx="867.1" cy="1043.3" r="3.6"/><circle cx="869.6" cy="1057.0" r="3.6"/><circle cx="871.9" cy="1053.6" r="3.6"/><circle cx="874.1" cy="1052.5" r="3.6"/><circle cx="876.3" cy="1058.1" r="3.6"/><circle cx="878.4" cy="1060.5" r="3.6"/><circle cx="880.4" cy="1057.8" r="3.6"/><circle cx="882.4" cy="1043.6" r="3.6"/><circle cx="884.3" cy="1054.2" r="3.6"/><circle cx="886.1" cy="1055.5" r="3.6"/><circle cx="887.9" cy="1052.6" r="3.6"/><circle cx="889.7" cy="1059.1" r="3.6"/><circle cx="891.3" cy="1064.2" r="3.6"/><circle cx="893.0" cy="1053.6" r="3.6"/><circle cx="894.6" cy="1048.2" r="3.6"/><circle cx="896.2" cy="1063.4" r="3.6"/><circle cx="897.7" cy="1047.8" r="3.6"/><circle cx="899.2" cy="1041.7" r="3.6"/><circle cx="900.6" cy="1038.3" r="3.6"/><circle cx="902.0" cy="1032.1" r="3.6"/><circle cx="903.4" cy="1023.2" r="3.6"/><circle cx="904.8" cy="1019.9" r="3.6"/><circle cx="906.1" cy="1010.3" r="3.6"/><circle cx="907.4" cy="1001.9" r="3.6"/><circle cx="908.7" cy="996.5" r="3.6"/><circle cx="909.9" cy="989.5" r="3.6"/><circle cx="911.2" cy="978.3" r="3.6"/><circle cx="912.4" cy="973.0" r="3.6"/><circle cx="913.5" cy="964.4" r="3.6"/><circle cx="914.7" cy="961.9" r="3.6"/><circle cx="915.8" cy="944.0" r="3.6"/><circle cx="916.9" cy="938.3" r="3.6"/><circle cx="918.0" cy="925.2" r="3.6"/><circle cx="919.1" cy="915.4" r="3.6"/><circle cx="920.2" cy="907.0" r="3.6"/><circle cx="921.2" cy="895.2" r="3.6"/><circle cx="922.2" cy="883.6" r="3.6"/><circle cx="923.2" cy="872.0" r="3.6"/><circle cx="924.2" cy="860.9" r="3.6"/><circle cx="925.2" cy="849.1" r="3.6"/><circle cx="926.1" cy="836.4" r="3.6"/><circle cx="927.1" cy="821.2" r="3.6"/><circle cx="928.0" cy="805.3" r="3.6"/><circle cx="928.9" cy="785.5" r="3.6"/><circle cx="929.8" cy="793.4" r="3.6"/><circle cx="930.7" cy="804.8" r="3.6"/><circle cx="931.6" cy="825.5" r="3.6"/><circle cx="932.5" cy="834.3" r="3.6"/><circle cx="933.3" cy="842.4" r="3.6"/><circle cx="934.2" cy="848.2" r="3.6"/><circle cx="935.0" cy="862.3" r="3.6"/><circle cx="935.8" cy="865.5" r="3.6"/><circle cx="936.6" cy="878.7" r="3.6"/><circle cx="937.4" cy="884.7" r="3.6"/><circle cx="938.2" cy="893.0" r="3.6"/><circle cx="939.0" cy="896.4" r="3.6"/><circle cx="939.7" cy="898.3" r="3.6"/><circle cx="940.5" cy="902.2" r="3.6"/><circle cx="941.2" cy="906.8" r="3.6"/><circle cx="942.0" cy="911.0" r="3.6"/><circle cx="942.7" cy="913.3" r="3.6"/><circle cx="943.4" cy="918.1" r="3.6"/><circle cx="944.1" cy="925.2" r="3.6"/><circle cx="944.9" cy="921.2" r="3.6"/><circle cx="945.6" cy="928.7" r="3.6"/><circle cx="946.2" cy="929.1" r="3.6"/><circle cx="946.9" cy="934.4" r="3.6"/><circle cx="947.6" cy="938.6" r="3.6"/><circle cx="948.3" cy="939.1" r="3.6"/><circle cx="948.9" cy="943.2" r="3.6"/><circle cx="949.6" cy="940.2" r="3.6"/><circle cx="950.2" cy="948.0" r="3.6"/><circle cx="950.9" cy="944.6" r="3.6"/><circle cx="951.5" cy="946.2" r="3.6"/><circle cx="952.1" cy="943.2" r="3.6"/><circle cx="952.7" cy="934.6" r="3.6"/><circle cx="953.4" cy="935.8" r="3.6"/><circle cx="954.0" cy="935.2" r="3.6"/><circle cx="954.6" cy="935.0" r="3.6"/><circle cx="955.2" cy="928.5" r="3.6"/><circle cx="955.8" cy="924.4" r="3.6"/><circle cx="956.3" cy="916.4" r="3.6"/><circle cx="956.9" cy="918.2" r="3.6"/><circle cx="957.5" cy="914.3" r="3.6"/><circle cx="958.1" cy="905.3" r="3.6"/><circle cx="958.6" cy="899.4" r="3.6"/><circle cx="959.2" cy="890.7" r="3.6"/><circle cx="959.7" cy="890.4" r="3.6"/><circle cx="960.3" cy="888.3" r="3.6"/><circle cx="960.8" cy="877.4" r="3.6"/><circle cx="961.4" cy="871.7" r="3.6"/><circle cx="961.9" cy="861.7" r="3.6"/><circle cx="962.4" cy="849.5" r="3.6"/><circle cx="963.0" cy="854.2" r="3.6"/><circle cx="963.5" cy="849.7" r="3.6"/><circle cx="964.0" cy="853.7" r="3.6"/><circle cx="964.5" cy="856.8" r="3.6"/><circle cx="965.0" cy="860.1" r="3.6"/><circle cx="965.5" cy="861.6" r="3.6"/><circle cx="966.0" cy="864.8" r="3.6"/><circle cx="966.5" cy="865.5" r="3.6"/><circle cx="967.0" cy="866.5" r="3.6"/><circle cx="967.5" cy="870.1" r="3.6"/><circle cx="968.0" cy="867.4" r="3.6"/><circle cx="968.5" cy="864.0" r="3.6"/><circle cx="969.0" cy="861.7" r="3.6"/><circle cx="969.4" cy="861.0" r="3.6"/><circle cx="969.9" cy="856.2" r="3.6"/><circle cx="970.4" cy="856.1" r="3.6"/><circle cx="970.8" cy="854.4" r="3.6"/><circle cx="971.3" cy="857.4" r="3.6"/><circle cx="971.7" cy="857.2" r="3.6"/><circle cx="972.2" cy="860.4" r="3.6"/><circle cx="972.6" cy="853.4" r="3.6"/><circle cx="973.1" cy="857.1" r="3.6"/><circle cx="973.5" cy="863.3" r="3.6"/><circle cx="974.0" cy="864.0" r="3.6"/><circle cx="974.4" cy="867.1" r="3.6"/><circle cx="974.8" cy="874.7" r="3.6"/><circle cx="975.3" cy="873.0" r="3.6"/><circle cx="975.7" cy="874.3" r="3.6"/><circle cx="976.1" cy="877.1" r="3.6"/><circle cx="976.5" cy="884.0" r="3.6"/><circle cx="977.0" cy="887.1" r="3.6"/><circle cx="977.4" cy="886.3" r="3.6"/><circle cx="977.8" cy="889.7" r="3.6"/><circle cx="978.2" cy="895.2" r="3.6"/><circle cx="978.6" cy="897.5" r="3.6"/><circle cx="979.0" cy="896.9" r="3.6"/><circle cx="979.4" cy="901.7" r="3.6"/><circle cx="979.8" cy="903.3" r="3.6"/><circle cx="980.2" cy="899.3" r="3.6"/><circle cx="980.6" cy="903.2" r="3.6"/><circle cx="981.0" cy="904.8" r="3.6"/><circle cx="981.4" cy="902.2" r="3.6"/><circle cx="981.8" cy="897.8" r="3.6"/><circle cx="982.2" cy="900.7" r="3.6"/><circle cx="982.5" cy="901.4" r="3.6"/><circle cx="982.9" cy="901.5" r="3.6"/><circle cx="983.3" cy="891.4" r="3.6"/><circle cx="983.7" cy="900.1" r="3.6"/><circle cx="984.0" cy="889.9" r="3.6"/><circle cx="984.4" cy="892.7" r="3.6"/><circle cx="984.8" cy="891.6" r="3.6"/><circle cx="985.2" cy="889.5" r="3.6"/><circle cx="985.5" cy="885.9" r="3.6"/><circle cx="985.9" cy="881.1" r="3.6"/><circle cx="986.2" cy="883.0" r="3.6"/><circle cx="986.6" cy="877.9" r="3.6"/><circle cx="987.0" cy="871.8" r="3.6"/><circle cx="987.3" cy="881.6" r="3.6"/><circle cx="987.7" cy="875.0" r="3.6"/><circle cx="988.0" cy="875.8" r="3.6"/><circle cx="988.4" cy="868.3" r="3.6"/><circle cx="988.7" cy="872.4" r="3.6"/><circle cx="989.0" cy="871.9" r="3.6"/><circle cx="989.4" cy="871.4" r="3.6"/><circle cx="989.7" cy="868.0" r="3.6"/><circle cx="990.1" cy="865.4" r="3.6"/><circle cx="990.4" cy="867.6" r="3.6"/><circle cx="990.7" cy="863.2" r="3.6"/><circle cx="991.1" cy="864.3" r="3.6"/><circle cx="991.4" cy="868.3" r="3.6"/><circle cx="991.7" cy="866.0" r="3.6"/><circle cx="992.1" cy="867.8" r="3.6"/><circle cx="992.4" cy="868.0" r="3.6"/><circle cx="992.7" cy="872.6" r="3.6"/>
</g>
<polyline points="668.3,1010.1 711.2,1010.7 736.2,998.1 754.0,1027.2 767.7,1030.2 779.0,1039.2 788.5,1034.4 796.8,1026.7 804.0,1030.0 810.5,1030.0 816.4,1031.1 821.8,1030.3 826.8,1035.0 831.3,1043.0 835.6,1035.0 839.6,1023.9 843.3,1038.0 846.8,1040.0 850.2,1036.0 853.4,1045.0 856.4,1052.6 859.2,1045.6 862.0,1053.2 864.6,1043.2 867.1,1046.5 869.6,1054.1 871.9,1043.1 874.1,1049.8 876.3,1045.8 878.4,1055.3 880.4,1064.9 882.4,1053.0 884.3,1059.2 886.1,1053.1 887.9,1051.7 889.7,1051.2 891.3,1065.6 893.0,1069.3 894.6,1057.1 896.2,1048.3 897.7,1050.3 899.2,1043.7 900.6,1039.5 902.0,1031.8 903.4,1025.3 904.8,1019.5 906.1,1010.1 907.4,1003.1 908.7,992.3 909.9,986.8 911.2,976.5 912.4,971.9 913.5,962.5 914.7,955.9 915.8,946.6 916.9,932.1 918.0,923.5 919.1,913.6 920.2,907.1 921.2,897.0 922.2,882.7 923.2,870.5 924.2,865.4 925.2,846.9 926.1,838.6 927.1,820.2 928.0,802.0 928.9,793.6 929.8,793.8 930.7,802.7 931.6,825.5 932.5,837.1 933.3,845.2 934.2,848.1 935.0,857.3 935.8,868.4 936.6,876.5 937.4,886.1 938.2,889.4 939.0,899.3 939.7,897.0 940.5,903.2 941.2,902.4 942.0,907.8 942.7,917.4 943.4,916.1 944.1,922.8 944.9,924.9 945.6,925.8 946.2,930.3 946.9,932.9 947.6,935.6 948.3,940.9 948.9,942.9 949.6,942.4 950.2,943.6 950.9,946.5 951.5,944.6 952.1,945.1 952.7,946.1 953.4,939.3 954.0,934.6 954.6,931.2 955.2,926.0 955.8,921.8 956.3,917.3 956.9,914.1 957.5,909.4 958.1,906.9 958.6,899.0 959.2,893.9 959.7,885.8 960.3,886.0 960.8,877.0 961.4,872.9 961.9,862.2 962.4,855.0 963.0,850.7 963.5,854.0 964.0,860.1 964.5,853.4 965.0,860.7 965.5,864.4 966.0,864.9 966.5,868.8 967.0,872.2 967.5,868.5 968.0,869.8 968.5,865.0 969.0,863.0 969.4,860.7 969.9,860.0 970.4,859.4 970.8,859.0 971.3,853.8 971.7,860.7 972.2,858.6 972.6,858.3 973.1,857.8 973.5,861.1 974.0,865.7 974.4,868.7 974.8,867.1 975.3,875.4 975.7,883.4 976.1,875.9 976.5,885.5 977.0,887.3 977.4,889.1 977.8,895.0 978.2,891.3 978.6,896.6 979.0,901.6 979.4,899.9 979.8,901.1 980.2,903.5 980.6,902.9 981.0,907.4 981.4,901.4 981.8,904.5 982.2,898.4 982.5,901.3 982.9,897.8 983.3,890.4 983.7,894.3 984.0,890.0 984.4,889.6 984.8,892.4 985.2,884.8 985.5,883.2 985.9,886.9 986.2,881.9 986.6,883.0 987.0,878.1 987.3,873.4 987.7,873.3 988.0,874.6 988.4,872.5 988.7,869.2 989.0,868.5 989.4,867.8 989.7,866.7 990.1,872.4 990.4,868.0 990.7,865.5 991.1,867.0 991.4,869.7 991.7,869.6 992.1,867.9 992.4,866.8 992.7,868.5" fill="none" stroke="#07A043" stroke-width="1.6"/>
<g fill="#07A043">
<circle cx="668.3" cy="1010.1" r="3.6"/><circle cx="711.2" cy="1010.7" r="3.6"/><circle cx="736.2" cy="998.1" r="3.6"/><circle cx="754.0" cy="1027.2" r="3.6"/><circle cx="767.7" cy="1030.2" r="3.6"/><circle cx="779.0" cy="1039.2" r="3.6"/><circle cx="788.5" cy="1034.4" r="3.6"/><circle cx="796.8" cy="1026.7" r="3.6"/><circle cx="804.0" cy="1030.0" r="3.6"/><circle cx="810.5" cy="1030.0" r="3.6"/><circle cx="816.4" cy="1031.1" r="3.6"/><circle cx="821.8" cy="1030.3" r="3.6"/><circle cx="826.8" cy="1035.0" r="3.6"/><circle cx="831.3" cy="1043.0" r="3.6"/><circle cx="835.6" cy="1035.0" r="3.6"/><circle cx="839.6" cy="1023.9" r="3.6"/><circle cx="843.3" cy="1038.0" r="3.6"/><circle cx="846.8" cy="1040.0" r="3.6"/><circle cx="850.2" cy="1036.0" r="3.6"/><circle cx="853.4" cy="1045.0" r="3.6"/><circle cx="856.4" cy="1052.6" r="3.6"/><circle cx="859.2" cy="1045.6" r="3.6"/><circle cx="862.0" cy="1053.2" r="3.6"/><circle cx="864.6" cy="1043.2" r="3.6"/><circle cx="867.1" cy="1046.5" r="3.6"/><circle cx="869.6" cy="1054.1" r="3.6"/><circle cx="871.9" cy="1043.1" r="3.6"/><circle cx="874.1" cy="1049.8" r="3.6"/><circle cx="876.3" cy="1045.8" r="3.6"/><circle cx="878.4" cy="1055.3" r="3.6"/><circle cx="880.4" cy="1064.9" r="3.6"/><circle cx="882.4" cy="1053.0" r="3.6"/><circle cx="884.3" cy="1059.2" r="3.6"/><circle cx="886.1" cy="1053.1" r="3.6"/><circle cx="887.9" cy="1051.7" r="3.6"/><circle cx="889.7" cy="1051.2" r="3.6"/><circle cx="891.3" cy="1065.6" r="3.6"/><circle cx="893.0" cy="1069.3" r="3.6"/><circle cx="894.6" cy="1057.1" r="3.6"/><circle cx="896.2" cy="1048.3" r="3.6"/><circle cx="897.7" cy="1050.3" r="3.6"/><circle cx="899.2" cy="1043.7" r="3.6"/><circle cx="900.6" cy="1039.5" r="3.6"/><circle cx="902.0" cy="1031.8" r="3.6"/><circle cx="903.4" cy="1025.3" r="3.6"/><circle cx="904.8" cy="1019.5" r="3.6"/><circle cx="906.1" cy="1010.1" r="3.6"/><circle cx="907.4" cy="1003.1" r="3.6"/><circle cx="908.7" cy="992.3" r="3.6"/><circle cx="909.9" cy="986.8" r="3.6"/><circle cx="911.2" cy="976.5" r="3.6"/><circle cx="912.4" cy="971.9" r="3.6"/><circle cx="913.5" cy="962.5" r="3.6"/><circle cx="914.7" cy="955.9" r="3.6"/><circle cx="915.8" cy="946.6" r="3.6"/><circle cx="916.9" cy="932.1" r="3.6"/><circle cx="918.0" cy="923.5" r="3.6"/><circle cx="919.1" cy="913.6" r="3.6"/><circle cx="920.2" cy="907.1" r="3.6"/><circle cx="921.2" cy="897.0" r="3.6"/><circle cx="922.2" cy="882.7" r="3.6"/><circle cx="923.2" cy="870.5" r="3.6"/><circle cx="924.2" cy="865.4" r="3.6"/><circle cx="925.2" cy="846.9" r="3.6"/><circle cx="926.1" cy="838.6" r="3.6"/><circle cx="927.1" cy="820.2" r="3.6"/><circle cx="928.0" cy="802.0" r="3.6"/><circle cx="928.9" cy="793.6" r="3.6"/><circle cx="929.8" cy="793.8" r="3.6"/><circle cx="930.7" cy="802.7" r="3.6"/><circle cx="931.6" cy="825.5" r="3.6"/><circle cx="932.5" cy="837.1" r="3.6"/><circle cx="933.3" cy="845.2" r="3.6"/><circle cx="934.2" cy="848.1" r="3.6"/><circle cx="935.0" cy="857.3" r="3.6"/><circle cx="935.8" cy="868.4" r="3.6"/><circle cx="936.6" cy="876.5" r="3.6"/><circle cx="937.4" cy="886.1" r="3.6"/><circle cx="938.2" cy="889.4" r="3.6"/><circle cx="939.0" cy="899.3" r="3.6"/><circle cx="939.7" cy="897.0" r="3.6"/><circle cx="940.5" cy="903.2" r="3.6"/><circle cx="941.2" cy="902.4" r="3.6"/><circle cx="942.0" cy="907.8" r="3.6"/><circle cx="942.7" cy="917.4" r="3.6"/><circle cx="943.4" cy="916.1" r="3.6"/><circle cx="944.1" cy="922.8" r="3.6"/><circle cx="944.9" cy="924.9" r="3.6"/><circle cx="945.6" cy="925.8" r="3.6"/><circle cx="946.2" cy="930.3" r="3.6"/><circle cx="946.9" cy="932.9" r="3.6"/><circle cx="947.6" cy="935.6" r="3.6"/><circle cx="948.3" cy="940.9" r="3.6"/><circle cx="948.9" cy="942.9" r="3.6"/><circle cx="949.6" cy="942.4" r="3.6"/><circle cx="950.2" cy="943.6" r="3.6"/><circle cx="950.9" cy="946.5" r="3.6"/><circle cx="951.5" cy="944.6" r="3.6"/><circle cx="952.1" cy="945.1" r="3.6"/><circle cx="952.7" cy="946.1" r="3.6"/><circle cx="953.4" cy="939.3" r="3.6"/><circle cx="954.0" cy="934.6" r="3.6"/><circle cx="954.6" cy="931.2" r="3.6"/><circle cx="955.2" cy="926.0" r="3.6"/><circle cx="955.8" cy="921.8" r="3.6"/><circle cx="956.3" cy="917.3" r="3.6"/><circle cx="956.9" cy="914.1" r="3.6"/><circle cx="957.5" cy="909.4" r="3.6"/><circle cx="958.1" cy="906.9" r="3.6"/><circle cx="958.6" cy="899.0" r="3.6"/><circle cx="959.2" cy="893.9" r="3.6"/><circle cx="959.7" cy="885.8" r="3.6"/><circle cx="960.3" cy="886.0" r="3.6"/><circle cx="960.8" cy="877.0" r="3.6"/><circle cx="961.4" cy="872.9" r="3.6"/><circle cx="961.9" cy="862.2" r="3.6"/><circle cx="962.4" cy="855.0" r="3.6"/><circle cx="963.0" cy="850.7" r="3.6"/><circle cx="963.5" cy="854.0" r="3.6"/><circle cx="964.0" cy="860.1" r="3.6"/><circle cx="964.5" cy="853.4" r="3.6"/><circle cx="965.0" cy="860.7" r="3.6"/><circle cx="965.5" cy="864.4" r="3.6"/><circle cx="966.0" cy="864.9" r="3.6"/><circle cx="966.5" cy="868.8" r="3.6"/><circle cx="967.0" cy="872.2" r="3.6"/><circle cx="967.5" cy="868.5" r="3.6"/><circle cx="968.0" cy="869.8" r="3.6"/><circle cx="968.5" cy="865.0" r="3.6"/><circle cx="969.0" cy="863.0" r="3.6"/><circle cx="969.4" cy="860.7" r="3.6"/><circle cx="969.9" cy="860.0" r="3.6"/><circle cx="970.4" cy="859.4" r="3.6"/><circle cx="970.8" cy="859.0" r="3.6"/><circle cx="971.3" cy="853.8" r="3.6"/><circle cx="971.7" cy="860.7" r="3.6"/><circle cx="972.2" cy="858.6" r="3.6"/><circle cx="972.6" cy="858.3" r="3.6"/><circle cx="973.1" cy="857.8" r="3.6"/><circle cx="973.5" cy="861.1" r="3.6"/><circle cx="974.0" cy="865.7" r="3.6"/><circle cx="974.4" cy="868.7" r="3.6"/><circle cx="974.8" cy="867.1" r="3.6"/><circle cx="975.3" cy="875.4" r="3.6"/><circle cx="975.7" cy="883.4" r="3.6"/><circle cx="976.1" cy="875.9" r="3.6"/><circle cx="976.5" cy="885.5" r="3.6"/><circle cx="977.0" cy="887.3" r="3.6"/><circle cx="977.4" cy="889.1" r="3.6"/><circle cx="977.8" cy="895.0" r="3.6"/><circle cx="978.2" cy="891.3" r="3.6"/><circle cx="978.6" cy="896.6" r="3.6"/><circle cx="979.0" cy="901.6" r="3.6"/><circle cx="979.4" cy="899.9" r="3.6"/><circle cx="979.8" cy="901.1" r="3.6"/><circle cx="980.2" cy="903.5" r="3.6"/><circle cx="980.6" cy="902.9" r="3.6"/><circle cx="981.0" cy="907.4" r="3.6"/><circle cx="981.4" cy="901.4" r="3.6"/><circle cx="981.8" cy="904.5" r="3.6"/><circle cx="982.2" cy="898.4" r="3.6"/><circle cx="982.5" cy="901.3" r="3.6"/><circle cx="982.9" cy="897.8" r="3.6"/><circle cx="983.3" cy="890.4" r="3.6"/><circle cx="983.7" cy="894.3" r="3.6"/><circle cx="984.0" cy="890.0" r="3.6"/><circle cx="984.4" cy="889.6" r="3.6"/><circle cx="984.8" cy="892.4" r="3.6"/><circle cx="985.2" cy="884.8" r="3.6"/><circle cx="985.5" cy="883.2" r="3.6"/><circle cx="985.9" cy="886.9" r="3.6"/><circle cx="986.2" cy="881.9" r="3.6"/><circle cx="986.6" cy="883.0" r="3.6"/><circle cx="987.0" cy="878.1" r="3.6"/><circle cx="987.3" cy="873.4" r="3.6"/><circle cx="987.7" cy="873.3" r="3.6"/><circle cx="988.0" cy="874.6" r="3.6"/><circle cx="988.4" cy="872.5" r="3.6"/><circle cx="988.7" cy="869.2" r="3.6"/><circle cx="989.0" cy="868.5" r="3.6"/><circle cx="989.4" cy="867.8" r="3.6"/><circle cx="989.7" cy="866.7" r="3.6"/><circle cx="990.1" cy="872.4" r="3.6"/><circle cx="990.4" cy="868.0" r="3.6"/><circle cx="990.7" cy="865.5" r="3.6"/><circle cx="991.1" cy="867.0" r="3.6"/><circle cx="991.4" cy="869.7" r="3.6"/><circle cx="991.7" cy="869.6" r="3.6"/><circle cx="992.1" cy="867.9" r="3.6"/><circle cx="992.4" cy="866.8" r="3.6"/><circle cx="992.7" cy="868.5" r="3.6"/>
</g>
<polyline points="668.3,1016.5 711.2,1019.2 736.2,1020.2 754.0,1027.2 767.7,1032.2 779.0,1027.8 788.5,1028.3 796.8,1013.1 804.0,1034.8 810.5,1018.3 816.4,1015.5 821.8,1015.9 826.8,1027.9 831.3,1037.0 835.6,1033.0 839.6,1034.0 843.3,1040.0 846.8,1038.0 850.2,1043.0 853.4,1040.0 856.4,1036.0 859.2,1038.5 862.0,1051.1 864.6,1044.8 867.1,1050.5 869.6,1056.0 871.9,1053.6 874.1,1051.4 876.3,1065.1 878.4,1058.4 880.4,1053.9 882.4,1061.3 884.3,1060.2 886.1,1053.2 887.9,1058.4 889.7,1057.1 891.3,1046.5 893.0,1055.3 894.6,1052.9 896.2,1049.7 897.7,1045.1 899.2,1043.6 900.6,1037.7 902.0,1031.4 903.4,1022.1 904.8,1019.6 906.1,1008.6 907.4,1003.4 908.7,999.1 909.9,986.2 911.2,978.5 912.4,974.7 913.5,963.7 914.7,955.0 915.8,946.1 916.9,937.6 918.0,920.3 919.1,913.8 920.2,903.2 921.2,890.8 922.2,878.9 923.2,869.3 924.2,862.9 925.2,848.2 926.1,835.6 927.1,821.0 928.0,803.6 928.9,791.6 929.8,793.9 930.7,803.8 931.6,824.9 932.5,837.4 933.3,842.9 934.2,851.9 935.0,860.7 935.8,865.6 936.6,875.5 937.4,886.0 938.2,888.1 939.0,894.6 939.7,896.3 940.5,900.8 941.2,905.5 942.0,915.4 942.7,913.5 943.4,917.0 944.1,920.4 944.9,924.6 945.6,929.6 946.2,931.5 946.9,938.5 947.6,937.2 948.3,942.4 948.9,942.1 949.6,945.0 950.2,942.4 950.9,945.6 951.5,944.6 952.1,942.3 952.7,935.5 953.4,939.4 954.0,933.8 954.6,930.6 955.2,927.3 955.8,923.3 956.3,920.4 956.9,912.2 957.5,908.2 958.1,905.9 958.6,900.2 959.2,893.5 959.7,887.2 960.3,880.6 960.8,875.7 961.4,871.5 961.9,858.2 962.4,855.1 963.0,853.1 963.5,851.4 964.0,855.9 964.5,852.9 965.0,854.3 965.5,857.9 966.0,863.1 966.5,866.4 967.0,868.2 967.5,870.2 968.0,864.2 968.5,868.0 969.0,861.4 969.4,860.7 969.9,859.4 970.4,856.6 970.8,854.9 971.3,854.7 971.7,856.2 972.2,857.3 972.6,857.9 973.1,856.4 973.5,859.6 974.0,862.5 974.4,868.8 974.8,866.5 975.3,876.5 975.7,875.7 976.1,878.3 976.5,884.0 977.0,888.7 977.4,890.1 977.8,894.2 978.2,894.3 978.6,898.9 979.0,901.1 979.4,900.1 979.8,905.2 980.2,903.6 980.6,904.1 981.0,901.9 981.4,902.8 981.8,904.2 982.2,898.4 982.5,901.2 982.9,898.8 983.3,896.8 983.7,889.5 984.0,892.2 984.4,892.0 984.8,887.2 985.2,887.5 985.5,880.4 985.9,885.1 986.2,880.2 986.6,881.4 987.0,873.3 987.3,876.9 987.7,873.0 988.0,873.6 988.4,868.3 988.7,867.8 989.0,873.3 989.4,866.2 989.7,866.4 990.1,867.4 990.4,865.8 990.7,870.6 991.1,871.8 991.4,866.5 991.7,864.3 992.1,870.8 992.4,870.7 992.7,870.2" fill="none" stroke="#7E2A8B" stroke-width="1.6"/>
<g fill="#7E2A8B">
<circle cx="668.3" cy="1016.5" r="3.6"/><circle cx="711.2" cy="1019.2" r="3.6"/><circle cx="736.2" cy="1020.2" r="3.6"/><circle cx="754.0" cy="1027.2" r="3.6"/><circle cx="767.7" cy="1032.2" r="3.6"/><circle cx="779.0" cy="1027.8" r="3.6"/><circle cx="788.5" cy="1028.3" r="3.6"/><circle cx="796.8" cy="1013.1" r="3.6"/><circle cx="804.0" cy="1034.8" r="3.6"/><circle cx="810.5" cy="1018.3" r="3.6"/><circle cx="816.4" cy="1015.5" r="3.6"/><circle cx="821.8" cy="1015.9" r="3.6"/><circle cx="826.8" cy="1027.9" r="3.6"/><circle cx="831.3" cy="1037.0" r="3.6"/><circle cx="835.6" cy="1033.0" r="3.6"/><circle cx="839.6" cy="1034.0" r="3.6"/><circle cx="843.3" cy="1040.0" r="3.6"/><circle cx="846.8" cy="1038.0" r="3.6"/><circle cx="850.2" cy="1043.0" r="3.6"/><circle cx="853.4" cy="1040.0" r="3.6"/><circle cx="856.4" cy="1036.0" r="3.6"/><circle cx="859.2" cy="1038.5" r="3.6"/><circle cx="862.0" cy="1051.1" r="3.6"/><circle cx="864.6" cy="1044.8" r="3.6"/><circle cx="867.1" cy="1050.5" r="3.6"/><circle cx="869.6" cy="1056.0" r="3.6"/><circle cx="871.9" cy="1053.6" r="3.6"/><circle cx="874.1" cy="1051.4" r="3.6"/><circle cx="876.3" cy="1065.1" r="3.6"/><circle cx="878.4" cy="1058.4" r="3.6"/><circle cx="880.4" cy="1053.9" r="3.6"/><circle cx="882.4" cy="1061.3" r="3.6"/><circle cx="884.3" cy="1060.2" r="3.6"/><circle cx="886.1" cy="1053.2" r="3.6"/><circle cx="887.9" cy="1058.4" r="3.6"/><circle cx="889.7" cy="1057.1" r="3.6"/><circle cx="891.3" cy="1046.5" r="3.6"/><circle cx="893.0" cy="1055.3" r="3.6"/><circle cx="894.6" cy="1052.9" r="3.6"/><circle cx="896.2" cy="1049.7" r="3.6"/><circle cx="897.7" cy="1045.1" r="3.6"/><circle cx="899.2" cy="1043.6" r="3.6"/><circle cx="900.6" cy="1037.7" r="3.6"/><circle cx="902.0" cy="1031.4" r="3.6"/><circle cx="903.4" cy="1022.1" r="3.6"/><circle cx="904.8" cy="1019.6" r="3.6"/><circle cx="906.1" cy="1008.6" r="3.6"/><circle cx="907.4" cy="1003.4" r="3.6"/><circle cx="908.7" cy="999.1" r="3.6"/><circle cx="909.9" cy="986.2" r="3.6"/><circle cx="911.2" cy="978.5" r="3.6"/><circle cx="912.4" cy="974.7" r="3.6"/><circle cx="913.5" cy="963.7" r="3.6"/><circle cx="914.7" cy="955.0" r="3.6"/><circle cx="915.8" cy="946.1" r="3.6"/><circle cx="916.9" cy="937.6" r="3.6"/><circle cx="918.0" cy="920.3" r="3.6"/><circle cx="919.1" cy="913.8" r="3.6"/><circle cx="920.2" cy="903.2" r="3.6"/><circle cx="921.2" cy="890.8" r="3.6"/><circle cx="922.2" cy="878.9" r="3.6"/><circle cx="923.2" cy="869.3" r="3.6"/><circle cx="924.2" cy="862.9" r="3.6"/><circle cx="925.2" cy="848.2" r="3.6"/><circle cx="926.1" cy="835.6" r="3.6"/><circle cx="927.1" cy="821.0" r="3.6"/><circle cx="928.0" cy="803.6" r="3.6"/><circle cx="928.9" cy="791.6" r="3.6"/><circle cx="929.8" cy="793.9" r="3.6"/><circle cx="930.7" cy="803.8" r="3.6"/><circle cx="931.6" cy="824.9" r="3.6"/><circle cx="932.5" cy="837.4" r="3.6"/><circle cx="933.3" cy="842.9" r="3.6"/><circle cx="934.2" cy="851.9" r="3.6"/><circle cx="935.0" cy="860.7" r="3.6"/><circle cx="935.8" cy="865.6" r="3.6"/><circle cx="936.6" cy="875.5" r="3.6"/><circle cx="937.4" cy="886.0" r="3.6"/><circle cx="938.2" cy="888.1" r="3.6"/><circle cx="939.0" cy="894.6" r="3.6"/><circle cx="939.7" cy="896.3" r="3.6"/><circle cx="940.5" cy="900.8" r="3.6"/><circle cx="941.2" cy="905.5" r="3.6"/><circle cx="942.0" cy="915.4" r="3.6"/><circle cx="942.7" cy="913.5" r="3.6"/><circle cx="943.4" cy="917.0" r="3.6"/><circle cx="944.1" cy="920.4" r="3.6"/><circle cx="944.9" cy="924.6" r="3.6"/><circle cx="945.6" cy="929.6" r="3.6"/><circle cx="946.2" cy="931.5" r="3.6"/><circle cx="946.9" cy="938.5" r="3.6"/><circle cx="947.6" cy="937.2" r="3.6"/><circle cx="948.3" cy="942.4" r="3.6"/><circle cx="948.9" cy="942.1" r="3.6"/><circle cx="949.6" cy="945.0" r="3.6"/><circle cx="950.2" cy="942.4" r="3.6"/><circle cx="950.9" cy="945.6" r="3.6"/><circle cx="951.5" cy="944.6" r="3.6"/><circle cx="952.1" cy="942.3" r="3.6"/><circle cx="952.7" cy="935.5" r="3.6"/><circle cx="953.4" cy="939.4" r="3.6"/><circle cx="954.0" cy="933.8" r="3.6"/><circle cx="954.6" cy="930.6" r="3.6"/><circle cx="955.2" cy="927.3" r="3.6"/><circle cx="955.8" cy="923.3" r="3.6"/><circle cx="956.3" cy="920.4" r="3.6"/><circle cx="956.9" cy="912.2" r="3.6"/><circle cx="957.5" cy="908.2" r="3.6"/><circle cx="958.1" cy="905.9" r="3.6"/><circle cx="958.6" cy="900.2" r="3.6"/><circle cx="959.2" cy="893.5" r="3.6"/><circle cx="959.7" cy="887.2" r="3.6"/><circle cx="960.3" cy="880.6" r="3.6"/><circle cx="960.8" cy="875.7" r="3.6"/><circle cx="961.4" cy="871.5" r="3.6"/><circle cx="961.9" cy="858.2" r="3.6"/><circle cx="962.4" cy="855.1" r="3.6"/><circle cx="963.0" cy="853.1" r="3.6"/><circle cx="963.5" cy="851.4" r="3.6"/><circle cx="964.0" cy="855.9" r="3.6"/><circle cx="964.5" cy="852.9" r="3.6"/><circle cx="965.0" cy="854.3" r="3.6"/><circle cx="965.5" cy="857.9" r="3.6"/><circle cx="966.0" cy="863.1" r="3.6"/><circle cx="966.5" cy="866.4" r="3.6"/><circle cx="967.0" cy="868.2" r="3.6"/><circle cx="967.5" cy="870.2" r="3.6"/><circle cx="968.0" cy="864.2" r="3.6"/><circle cx="968.5" cy="868.0" r="3.6"/><circle cx="969.0" cy="861.4" r="3.6"/><circle cx="969.4" cy="860.7" r="3.6"/><circle cx="969.9" cy="859.4" r="3.6"/><circle cx="970.4" cy="856.6" r="3.6"/><circle cx="970.8" cy="854.9" r="3.6"/><circle cx="971.3" cy="854.7" r="3.6"/><circle cx="971.7" cy="856.2" r="3.6"/><circle cx="972.2" cy="857.3" r="3.6"/><circle cx="972.6" cy="857.9" r="3.6"/><circle cx="973.1" cy="856.4" r="3.6"/><circle cx="973.5" cy="859.6" r="3.6"/><circle cx="974.0" cy="862.5" r="3.6"/><circle cx="974.4" cy="868.8" r="3.6"/><circle cx="974.8" cy="866.5" r="3.6"/><circle cx="975.3" cy="876.5" r="3.6"/><circle cx="975.7" cy="875.7" r="3.6"/><circle cx="976.1" cy="878.3" r="3.6"/><circle cx="976.5" cy="884.0" r="3.6"/><circle cx="977.0" cy="888.7" r="3.6"/><circle cx="977.4" cy="890.1" r="3.6"/><circle cx="977.8" cy="894.2" r="3.6"/><circle cx="978.2" cy="894.3" r="3.6"/><circle cx="978.6" cy="898.9" r="3.6"/><circle cx="979.0" cy="901.1" r="3.6"/><circle cx="979.4" cy="900.1" r="3.6"/><circle cx="979.8" cy="905.2" r="3.6"/><circle cx="980.2" cy="903.6" r="3.6"/><circle cx="980.6" cy="904.1" r="3.6"/><circle cx="981.0" cy="901.9" r="3.6"/><circle cx="981.4" cy="902.8" r="3.6"/><circle cx="981.8" cy="904.2" r="3.6"/><circle cx="982.2" cy="898.4" r="3.6"/><circle cx="982.5" cy="901.2" r="3.6"/><circle cx="982.9" cy="898.8" r="3.6"/><circle cx="983.3" cy="896.8" r="3.6"/><circle cx="983.7" cy="889.5" r="3.6"/><circle cx="984.0" cy="892.2" r="3.6"/><circle cx="984.4" cy="892.0" r="3.6"/><circle cx="984.8" cy="887.2" r="3.6"/><circle cx="985.2" cy="887.5" r="3.6"/><circle cx="985.5" cy="880.4" r="3.6"/><circle cx="985.9" cy="885.1" r="3.6"/><circle cx="986.2" cy="880.2" r="3.6"/><circle cx="986.6" cy="881.4" r="3.6"/><circle cx="987.0" cy="873.3" r="3.6"/><circle cx="987.3" cy="876.9" r="3.6"/><circle cx="987.7" cy="873.0" r="3.6"/><circle cx="988.0" cy="873.6" r="3.6"/><circle cx="988.4" cy="868.3" r="3.6"/><circle cx="988.7" cy="867.8" r="3.6"/><circle cx="989.0" cy="873.3" r="3.6"/><circle cx="989.4" cy="866.2" r="3.6"/><circle cx="989.7" cy="866.4" r="3.6"/><circle cx="990.1" cy="867.4" r="3.6"/><circle cx="990.4" cy="865.8" r="3.6"/><circle cx="990.7" cy="870.6" r="3.6"/><circle cx="991.1" cy="871.8" r="3.6"/><circle cx="991.4" cy="866.5" r="3.6"/><circle cx="991.7" cy="864.3" r="3.6"/><circle cx="992.1" cy="870.8" r="3.6"/><circle cx="992.4" cy="870.7" r="3.6"/><circle cx="992.7" cy="870.2" r="3.6"/>
</g>
<polyline points="668.3,1027.8 711.2,1019.2 736.2,1015.7 754.0,1000.7 767.7,1003.7 779.0,1027.1 788.5,1021.9 796.8,1036.4 804.0,1022.3 810.5,1026.3 816.4,1024.7 821.8,1021.5 826.8,1037.2 831.3,1048.0 835.6,1032.8 839.6,1051.2 843.3,1040.0 846.8,1030.3 850.2,1027.9 853.4,1054.4 856.4,1051.9 859.2,1041.1 862.0,1045.6 864.6,1039.9 867.1,1040.6 869.6,1054.5 871.9,1046.3 874.1,1063.8 876.3,1053.4 878.4,1051.1 880.4,1060.3 882.4,1067.1 884.3,1060.6 886.1,1051.3 887.9,1060.0 889.7,1065.6 891.3,1054.9 893.0,1052.0 894.6,1060.1 896.2,1053.0 897.7,1046.3 899.2,1043.6 900.6,1036.1 902.0,1031.8 903.4,1024.9 904.8,1020.7 906.1,1012.9 907.4,1000.5 908.7,997.0 909.9,989.7 911.2,980.7 912.4,974.5 913.5,963.4 914.7,953.6 915.8,947.6 916.9,932.9 918.0,920.6 919.1,917.9 920.2,903.8 921.2,892.6 922.2,877.8 923.2,868.3 924.2,859.6 925.2,849.5 926.1,836.1 927.1,818.9 928.0,804.8 928.9,790.5 929.8,791.7 930.7,804.1 931.6,825.3 932.5,834.2 933.3,849.0 934.2,849.4 935.0,859.3 935.8,867.8 936.6,879.1 937.4,882.5 938.2,891.4 939.0,892.5 939.7,901.0 940.5,901.0 941.2,905.8 942.0,914.8 942.7,915.1 943.4,918.4 944.1,926.6 944.9,925.8 945.6,926.3 946.2,932.7 946.9,931.4 947.6,939.2 948.3,941.9 948.9,940.2 949.6,942.3 950.2,946.0 950.9,945.9 951.5,942.6 952.1,944.1 952.7,935.8 953.4,936.5 954.0,933.8 954.6,931.0 955.2,928.6 955.8,921.1 956.3,920.8 956.9,914.6 957.5,908.9 958.1,902.2 958.6,897.3 959.2,895.1 959.7,886.4 960.3,882.5 960.8,878.2 961.4,871.2 961.9,863.9 962.4,851.0 963.0,848.9 963.5,854.7 964.0,854.8 964.5,858.6 965.0,858.1 965.5,863.3 966.0,865.9 966.5,868.7 967.0,870.5 967.5,870.8 968.0,869.4 968.5,867.4 969.0,866.7 969.4,861.0 969.9,864.1 970.4,858.9 970.8,860.1 971.3,856.8 971.7,855.7 972.2,860.5 972.6,856.0 973.1,855.8 973.5,859.7 974.0,863.8 974.4,872.6 974.8,871.4 975.3,875.8 975.7,874.6 976.1,880.8 976.5,884.8 977.0,890.4 977.4,887.8 977.8,893.2 978.2,894.7 978.6,893.9 979.0,898.3 979.4,899.7 979.8,896.9 980.2,904.6 980.6,905.1 981.0,903.0 981.4,900.5 981.8,905.8 982.2,901.9 982.5,902.0 982.9,901.2 983.3,895.1 983.7,896.1 984.0,891.9 984.4,890.5 984.8,888.7 985.2,887.3 985.5,888.1 985.9,883.9 986.2,881.3 986.6,878.9 987.0,878.1 987.3,873.4 987.7,872.4 988.0,871.7 988.4,869.1 988.7,868.9 989.0,867.1 989.4,872.4 989.7,870.9 990.1,869.0 990.4,867.9 990.7,872.8 991.1,868.8 991.4,867.9 991.7,868.8 992.1,868.9 992.4,871.4 992.7,868.4" fill="none" stroke="#3C4DAB" stroke-width="1.6"/>
<g fill="#3C4DAB">
<circle cx="668.3" cy="1027.8" r="3.6"/><circle cx="711.2" cy="1019.2" r="3.6"/><circle cx="736.2" cy="1015.7" r="3.6"/><circle cx="754.0" cy="1000.7" r="3.6"/><circle cx="767.7" cy="1003.7" r="3.6"/><circle cx="779.0" cy="1027.1" r="3.6"/><circle cx="788.5" cy="1021.9" r="3.6"/><circle cx="796.8" cy="1036.4" r="3.6"/><circle cx="804.0" cy="1022.3" r="3.6"/><circle cx="810.5" cy="1026.3" r="3.6"/><circle cx="816.4" cy="1024.7" r="3.6"/><circle cx="821.8" cy="1021.5" r="3.6"/><circle cx="826.8" cy="1037.2" r="3.6"/><circle cx="831.3" cy="1048.0" r="3.6"/><circle cx="835.6" cy="1032.8" r="3.6"/><circle cx="839.6" cy="1051.2" r="3.6"/><circle cx="843.3" cy="1040.0" r="3.6"/><circle cx="846.8" cy="1030.3" r="3.6"/><circle cx="850.2" cy="1027.9" r="3.6"/><circle cx="853.4" cy="1054.4" r="3.6"/><circle cx="856.4" cy="1051.9" r="3.6"/><circle cx="859.2" cy="1041.1" r="3.6"/><circle cx="862.0" cy="1045.6" r="3.6"/><circle cx="864.6" cy="1039.9" r="3.6"/><circle cx="867.1" cy="1040.6" r="3.6"/><circle cx="869.6" cy="1054.5" r="3.6"/><circle cx="871.9" cy="1046.3" r="3.6"/><circle cx="874.1" cy="1063.8" r="3.6"/><circle cx="876.3" cy="1053.4" r="3.6"/><circle cx="878.4" cy="1051.1" r="3.6"/><circle cx="880.4" cy="1060.3" r="3.6"/><circle cx="882.4" cy="1067.1" r="3.6"/><circle cx="884.3" cy="1060.6" r="3.6"/><circle cx="886.1" cy="1051.3" r="3.6"/><circle cx="887.9" cy="1060.0" r="3.6"/><circle cx="889.7" cy="1065.6" r="3.6"/><circle cx="891.3" cy="1054.9" r="3.6"/><circle cx="893.0" cy="1052.0" r="3.6"/><circle cx="894.6" cy="1060.1" r="3.6"/><circle cx="896.2" cy="1053.0" r="3.6"/><circle cx="897.7" cy="1046.3" r="3.6"/><circle cx="899.2" cy="1043.6" r="3.6"/><circle cx="900.6" cy="1036.1" r="3.6"/><circle cx="902.0" cy="1031.8" r="3.6"/><circle cx="903.4" cy="1024.9" r="3.6"/><circle cx="904.8" cy="1020.7" r="3.6"/><circle cx="906.1" cy="1012.9" r="3.6"/><circle cx="907.4" cy="1000.5" r="3.6"/><circle cx="908.7" cy="997.0" r="3.6"/><circle cx="909.9" cy="989.7" r="3.6"/><circle cx="911.2" cy="980.7" r="3.6"/><circle cx="912.4" cy="974.5" r="3.6"/><circle cx="913.5" cy="963.4" r="3.6"/><circle cx="914.7" cy="953.6" r="3.6"/><circle cx="915.8" cy="947.6" r="3.6"/><circle cx="916.9" cy="932.9" r="3.6"/><circle cx="918.0" cy="920.6" r="3.6"/><circle cx="919.1" cy="917.9" r="3.6"/><circle cx="920.2" cy="903.8" r="3.6"/><circle cx="921.2" cy="892.6" r="3.6"/><circle cx="922.2" cy="877.8" r="3.6"/><circle cx="923.2" cy="868.3" r="3.6"/><circle cx="924.2" cy="859.6" r="3.6"/><circle cx="925.2" cy="849.5" r="3.6"/><circle cx="926.1" cy="836.1" r="3.6"/><circle cx="927.1" cy="818.9" r="3.6"/><circle cx="928.0" cy="804.8" r="3.6"/><circle cx="928.9" cy="790.5" r="3.6"/><circle cx="929.8" cy="791.7" r="3.6"/><circle cx="930.7" cy="804.1" r="3.6"/><circle cx="931.6" cy="825.3" r="3.6"/><circle cx="932.5" cy="834.2" r="3.6"/><circle cx="933.3" cy="849.0" r="3.6"/><circle cx="934.2" cy="849.4" r="3.6"/><circle cx="935.0" cy="859.3" r="3.6"/><circle cx="935.8" cy="867.8" r="3.6"/><circle cx="936.6" cy="879.1" r="3.6"/><circle cx="937.4" cy="882.5" r="3.6"/><circle cx="938.2" cy="891.4" r="3.6"/><circle cx="939.0" cy="892.5" r="3.6"/><circle cx="939.7" cy="901.0" r="3.6"/><circle cx="940.5" cy="901.0" r="3.6"/><circle cx="941.2" cy="905.8" r="3.6"/><circle cx="942.0" cy="914.8" r="3.6"/><circle cx="942.7" cy="915.1" r="3.6"/><circle cx="943.4" cy="918.4" r="3.6"/><circle cx="944.1" cy="926.6" r="3.6"/><circle cx="944.9" cy="925.8" r="3.6"/><circle cx="945.6" cy="926.3" r="3.6"/><circle cx="946.2" cy="932.7" r="3.6"/><circle cx="946.9" cy="931.4" r="3.6"/><circle cx="947.6" cy="939.2" r="3.6"/><circle cx="948.3" cy="941.9" r="3.6"/><circle cx="948.9" cy="940.2" r="3.6"/><circle cx="949.6" cy="942.3" r="3.6"/><circle cx="950.2" cy="946.0" r="3.6"/><circle cx="950.9" cy="945.9" r="3.6"/><circle cx="951.5" cy="942.6" r="3.6"/><circle cx="952.1" cy="944.1" r="3.6"/><circle cx="952.7" cy="935.8" r="3.6"/><circle cx="953.4" cy="936.5" r="3.6"/><circle cx="954.0" cy="933.8" r="3.6"/><circle cx="954.6" cy="931.0" r="3.6"/><circle cx="955.2" cy="928.6" r="3.6"/><circle cx="955.8" cy="921.1" r="3.6"/><circle cx="956.3" cy="920.8" r="3.6"/><circle cx="956.9" cy="914.6" r="3.6"/><circle cx="957.5" cy="908.9" r="3.6"/><circle cx="958.1" cy="902.2" r="3.6"/><circle cx="958.6" cy="897.3" r="3.6"/><circle cx="959.2" cy="895.1" r="3.6"/><circle cx="959.7" cy="886.4" r="3.6"/><circle cx="960.3" cy="882.5" r="3.6"/><circle cx="960.8" cy="878.2" r="3.6"/><circle cx="961.4" cy="871.2" r="3.6"/><circle cx="961.9" cy="863.9" r="3.6"/><circle cx="962.4" cy="851.0" r="3.6"/><circle cx="963.0" cy="848.9" r="3.6"/><circle cx="963.5" cy="854.7" r="3.6"/><circle cx="964.0" cy="854.8" r="3.6"/><circle cx="964.5" cy="858.6" r="3.6"/><circle cx="965.0" cy="858.1" r="3.6"/><circle cx="965.5" cy="863.3" r="3.6"/><circle cx="966.0" cy="865.9" r="3.6"/><circle cx="966.5" cy="868.7" r="3.6"/><circle cx="967.0" cy="870.5" r="3.6"/><circle cx="967.5" cy="870.8" r="3.6"/><circle cx="968.0" cy="869.4" r="3.6"/><circle cx="968.5" cy="867.4" r="3.6"/><circle cx="969.0" cy="866.7" r="3.6"/><circle cx="969.4" cy="861.0" r="3.6"/><circle cx="969.9" cy="864.1" r="3.6"/><circle cx="970.4" cy="858.9" r="3.6"/><circle cx="970.8" cy="860.1" r="3.6"/><circle cx="971.3" cy="856.8" r="3.6"/><circle cx="971.7" cy="855.7" r="3.6"/><circle cx="972.2" cy="860.5" r="3.6"/><circle cx="972.6" cy="856.0" r="3.6"/><circle cx="973.1" cy="855.8" r="3.6"/><circle cx="973.5" cy="859.7" r="3.6"/><circle cx="974.0" cy="863.8" r="3.6"/><circle cx="974.4" cy="872.6" r="3.6"/><circle cx="974.8" cy="871.4" r="3.6"/><circle cx="975.3" cy="875.8" r="3.6"/><circle cx="975.7" cy="874.6" r="3.6"/><circle cx="976.1" cy="880.8" r="3.6"/><circle cx="976.5" cy="884.8" r="3.6"/><circle cx="977.0" cy="890.4" r="3.6"/><circle cx="977.4" cy="887.8" r="3.6"/><circle cx="977.8" cy="893.2" r="3.6"/><circle cx="978.2" cy="894.7" r="3.6"/><circle cx="978.6" cy="893.9" r="3.6"/><circle cx="979.0" cy="898.3" r="3.6"/><circle cx="979.4" cy="899.7" r="3.6"/><circle cx="979.8" cy="896.9" r="3.6"/><circle cx="980.2" cy="904.6" r="3.6"/><circle cx="980.6" cy="905.1" r="3.6"/><circle cx="981.0" cy="903.0" r="3.6"/><circle cx="981.4" cy="900.5" r="3.6"/><circle cx="981.8" cy="905.8" r="3.6"/><circle cx="982.2" cy="901.9" r="3.6"/><circle cx="982.5" cy="902.0" r="3.6"/><circle cx="982.9" cy="901.2" r="3.6"/><circle cx="983.3" cy="895.1" r="3.6"/><circle cx="983.7" cy="896.1" r="3.6"/><circle cx="984.0" cy="891.9" r="3.6"/><circle cx="984.4" cy="890.5" r="3.6"/><circle cx="984.8" cy="888.7" r="3.6"/><circle cx="985.2" cy="887.3" r="3.6"/><circle cx="985.5" cy="888.1" r="3.6"/><circle cx="985.9" cy="883.9" r="3.6"/><circle cx="986.2" cy="881.3" r="3.6"/><circle cx="986.6" cy="878.9" r="3.6"/><circle cx="987.0" cy="878.1" r="3.6"/><circle cx="987.3" cy="873.4" r="3.6"/><circle cx="987.7" cy="872.4" r="3.6"/><circle cx="988.0" cy="871.7" r="3.6"/><circle cx="988.4" cy="869.1" r="3.6"/><circle cx="988.7" cy="868.9" r="3.6"/><circle cx="989.0" cy="867.1" r="3.6"/><circle cx="989.4" cy="872.4" r="3.6"/><circle cx="989.7" cy="870.9" r="3.6"/><circle cx="990.1" cy="869.0" r="3.6"/><circle cx="990.4" cy="867.9" r="3.6"/><circle cx="990.7" cy="872.8" r="3.6"/><circle cx="991.1" cy="868.8" r="3.6"/><circle cx="991.4" cy="867.9" r="3.6"/><circle cx="991.7" cy="868.8" r="3.6"/><circle cx="992.1" cy="868.9" r="3.6"/><circle cx="992.4" cy="871.4" r="3.6"/><circle cx="992.7" cy="868.4" r="3.6"/>
</g>
<path d="M0.272,0 L0.358,0 L0.358,-0.705 L0.29,-0.705 C0.27,-0.665 0.255,-0.635 0.235,-0.615 C0.2,-0.585 0.14,-0.57 0.105,-0.56 C0.09,-0.555 0.083,-0.545 0.083,-0.53 C0.083,-0.51 0.095,-0.5 0.11,-0.5 L0.272,-0.5 Z" fill="#000" transform="translate(66.03,792.90) scale(33.500)"/>
<text x="84.67" y="792.90" style="font-family:Liberation Sans;font-size:33.50px;">0</text>
<path d="M0.272,0 L0.358,0 L0.358,-0.705 L0.29,-0.705 C0.27,-0.665 0.255,-0.635 0.235,-0.615 C0.2,-0.585 0.14,-0.57 0.105,-0.56 C0.09,-0.555 0.083,-0.545 0.083,-0.53 C0.083,-0.51 0.095,-0.5 0.11,-0.5 L0.272,-0.5 Z" fill="#000" transform="translate(103.30,780.10) scale(25.000)"/>
<path d="M0.272,0 L0.358,0 L0.358,-0.705 L0.29,-0.705 C0.27,-0.665 0.255,-0.635 0.235,-0.615 C0.2,-0.585 0.14,-0.57 0.105,-0.56 C0.09,-0.555 0.083,-0.545 0.083,-0.53 C0.083,-0.51 0.095,-0.5 0.11,-0.5 L0.272,-0.5 Z" fill="#000" transform="translate(66.03,898.30) scale(33.500)"/>
<text x="84.67" y="898.30" style="font-family:Liberation Sans;font-size:33.50px;">0</text>
<text x="103.30" y="885.50" style="font-family:Liberation Sans;font-size:25.00px;">0</text>
<path d="M0.272,0 L0.358,0 L0.358,-0.705 L0.29,-0.705 C0.27,-0.665 0.255,-0.635 0.235,-0.615 C0.2,-0.585 0.14,-0.57 0.105,-0.56 C0.09,-0.555 0.083,-0.545 0.083,-0.53 C0.083,-0.51 0.095,-0.5 0.11,-0.5 L0.272,-0.5 Z" fill="#000" transform="translate(52.53,1003.90) scale(33.500)"/>
<text x="71.17" y="1003.90" style="font-family:Liberation Sans;font-size:33.50px;">0</text>
<text x="89.80" y="992.10" style="font-family:Liberation Sans;font-size:25.00px;">−</text>
<path d="M0.272,0 L0.358,0 L0.358,-0.705 L0.29,-0.705 C0.27,-0.665 0.255,-0.635 0.235,-0.615 C0.2,-0.585 0.14,-0.57 0.105,-0.56 C0.09,-0.555 0.083,-0.545 0.083,-0.53 C0.083,-0.51 0.095,-0.5 0.11,-0.5 L0.272,-0.5 Z" fill="#000" transform="translate(104.40,992.10) scale(25.000)"/>
<path d="M0.272,0 L0.358,0 L0.358,-0.705 L0.29,-0.705 C0.27,-0.665 0.255,-0.635 0.235,-0.615 C0.2,-0.585 0.14,-0.57 0.105,-0.56 C0.09,-0.555 0.083,-0.545 0.083,-0.53 C0.083,-0.51 0.095,-0.5 0.11,-0.5 L0.272,-0.5 Z" fill="#000" transform="translate(52.53,1110.10) scale(33.500)"/>
<text x="71.17" y="1110.10" style="font-family:Liberation Sans;font-size:33.50px;">0</text>
<text x="89.80" y="1098.30" style="font-family:Liberation Sans;font-size:25.00px;">−2</text>
<path d="M0.272,0 L0.358,0 L0.358,-0.705 L0.29,-0.705 C0.27,-0.665 0.255,-0.635 0.235,-0.615 C0.2,-0.585 0.14,-0.57 0.105,-0.56 C0.09,-0.555 0.083,-0.545 0.083,-0.53 C0.083,-0.51 0.095,-0.5 0.11,-0.5 L0.272,-0.5 Z" fill="#000" transform="translate(588.03,792.90) scale(33.500)"/>
<text x="606.67" y="792.90" style="font-family:Liberation Sans;font-size:33.50px;">0</text>
<path d="M0.272,0 L0.358,0 L0.358,-0.705 L0.29,-0.705 C0.27,-0.665 0.255,-0.635 0.235,-0.615 C0.2,-0.585 0.14,-0.57 0.105,-0.56 C0.09,-0.555 0.083,-0.545 0.083,-0.53 C0.083,-0.51 0.095,-0.5 0.11,-0.5 L0.272,-0.5 Z" fill="#000" transform="translate(625.30,780.10) scale(25.000)"/>
<path d="M0.272,0 L0.358,0 L0.358,-0.705 L0.29,-0.705 C0.27,-0.665 0.255,-0.635 0.235,-0.615 C0.2,-0.585 0.14,-0.57 0.105,-0.56 C0.09,-0.555 0.083,-0.545 0.083,-0.53 C0.083,-0.51 0.095,-0.5 0.11,-0.5 L0.272,-0.5 Z" fill="#000" transform="translate(588.03,898.30) scale(33.500)"/>
<text x="606.67" y="898.30" style="font-family:Liberation Sans;font-size:33.50px;">0</text>
<text x="625.30" y="885.50" style="font-family:Liberation Sans;font-size:25.00px;">0</text>
<path d="M0.272,0 L0.358,0 L0.358,-0.705 L0.29,-0.705 C0.27,-0.665 0.255,-0.635 0.235,-0.615 C0.2,-0.585 0.14,-0.57 0.105,-0.56 C0.09,-0.555 0.083,-0.545 0.083,-0.53 C0.083,-0.51 0.095,-0.5 0.11,-0.5 L0.272,-0.5 Z" fill="#000" transform="translate(574.53,1003.90) scale(33.500)"/>
<text x="593.17" y="1003.90" style="font-family:Liberation Sans;font-size:33.50px;">0</text>
<text x="611.80" y="992.10" style="font-family:Liberation Sans;font-size:25.00px;">−</text>
<path d="M0.272,0 L0.358,0 L0.358,-0.705 L0.29,-0.705 C0.27,-0.665 0.255,-0.635 0.235,-0.615 C0.2,-0.585 0.14,-0.57 0.105,-0.56 C0.09,-0.555 0.083,-0.545 0.083,-0.53 C0.083,-0.51 0.095,-0.5 0.11,-0.5 L0.272,-0.5 Z" fill="#000" transform="translate(626.40,992.10) scale(25.000)"/>
<path d="M0.272,0 L0.358,0 L0.358,-0.705 L0.29,-0.705 C0.27,-0.665 0.255,-0.635 0.235,-0.615 C0.2,-0.585 0.14,-0.57 0.105,-0.56 C0.09,-0.555 0.083,-0.545 0.083,-0.53 C0.083,-0.51 0.095,-0.5 0.11,-0.5 L0.272,-0.5 Z" fill="#000" transform="translate(574.53,1110.10) scale(33.500)"/>
<text x="593.17" y="1110.10" style="font-family:Liberation Sans;font-size:33.50px;">0</text>
<text x="611.80" y="1098.30" style="font-family:Liberation Sans;font-size:25.00px;">−2</text>
<text x="119.59" y="1130.69" style="font-family:Liberation Sans;font-size:33.50px;">0.</text>
<path d="M0.272,0 L0.358,0 L0.358,-0.705 L0.29,-0.705 C0.27,-0.665 0.255,-0.635 0.235,-0.615 C0.2,-0.585 0.14,-0.57 0.105,-0.56 C0.09,-0.555 0.083,-0.545 0.083,-0.53 C0.083,-0.51 0.095,-0.5 0.11,-0.5 L0.272,-0.5 Z" fill="#000" transform="translate(147.53,1130.69) scale(33.500)"/>
<path d="M0.272,0 L0.358,0 L0.358,-0.705 L0.29,-0.705 C0.27,-0.665 0.255,-0.635 0.235,-0.615 C0.2,-0.585 0.14,-0.57 0.105,-0.56 C0.09,-0.555 0.083,-0.545 0.083,-0.53 C0.083,-0.51 0.095,-0.5 0.11,-0.5 L0.272,-0.5 Z" fill="#000" transform="translate(276.45,1130.35) scale(33.500)"/>
<path d="M0.272,0 L0.358,0 L0.358,-0.705 L0.29,-0.705 C0.27,-0.665 0.255,-0.635 0.235,-0.615 C0.2,-0.585 0.14,-0.57 0.105,-0.56 C0.09,-0.555 0.083,-0.545 0.083,-0.53 C0.083,-0.51 0.095,-0.5 0.11,-0.5 L0.272,-0.5 Z" fill="#000" transform="translate(409.45,1130.69) scale(33.500)"/>
<text x="428.08" y="1130.69" style="font-family:Liberation Sans;font-size:33.50px;">0</text>
<text x="641.59" y="1130.69" style="font-family:Liberation Sans;font-size:33.50px;">0.</text>
<path d="M0.272,0 L0.358,0 L0.358,-0.705 L0.29,-0.705 C0.27,-0.665 0.255,-0.635 0.235,-0.615 C0.2,-0.585 0.14,-0.57 0.105,-0.56 C0.09,-0.555 0.083,-0.545 0.083,-0.53 C0.083,-0.51 0.095,-0.5 0.11,-0.5 L0.272,-0.5 Z" fill="#000" transform="translate(669.53,1130.69) scale(33.500)"/>
<path d="M0.272,0 L0.358,0 L0.358,-0.705 L0.29,-0.705 C0.27,-0.665 0.255,-0.635 0.235,-0.615 C0.2,-0.585 0.14,-0.57 0.105,-0.56 C0.09,-0.555 0.083,-0.545 0.083,-0.53 C0.083,-0.51 0.095,-0.5 0.11,-0.5 L0.272,-0.5 Z" fill="#000" transform="translate(799.05,1130.35) scale(33.500)"/>
<path d="M0.272,0 L0.358,0 L0.358,-0.705 L0.29,-0.705 C0.27,-0.665 0.255,-0.635 0.235,-0.615 C0.2,-0.585 0.14,-0.57 0.105,-0.56 C0.09,-0.555 0.083,-0.545 0.083,-0.53 C0.083,-0.51 0.095,-0.5 0.11,-0.5 L0.272,-0.5 Z" fill="#000" transform="translate(932.05,1130.69) scale(33.500)"/>
<text x="950.68" y="1130.69" style="font-family:Liberation Sans;font-size:33.50px;">0</text>
<text x="292.64" y="1175.20" style="font-family:Liberation Sans;font-size:34.00px;font-style:italic;">k</text>
<text x="814.14" y="1175.20" style="font-family:Liberation Sans;font-size:34.00px;font-style:italic;">k</text>
<text transform="translate(27.9,964.6) rotate(-90)" style="font-family:Liberation Sans;font-size:34px">S(<tspan style="font-style:italic">k</tspan>)</text>
<text transform="translate(548.9,964.6) rotate(-90)" style="font-family:Liberation Sans;font-size:34px">S(<tspan style="font-style:italic">k</tspan>)</text>
<line x1="143.1" y1="813.8" x2="183.1" y2="813.8" stroke="#ED1C24" stroke-width="1.8"/>
<circle cx="163.1" cy="813.8" r="3.7" fill="#ED1C24"/>
<text x="195.27" y="824.20" style="font-family:Liberation Sans;font-size:29.30px;font-style:italic;">T</text>
<text x="219.27" y="824.20" style="font-family:Liberation Sans;font-size:29.30px;">=</text>
<text x="244.36" y="824.20" style="font-family:Liberation Sans;font-size:29.30px;">0.003</text>
<line x1="143.1" y1="850.7" x2="183.1" y2="850.7" stroke="#EF8A2D" stroke-width="1.8"/>
<circle cx="163.1" cy="850.7" r="3.7" fill="#EF8A2D"/>
<text x="195.27" y="861.10" style="font-family:Liberation Sans;font-size:29.30px;font-style:italic;">T</text>
<text x="219.27" y="861.10" style="font-family:Liberation Sans;font-size:29.30px;">=</text>
<text x="244.36" y="861.10" style="font-family:Liberation Sans;font-size:29.30px;">0.0025</text>
<line x1="143.1" y1="887.4" x2="183.1" y2="887.4" stroke="#07A043" stroke-width="1.8"/>
<circle cx="163.1" cy="887.4" r="3.7" fill="#07A043"/>
<text x="195.27" y="897.80" style="font-family:Liberation Sans;font-size:29.30px;font-style:italic;">T</text>
<text x="219.27" y="897.80" style="font-family:Liberation Sans;font-size:29.30px;">=</text>
<text x="244.36" y="897.80" style="font-family:Liberation Sans;font-size:29.30px;">0.002</text>
<line x1="143.1" y1="923.9" x2="183.1" y2="923.9" stroke="#7E2A8B" stroke-width="1.8"/>
<circle cx="163.1" cy="923.9" r="3.7" fill="#7E2A8B"/>
<text x="195.27" y="934.30" style="font-family:Liberation Sans;font-size:29.30px;font-style:italic;">T</text>
<text x="219.27" y="934.30" style="font-family:Liberation Sans;font-size:29.30px;">=</text>
<text x="244.36" y="934.30" style="font-family:Liberation Sans;font-size:29.30px;">0.00</text>
<path d="M0.272,0 L0.358,0 L0.358,-0.705 L0.29,-0.705 C0.27,-0.665 0.255,-0.635 0.235,-0.615 C0.2,-0.585 0.14,-0.57 0.105,-0.56 C0.09,-0.555 0.083,-0.545 0.083,-0.53 C0.083,-0.51 0.095,-0.5 0.11,-0.5 L0.272,-0.5 Z" fill="#000" transform="translate(301.38,934.30) scale(29.300)"/>
<text x="317.68" y="934.30" style="font-family:Liberation Sans;font-size:29.30px;">5</text>
<line x1="143.1" y1="960.8" x2="183.1" y2="960.8" stroke="#3C4DAB" stroke-width="1.8"/>
<circle cx="163.1" cy="960.8" r="3.7" fill="#3C4DAB"/>
<text x="195.27" y="971.20" style="font-family:Liberation Sans;font-size:29.30px;font-style:italic;">T</text>
<text x="219.27" y="971.20" style="font-family:Liberation Sans;font-size:29.30px;">=</text>
<text x="244.36" y="971.20" style="font-family:Liberation Sans;font-size:29.30px;">0.00</text>
<path d="M0.272,0 L0.358,0 L0.358,-0.705 L0.29,-0.705 C0.27,-0.665 0.255,-0.635 0.235,-0.615 C0.2,-0.585 0.14,-0.57 0.105,-0.56 C0.09,-0.555 0.083,-0.545 0.083,-0.53 C0.083,-0.51 0.095,-0.5 0.11,-0.5 L0.272,-0.5 Z" fill="#000" transform="translate(301.38,971.20) scale(29.300)"/>
<line x1="676.1" y1="814.1" x2="716.6" y2="814.1" stroke="#ED1C24" stroke-width="1.8"/>
<circle cx="696.1" cy="814.1" r="3.7" fill="#ED1C24"/>
<g transform="translate(727.80,805.00)"><path d="M0.4,3.8 C0.9,1.5 1.9,0.3 3,0.3 C4.8,0.3 5.7,2.3 5.9,5.5 L6.1,11.3" fill="none" stroke="#000" stroke-width="0.95"/><path d="M10.5,4 C9.8,6.5 8.4,8.8 6.4,11.4" fill="none" stroke="#000" stroke-width="0.75"/><ellipse cx="10.3" cy="2.3" rx="0.95" ry="2.0" fill="#000" transform="rotate(-10 10.3 2.3)"/><path d="M5.4,11.3 L6.9,11.7 C6.3,14.5 5.4,17.2 4.6,18.4 C4.2,19 3,18.9 3,18.2 C3.2,16.2 4.4,13.5 5.4,11.3 Z" fill="#000"/></g>
<text x="748.04" y="820.20" style="font-family:Liberation Sans;font-size:30.00px;">=</text>
<path d="M0.272,0 L0.358,0 L0.358,-0.705 L0.29,-0.705 C0.27,-0.665 0.255,-0.635 0.235,-0.615 C0.2,-0.585 0.14,-0.57 0.105,-0.56 C0.09,-0.555 0.083,-0.545 0.083,-0.53 C0.083,-0.51 0.095,-0.5 0.11,-0.5 L0.272,-0.5 Z" fill="#000" transform="translate(773.71,818.20) scale(30.000)"/>
<text x="790.40" y="818.20" style="font-family:Liberation Sans;font-size:30.00px;">0</text>
<text x="806.30" y="805.20" style="font-family:Liberation Sans;font-size:20.00px;">−6</text>
<line x1="676.1" y1="850.6" x2="716.6" y2="850.6" stroke="#EF8A2D" stroke-width="1.8"/>
<circle cx="696.1" cy="850.6" r="3.7" fill="#EF8A2D"/>
<g transform="translate(727.80,841.50)"><path d="M0.4,3.8 C0.9,1.5 1.9,0.3 3,0.3 C4.8,0.3 5.7,2.3 5.9,5.5 L6.1,11.3" fill="none" stroke="#000" stroke-width="0.95"/><path d="M10.5,4 C9.8,6.5 8.4,8.8 6.4,11.4" fill="none" stroke="#000" stroke-width="0.75"/><ellipse cx="10.3" cy="2.3" rx="0.95" ry="2.0" fill="#000" transform="rotate(-10 10.3 2.3)"/><path d="M5.4,11.3 L6.9,11.7 C6.3,14.5 5.4,17.2 4.6,18.4 C4.2,19 3,18.9 3,18.2 C3.2,16.2 4.4,13.5 5.4,11.3 Z" fill="#000"/></g>
<text x="748.04" y="856.70" style="font-family:Liberation Sans;font-size:30.00px;">=</text>
<path d="M0.272,0 L0.358,0 L0.358,-0.705 L0.29,-0.705 C0.27,-0.665 0.255,-0.635 0.235,-0.615 C0.2,-0.585 0.14,-0.57 0.105,-0.56 C0.09,-0.555 0.083,-0.545 0.083,-0.53 C0.083,-0.51 0.095,-0.5 0.11,-0.5 L0.272,-0.5 Z" fill="#000" transform="translate(773.71,854.70) scale(30.000)"/>
<text x="790.40" y="854.70" style="font-family:Liberation Sans;font-size:30.00px;">0</text>
<text x="806.30" y="841.70" style="font-family:Liberation Sans;font-size:20.00px;">−7</text>
<line x1="676.1" y1="887.8" x2="716.6" y2="887.8" stroke="#07A043" stroke-width="1.8"/>
<circle cx="696.1" cy="887.8" r="3.7" fill="#07A043"/>
<g transform="translate(727.80,878.70)"><path d="M0.4,3.8 C0.9,1.5 1.9,0.3 3,0.3 C4.8,0.3 5.7,2.3 5.9,5.5 L6.1,11.3" fill="none" stroke="#000" stroke-width="0.95"/><path d="M10.5,4 C9.8,6.5 8.4,8.8 6.4,11.4" fill="none" stroke="#000" stroke-width="0.75"/><ellipse cx="10.3" cy="2.3" rx="0.95" ry="2.0" fill="#000" transform="rotate(-10 10.3 2.3)"/><path d="M5.4,11.3 L6.9,11.7 C6.3,14.5 5.4,17.2 4.6,18.4 C4.2,19 3,18.9 3,18.2 C3.2,16.2 4.4,13.5 5.4,11.3 Z" fill="#000"/></g>
<text x="748.04" y="893.90" style="font-family:Liberation Sans;font-size:30.00px;">=</text>
<path d="M0.272,0 L0.358,0 L0.358,-0.705 L0.29,-0.705 C0.27,-0.665 0.255,-0.635 0.235,-0.615 C0.2,-0.585 0.14,-0.57 0.105,-0.56 C0.09,-0.555 0.083,-0.545 0.083,-0.53 C0.083,-0.51 0.095,-0.5 0.11,-0.5 L0.272,-0.5 Z" fill="#000" transform="translate(773.71,891.90) scale(30.000)"/>
<text x="790.40" y="891.90" style="font-family:Liberation Sans;font-size:30.00px;">0</text>
<text x="806.30" y="878.90" style="font-family:Liberation Sans;font-size:20.00px;">−8</text>
<line x1="676.1" y1="924.5" x2="716.6" y2="924.5" stroke="#7E2A8B" stroke-width="1.8"/>
<circle cx="696.1" cy="924.5" r="3.7" fill="#7E2A8B"/>
<g transform="translate(727.80,915.40)"><path d="M0.4,3.8 C0.9,1.5 1.9,0.3 3,0.3 C4.8,0.3 5.7,2.3 5.9,5.5 L6.1,11.3" fill="none" stroke="#000" stroke-width="0.95"/><path d="M10.5,4 C9.8,6.5 8.4,8.8 6.4,11.4" fill="none" stroke="#000" stroke-width="0.75"/><ellipse cx="10.3" cy="2.3" rx="0.95" ry="2.0" fill="#000" transform="rotate(-10 10.3 2.3)"/><path d="M5.4,11.3 L6.9,11.7 C6.3,14.5 5.4,17.2 4.6,18.4 C4.2,19 3,18.9 3,18.2 C3.2,16.2 4.4,13.5 5.4,11.3 Z" fill="#000"/></g>
<text x="748.04" y="930.60" style="font-family:Liberation Sans;font-size:30.00px;">=</text>
<path d="M0.272,0 L0.358,0 L0.358,-0.705 L0.29,-0.705 C0.27,-0.665 0.255,-0.635 0.235,-0.615 C0.2,-0.585 0.14,-0.57 0.105,-0.56 C0.09,-0.555 0.083,-0.545 0.083,-0.53 C0.083,-0.51 0.095,-0.5 0.11,-0.5 L0.272,-0.5 Z" fill="#000" transform="translate(773.71,928.60) scale(30.000)"/>
<text x="790.40" y="928.60" style="font-family:Liberation Sans;font-size:30.00px;">0</text>
<text x="806.30" y="915.60" style="font-family:Liberation Sans;font-size:20.00px;">−9</text>
<line x1="676.1" y1="961.2" x2="716.6" y2="961.2" stroke="#3C4DAB" stroke-width="1.8"/>
<circle cx="696.1" cy="961.2" r="3.7" fill="#3C4DAB"/>
<g transform="translate(727.80,952.10)"><path d="M0.4,3.8 C0.9,1.5 1.9,0.3 3,0.3 C4.8,0.3 5.7,2.3 5.9,5.5 L6.1,11.3" fill="none" stroke="#000" stroke-width="0.95"/><path d="M10.5,4 C9.8,6.5 8.4,8.8 6.4,11.4" fill="none" stroke="#000" stroke-width="0.75"/><ellipse cx="10.3" cy="2.3" rx="0.95" ry="2.0" fill="#000" transform="rotate(-10 10.3 2.3)"/><path d="M5.4,11.3 L6.9,11.7 C6.3,14.5 5.4,17.2 4.6,18.4 C4.2,19 3,18.9 3,18.2 C3.2,16.2 4.4,13.5 5.4,11.3 Z" fill="#000"/></g>
<text x="748.04" y="967.30" style="font-family:Liberation Sans;font-size:30.00px;">=</text>
<path d="M0.272,0 L0.358,0 L0.358,-0.705 L0.29,-0.705 C0.27,-0.665 0.255,-0.635 0.235,-0.615 C0.2,-0.585 0.14,-0.57 0.105,-0.56 C0.09,-0.555 0.083,-0.545 0.083,-0.53 C0.083,-0.51 0.095,-0.5 0.11,-0.5 L0.272,-0.5 Z" fill="#000" transform="translate(773.71,965.30) scale(30.000)"/>
<text x="790.40" y="965.30" style="font-family:Liberation Sans;font-size:30.00px;">0</text>
<text x="806.30" y="952.30" style="font-family:Liberation Sans;font-size:20.00px;">−</text>
<path d="M0.272,0 L0.358,0 L0.358,-0.705 L0.29,-0.705 C0.27,-0.665 0.255,-0.635 0.235,-0.615 C0.2,-0.585 0.14,-0.57 0.105,-0.56 C0.09,-0.555 0.083,-0.545 0.083,-0.53 C0.083,-0.51 0.095,-0.5 0.11,-0.5 L0.272,-0.5 Z" fill="#000" transform="translate(817.98,952.30) scale(20.000)"/>
<text x="829.10" y="952.30" style="font-family:Liberation Sans;font-size:20.00px;">0</text>
</svg>
</body></html>
